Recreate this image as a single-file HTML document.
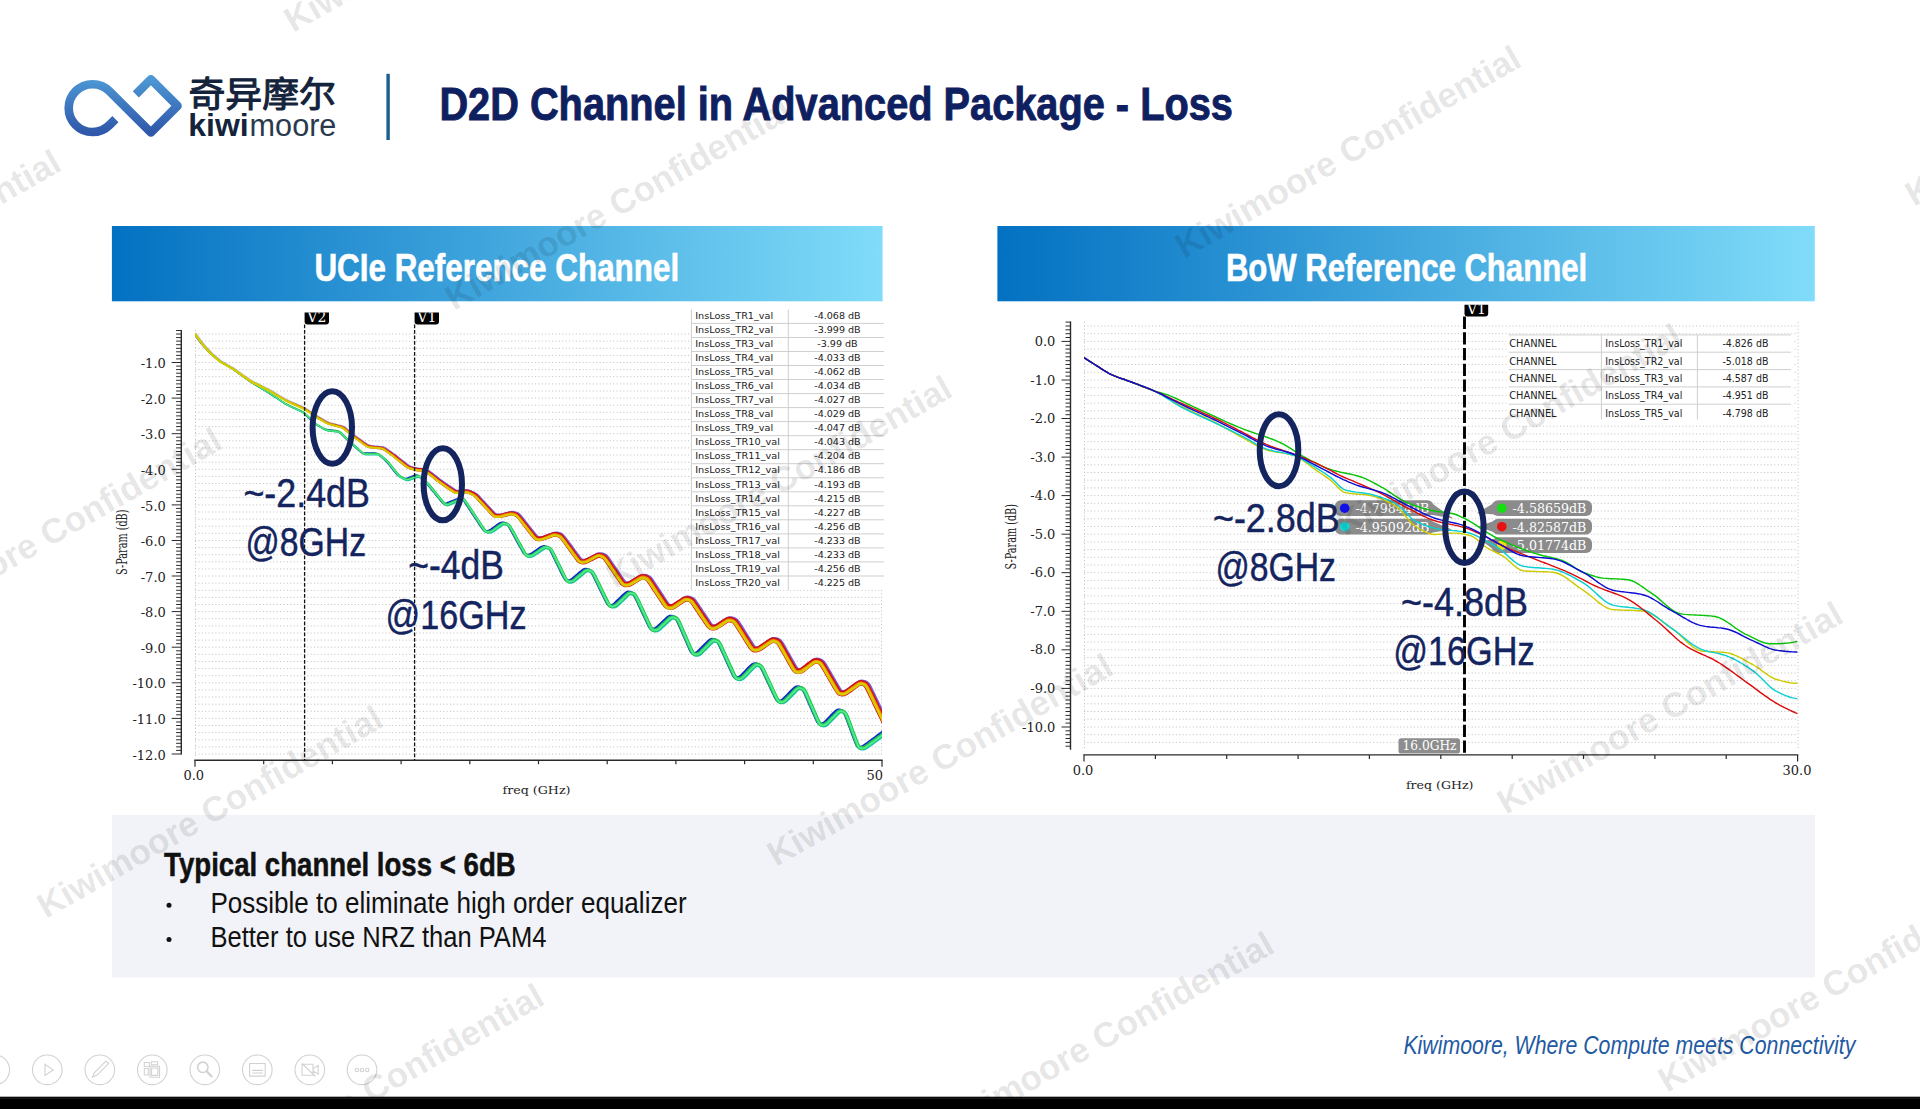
<!DOCTYPE html>
<html lang="en">
<head>
<meta charset="utf-8">
<title>D2D Channel in Advanced Package - Loss</title>
<style>
html,body{margin:0;padding:0;background:#fff;}
body{width:1920px;height:1109px;position:relative;overflow:hidden;font-family:"Liberation Sans",sans-serif;}
.abs{position:absolute;}
.cond{display:inline-block;white-space:nowrap;transform-origin:0 0;}
#slide{position:absolute;left:0;top:0;width:1920px;height:1109px;overflow:hidden;background:#fff;}
svg{position:absolute;left:0;top:0;overflow:visible;}
</style>
</head>
<body>
<div id="slide">
<svg id="art" width="1920" height="1109" viewBox="0 0 1920 1109">
<defs>
<linearGradient id="bg" x1="0" y1="0" x2="1" y2="0"><stop offset="0" stop-color="#0371c2"/><stop offset="1" stop-color="#80dcf9"/></linearGradient>
<linearGradient id="lg" x1="0" y1="0" x2="0" y2="1"><stop offset="0" stop-color="#4d97d4"/><stop offset="1" stop-color="#2f58aa"/></linearGradient>
<clipPath id="clipL"><rect x="195" y="328" width="687" height="428"/></clipPath>
<clipPath id="clipR"><rect x="1084" y="320" width="713.6" height="432"/></clipPath>
<clipPath id="clipV"><rect x="300" y="312.5" width="1300" height="20"/></clipPath>
</defs>
<rect x="111.9" y="226" width="770.7" height="75.3" fill="url(#bg)"/>
<rect x="997.4" y="226" width="817.4" height="75.3" fill="url(#bg)"/>
<rect x="112" y="814.8" width="1703" height="162.6" fill="#f2f3f8"/>
<path d="M115.4,119.1 L109.4,125.1 A23.9,23.9 0 1 1 109.5,91.2 L150.9,132.5 L177.5,105.9 L150.9,79.3 L135.8,94.4" fill="none" stroke="url(#lg)" stroke-width="8.6" stroke-linejoin="round"/>
<text x="188.5" y="107.3" font-size="35.6" fill="#14233c" font-family='"Liberation Sans", "Noto Sans CJK SC", sans-serif' textLength="147.5" lengthAdjust="spacingAndGlyphs" stroke="#14233c" stroke-width="1.05" stroke-linejoin="round">奇异摩尔</text>
<text x="188.3" y="135.5" font-size="31" fill="#14233c" font-family='"Liberation Sans", sans-serif' font-weight="bold" textLength="60.4" lengthAdjust="spacingAndGlyphs">kiwi</text>
<text x="249.6" y="135.5" font-size="31" fill="#2a3a4d" font-family='"Liberation Sans", sans-serif' textLength="86.8" lengthAdjust="spacingAndGlyphs">moore</text>
<rect x="386.4" y="73.8" width="3.4" height="66.2" fill="#1b5f8f"/>
<text x="439.4" y="119.5" font-size="46.3" fill="#0f2060" font-family='"Liberation Sans", sans-serif' font-weight="bold" textLength="793.5" lengthAdjust="spacingAndGlyphs" stroke="#0f2060" stroke-width="0.9">D2D Channel in Advanced Package - Loss</text>
<text x="314.4" y="280.5" font-size="38" fill="#fff" font-family='"Liberation Sans", sans-serif' font-weight="bold" textLength="364.8" lengthAdjust="spacingAndGlyphs" stroke="#fff" stroke-width="0.6">UCIe Reference Channel</text>
<text x="1225.9" y="280.7" font-size="38" fill="#fff" font-family='"Liberation Sans", sans-serif' font-weight="bold" textLength="361.2" lengthAdjust="spacingAndGlyphs" stroke="#fff" stroke-width="0.6">BoW Reference Channel</text>
<text x="164.1" y="876.3" font-size="33.5" fill="#111" font-family='"Liberation Sans", sans-serif' font-weight="bold" textLength="351.6" lengthAdjust="spacingAndGlyphs" stroke="#111" stroke-width="0.5">Typical channel loss &lt; 6dB</text>
<circle cx="169" cy="905.2" r="2.5" fill="#111"/>
<text x="210.4" y="912.7" font-size="29.5" fill="#111" font-family='"Liberation Sans", sans-serif' textLength="476.2" lengthAdjust="spacingAndGlyphs">Possible to eliminate high order equalizer</text>
<circle cx="169" cy="939.4" r="2.5" fill="#111"/>
<text x="210.4" y="946.7" font-size="29.5" fill="#111" font-family='"Liberation Sans", sans-serif' textLength="336" lengthAdjust="spacingAndGlyphs">Better to use NRZ than PAM4</text>
<text x="1403.4" y="1053.6" font-size="25" fill="#1f5aa3" font-family='"Liberation Sans", sans-serif' font-style="italic" textLength="451.9" lengthAdjust="spacingAndGlyphs">Kiwimoore, Where Compute meets Connectivity</text>
<g id="chartL">
<path d="M195,334H882M195,341.1H882M195,348.3H882M195,355.4H882M195,362.5H882M195,369.6H882M195,376.7H882M195,383.9H882M195,391H882M195,398.1H882M195,405.2H882M195,412.3H882M195,419.4H882M195,426.6H882M195,433.7H882M195,440.8H882M195,447.9H882M195,455H882M195,462.2H882M195,469.3H882M195,476.4H882M195,483.5H882M195,490.6H882M195,497.7H882M195,504.9H882M195,512H882M195,519.1H882M195,526.2H882M195,533.3H882M195,540.5H882M195,547.6H882M195,554.7H882M195,561.8H882M195,568.9H882M195,576H882M195,583.2H882M195,590.3H882M195,597.4H882M195,604.5H882M195,611.6H882M195,618.7H882M195,625.9H882M195,633H882M195,640.1H882M195,647.2H882M195,654.3H882M195,661.5H882M195,668.6H882M195,675.7H882M195,682.8H882M195,689.9H882M195,697H882M195,704.2H882M195,711.3H882M195,718.4H882M195,725.5H882M195,732.6H882M195,739.8H882M195,746.9H882M195,754H882" stroke="#c4c4c4" stroke-width="1" stroke-dasharray="1.1 2.3" fill="none"/>
<path d="M195.5,330V756 M881.5,590V756" stroke="#c4c4c4" stroke-width="1" stroke-dasharray="1.1 2.3" fill="none"/>
<path d="M181.3,330V754.6" stroke="#2a2a2a" stroke-width="1.4" fill="none"/>
<path d="M181.3,330.5h-5.2M181.3,334h-5.2M181.3,337.6h-5.2M181.3,341.1h-5.2M181.3,344.7h-5.2M181.3,348.3h-5.2M181.3,351.8h-5.2M181.3,355.4h-5.2M181.3,358.9h-5.2M181.3,362.5h-9.6M181.3,366.1h-5.2M181.3,369.6h-5.2M181.3,373.2h-5.2M181.3,376.7h-5.2M181.3,380.3h-5.2M181.3,383.9h-5.2M181.3,387.4h-5.2M181.3,391h-5.2M181.3,394.5h-5.2M181.3,398.1h-9.6M181.3,401.6h-5.2M181.3,405.2h-5.2M181.3,408.8h-5.2M181.3,412.3h-5.2M181.3,415.9h-5.2M181.3,419.4h-5.2M181.3,423h-5.2M181.3,426.6h-5.2M181.3,430.1h-5.2M181.3,433.7h-9.6M181.3,437.2h-5.2M181.3,440.8h-5.2M181.3,444.4h-5.2M181.3,447.9h-5.2M181.3,451.5h-5.2M181.3,455h-5.2M181.3,458.6h-5.2M181.3,462.2h-5.2M181.3,465.7h-5.2M181.3,469.3h-9.6M181.3,472.8h-5.2M181.3,476.4h-5.2M181.3,479.9h-5.2M181.3,483.5h-5.2M181.3,487.1h-5.2M181.3,490.6h-5.2M181.3,494.2h-5.2M181.3,497.7h-5.2M181.3,501.3h-5.2M181.3,504.9h-9.6M181.3,508.4h-5.2M181.3,512h-5.2M181.3,515.5h-5.2M181.3,519.1h-5.2M181.3,522.7h-5.2M181.3,526.2h-5.2M181.3,529.8h-5.2M181.3,533.3h-5.2M181.3,536.9h-5.2M181.3,540.5h-9.6M181.3,544h-5.2M181.3,547.6h-5.2M181.3,551.1h-5.2M181.3,554.7h-5.2M181.3,558.2h-5.2M181.3,561.8h-5.2M181.3,565.4h-5.2M181.3,568.9h-5.2M181.3,572.5h-5.2M181.3,576h-9.6M181.3,579.6h-5.2M181.3,583.2h-5.2M181.3,586.7h-5.2M181.3,590.3h-5.2M181.3,593.8h-5.2M181.3,597.4h-5.2M181.3,601h-5.2M181.3,604.5h-5.2M181.3,608.1h-5.2M181.3,611.6h-9.6M181.3,615.2h-5.2M181.3,618.7h-5.2M181.3,622.3h-5.2M181.3,625.9h-5.2M181.3,629.4h-5.2M181.3,633h-5.2M181.3,636.5h-5.2M181.3,640.1h-5.2M181.3,643.7h-5.2M181.3,647.2h-9.6M181.3,650.8h-5.2M181.3,654.3h-5.2M181.3,657.9h-5.2M181.3,661.5h-5.2M181.3,665h-5.2M181.3,668.6h-5.2M181.3,672.1h-5.2M181.3,675.7h-5.2M181.3,679.3h-5.2M181.3,682.8h-9.6M181.3,686.4h-5.2M181.3,689.9h-5.2M181.3,693.5h-5.2M181.3,697h-5.2M181.3,700.6h-5.2M181.3,704.2h-5.2M181.3,707.7h-5.2M181.3,711.3h-5.2M181.3,714.8h-5.2M181.3,718.4h-9.6M181.3,722h-5.2M181.3,725.5h-5.2M181.3,729.1h-5.2M181.3,732.6h-5.2M181.3,736.2h-5.2M181.3,739.8h-5.2M181.3,743.3h-5.2M181.3,746.9h-5.2M181.3,750.4h-5.2M181.3,754h-9.6" stroke="#2a2a2a" stroke-width="1" fill="none"/>
<text x="165.8" y="368.1" font-size="13" fill="#222" font-family='"DejaVu Serif", "Liberation Serif", serif' text-anchor="end">-1.0</text>
<text x="165.8" y="403.7" font-size="13" fill="#222" font-family='"DejaVu Serif", "Liberation Serif", serif' text-anchor="end">-2.0</text>
<text x="165.8" y="439.3" font-size="13" fill="#222" font-family='"DejaVu Serif", "Liberation Serif", serif' text-anchor="end">-3.0</text>
<text x="165.8" y="474.9" font-size="13" fill="#222" font-family='"DejaVu Serif", "Liberation Serif", serif' text-anchor="end">-4.0</text>
<text x="165.8" y="510.5" font-size="13" fill="#222" font-family='"DejaVu Serif", "Liberation Serif", serif' text-anchor="end">-5.0</text>
<text x="165.8" y="546.1" font-size="13" fill="#222" font-family='"DejaVu Serif", "Liberation Serif", serif' text-anchor="end">-6.0</text>
<text x="165.8" y="581.6" font-size="13" fill="#222" font-family='"DejaVu Serif", "Liberation Serif", serif' text-anchor="end">-7.0</text>
<text x="165.8" y="617.2" font-size="13" fill="#222" font-family='"DejaVu Serif", "Liberation Serif", serif' text-anchor="end">-8.0</text>
<text x="165.8" y="652.8" font-size="13" fill="#222" font-family='"DejaVu Serif", "Liberation Serif", serif' text-anchor="end">-9.0</text>
<text x="165.8" y="688.4" font-size="13" fill="#222" font-family='"DejaVu Serif", "Liberation Serif", serif' text-anchor="end">-10.0</text>
<text x="165.8" y="724" font-size="13" fill="#222" font-family='"DejaVu Serif", "Liberation Serif", serif' text-anchor="end">-11.0</text>
<text x="165.8" y="759.6" font-size="13" fill="#222" font-family='"DejaVu Serif", "Liberation Serif", serif' text-anchor="end">-12.0</text>
<text transform="translate(126.5,575) rotate(-90)" font-size="14.5" fill="#222" font-family='"DejaVu Serif", "Liberation Serif", serif' textLength="65.5" lengthAdjust="spacingAndGlyphs">S-Param (dB)</text>
<path d="M194.3,760.3H882.7" stroke="#2a2a2a" stroke-width="1.4" fill="none"/>
<path d="M195,760.3v6.5M263.7,760.3v4M332.4,760.3v4M401.1,760.3v4M469.8,760.3v4M538.5,760.3v4M607.2,760.3v4M675.9,760.3v4M744.6,760.3v4M813.3,760.3v4M882,760.3v6.5" stroke="#2a2a2a" stroke-width="1.2" fill="none"/>
<text x="193.8" y="779.9" font-size="13" fill="#222" font-family='"DejaVu Serif", "Liberation Serif", serif' text-anchor="middle">0.0</text>
<text x="883" y="779.9" font-size="13" fill="#222" font-family='"DejaVu Serif", "Liberation Serif", serif' text-anchor="end">50</text>
<text x="502.5" y="794" font-size="11.5" fill="#222" font-family='"DejaVu Serif", "Liberation Serif", serif' textLength="68" lengthAdjust="spacingAndGlyphs">freq (GHz)</text>
<linearGradient id="gRed" gradientUnits="userSpaceOnUse" x1="195" y1="0" x2="882" y2="0"><stop offset="0" stop-color="#c6c800"/><stop offset="0.09" stop-color="#c6c800"/><stop offset="0.3" stop-color="#d41010"/></linearGradient>
<linearGradient id="gOra" gradientUnits="userSpaceOnUse" x1="195" y1="0" x2="882" y2="0"><stop offset="0" stop-color="#cccc00"/><stop offset="0.09" stop-color="#cccc00"/><stop offset="0.3" stop-color="#f08a00"/></linearGradient>
<linearGradient id="gPur" gradientUnits="userSpaceOnUse" x1="195" y1="0" x2="882" y2="0"><stop offset="0" stop-color="#7a5ce0" stop-opacity="0.25"/><stop offset="0.12" stop-color="#7a5ce0" stop-opacity="0.35"/><stop offset="0.35" stop-color="#7a5ce0" stop-opacity="1"/></linearGradient>
<g clip-path="url(#clipL)" stroke="none">
<path d="M193.8,332.4 195.3,334.5 196.8,336.5 198.3,338.6 199.8,340.6 201.2,342.6 202.7,344.4 204.2,346 205.7,347.7 207.2,349.3 208.7,350.9 210.2,352.4 211.6,353.8 213.1,355.1 214.6,356.4 216.1,357.6 217.6,358.9 219.1,360.1 220.5,361.1 222,361.9 223.5,362.8 225,363.7 226.5,364.5 228,365.4 229.5,366.3 231,367.2 232.5,368.2 234,369.3 235.6,370.4 237.1,371.5 238.6,372.6 240.1,373.7 241.6,374.8 243.1,375.9 244.6,377 246.1,378 247.5,379.1 249,380.2 250.5,381.1 252,382 253.5,382.9 255,383.8 256.5,384.7 258,385.6 259.5,386.5 261,387.4 262.5,388.3 264,389.2 265.5,390.1 267,391.1 268.5,392 270,393 271.5,394 273,395 274.5,396 276,397 277.5,398 279,399 280.5,400 282,401 283.5,402 285,402.9 286.4,403.6 287.9,404.3 289.4,405 290.9,405.7 292.4,406.4 293.9,407.1 295.4,407.8 296.9,408.5 298.4,409.2 299.9,409.9 301.5,410.7 303.1,411.7 304.7,413.1 306.2,414.5 307.7,416 309.2,417.4 310.7,418.9 312.2,420.3 313.7,421.7 315.1,422.9 316.5,423.9 318,424.7 319.5,425.6 321,426.4 322.5,427.3 323.9,428 325.3,428.6 326.7,428.8 328.1,429 329.6,429.2 331.1,429.3 332.6,429.5 334.1,429.7 335.7,429.8 337.3,430.2 339.1,431 340.7,432.3 342.3,433.8 343.8,435.3 345.3,436.8 346.8,438.3 348.3,439.7 349.8,441.1 351.3,442.4 352.8,443.8 354.3,445.1 355.8,446.4 357.3,447.8 358.8,449.1 360.2,450.4 361.6,451.6 362.9,452.2 364.1,452.3 365.5,452.3 367,452.3 368.5,452.3 370,452.3 371.5,452.3 373,452.3 374.6,452.3 376.3,452.5 378.1,453.2 379.7,454.4 381.3,455.7 382.8,456.9 384.3,458.2 385.9,459.6 387.4,461.3 389,463.1 390.5,465 392,466.9 393.5,468.7 395,470.6 396.5,472.4 397.9,474.1 399.2,475.2 400.6,476 402.1,476.7 403.5,477.4 404.7,477.8 405.8,477.8 407.1,477.4 408.5,476.8 410,476.3 411.5,475.7 413,475.1 414.7,474.5 416.6,474.2 418.7,474.9 420.4,476.2 421.9,477.5 423.4,478.9 424.9,480.2 426.5,481.7 428,483.4 429.6,485.2 431.1,487 432.6,488.9 434.1,490.7 435.6,492.5 437.1,494.4 438.6,496.2 440.1,498 441.6,499.9 443,501.5 444.2,502.6 444.9,502.7 446.1,502.4 447.5,501.8 449,501.2 450.5,500.6 452,500 453.5,499.4 455,498.8 456.5,498.2 458,497.6 459.8,497.1 462.2,497.4 464.1,499.1 465.7,501.4 467.2,503.7 468.7,505.9 470.3,508.2 471.8,510.5 473.3,512.8 474.8,515 476.3,517.3 477.8,519.6 479.3,521.9 480.8,524.1 482.3,526.4 483.7,528.4 484.9,529.6 485.8,529.9 486.9,529.9 488.1,529.8 489.3,529.3 490.6,528.4 492.1,527.3 493.6,526.2 495.1,525.2 496.6,524.1 498.1,523 499.9,521.9 501.9,521.4 503.8,521.6 505.5,522.1 507.5,523 509.3,524.8 510.9,527.4 512.4,530.1 513.9,532.8 515.4,535.6 516.9,538.3 518.4,541 519.9,543.7 521.4,546.4 522.9,549.1 524.4,551.6 525.6,553.3 526.5,553.7 527.5,553.7 528.6,553.6 529.8,553.2 531.1,552.4 532.6,551.4 534,550.4 535.5,549.4 537,548.4 538.5,547.3 540.1,546.3 542,545.4 544,545.1 545.9,545.4 547.7,545.9 549.7,547.1 551.5,549.4 553.1,552.3 554.6,555.4 556.1,558.5 557.6,561.5 559.1,564.6 560.6,567.7 562.1,570.7 563.6,573.8 565.1,576.6 566.3,578.7 567.2,579.2 568,579.3 569.1,579.2 570.1,578.8 571.4,577.9 572.8,576.7 574.3,575.4 575.8,574.2 577.3,572.9 578.8,571.6 580.3,570.4 582,569.1 583.9,568 586.1,567.8 588,568.2 589.9,568.8 591.9,570.3 593.6,572.9 595.2,575.9 596.7,578.9 598.2,582 599.7,585.1 601.2,588.1 602.7,591.2 604.2,594.2 605.7,597.3 607.2,600.3 608.6,602.8 609.6,603.8 610.3,603.9 611.2,603.9 612.2,603.7 613.3,602.9 614.7,601.6 616.1,600.1 617.6,598.7 619.1,597.2 620.6,595.8 622.1,594.3 623.7,592.9 625.5,591.4 627.7,590.6 629.9,590.8 631.7,591.3 633.8,592.3 635.7,594.5 637.3,597.6 638.8,600.8 640.3,604 641.8,607.2 643.3,610.4 644.8,613.6 646.3,616.8 647.9,620 649.3,623.2 650.7,626 651.8,627.4 652.4,627.6 653.3,627.6 654.2,627.5 655.3,626.8 656.6,625.7 658.1,624.3 659.6,622.9 661.1,621.5 662.6,620.1 664.1,618.7 665.6,617.3 667.4,615.8 669.5,614.8 671.8,614.8 673.6,615.2 675.7,616.1 677.7,618.2 679.3,621.2 680.9,624.7 682.4,628.1 683.9,631.6 685.4,635 686.9,638.5 688.4,641.9 689.9,645.4 691.3,648.7 692.7,651.1 693.5,651.9 694.1,651.9 695,651.9 695.9,651.5 697.1,650.5 698.6,649.1 700,647.6 701.5,646.1 703,644.6 704.5,643.1 706.1,641.6 707.6,640 709.5,638.5 711.8,637.8 713.9,638.1 715.8,638.6 717.9,639.8 719.8,642.3 721.3,645.4 722.9,648.7 724.4,652 725.9,655.3 727.4,658.6 728.9,661.9 730.4,665.2 731.9,668.5 733.4,671.8 734.8,674.6 735.9,676.1 736.4,676.3 737.3,676.3 738.2,676.1 739.2,675.5 740.6,674.2 742,672.7 743.5,671.2 745,669.7 746.5,668.1 748,666.6 749.6,665.1 751.3,663.5 753.5,662.4 755.7,662.3 757.6,662.7 759.6,663.6 761.6,665.5 763.3,668.3 764.9,671.5 766.4,674.7 767.9,677.9 769.4,681.1 770.9,684.3 772.4,687.5 773.9,690.6 775.3,693.8 776.8,696.8 778.1,698.9 778.8,699.4 779.5,699.4 780.4,699.4 781.4,698.9 782.6,697.8 784,696.4 785.5,694.9 787,693.4 788.5,691.8 790,690.3 791.6,688.8 793.2,687.2 795.1,685.8 797.5,685.3 799.5,685.6 801.4,686.3 803.5,687.8 805.3,690.5 806.9,693.8 808.4,697.3 809.9,700.7 811.4,704.1 812.9,707.6 814.4,711 815.9,714.4 817.4,717.8 818.8,720.8 819.9,722.3 820.5,722.5 821.3,722.5 822.2,722.3 823.2,721.7 824.6,720.4 826,718.9 827.5,717.4 829,715.9 830.5,714.3 832,712.8 833.6,711.3 835.3,709.7 837.5,708.6 839.7,708.5 841.7,709 843.8,710 845.8,712.3 847.4,715.8 848.9,719.9 850.4,724 851.9,728 853.4,732.1 854.9,736.2 856.4,740.2 857.8,743.8 859,745.6 859.5,745.7 860.3,745.7 861.4,745.6 862.5,745 863.8,744.1 865.3,743 866.8,741.9 868.3,740.8 869.8,739.7 871.3,738.6 872.8,737.5 874.3,736.4 875.8,735.3 877.3,734.1 878.8,733 880.3,731.9 881.8,730.8 L883.6,733.3 882.1,734.4 880.6,735.5 879.1,736.6 877.6,737.7 876.1,738.8 874.6,739.9 873.1,741 871.6,742.1 870.1,743.2 868.6,744.3 867.1,745.4 865.6,746.5 864,747.6 862.3,748.4 860.6,748.8 858.8,748.7 856.8,747.7 855.1,745.1 853.6,741.3 852.1,737.3 850.6,733.2 849.1,729.1 847.6,725 846.1,720.9 844.6,717 843.1,713.8 841.9,712.3 840.7,711.8 839.4,711.5 838.3,711.5 837.1,712.2 835.7,713.5 834.2,715 832.7,716.5 831.2,718 829.7,719.5 828.2,721 826.7,722.6 825.1,724.1 823.4,725.1 821.6,725.5 819.8,725.5 817.8,724.6 816.1,722.3 814.6,719.1 813.1,715.6 811.6,712.2 810.1,708.8 808.6,705.4 807.1,701.9 805.6,698.5 804.1,695.1 802.6,691.9 801.3,689.8 800,689 798.8,688.6 797.5,688.4 796.4,688.6 795.2,689.5 793.7,691 792.2,692.5 790.7,694 789.2,695.5 787.7,697 786.2,698.6 784.7,700.1 783.1,701.5 781.3,702.3 779.5,702.5 777.6,702.2 775.7,700.9 774.1,698.3 772.6,695.1 771.1,691.9 769.6,688.8 768.1,685.6 766.6,682.4 765.1,679.2 763.6,676 762.1,672.8 760.6,669.8 759.2,667.3 757.9,666.1 756.7,665.6 755.4,665.3 754.3,665.3 753.1,666 751.7,667.3 750.2,668.8 748.7,670.3 747.2,671.8 745.7,673.3 744.2,674.8 742.7,676.4 741.1,677.9 739.4,678.9 737.6,679.3 735.8,679.3 733.8,678.4 732.1,676.2 730.6,673.1 729.1,669.8 727.6,666.5 726.1,663.2 724.6,659.9 723.1,656.6 721.6,653.3 720.1,650 718.6,646.7 717.1,643.8 715.8,642.1 714.6,641.4 713.3,641 712.1,640.9 711,641.2 709.7,642.3 708.2,643.7 706.7,645.2 705.2,646.8 703.7,648.3 702.2,649.8 700.7,651.3 699.2,652.8 697.5,654.1 695.7,654.8 693.9,655 692,654.6 690.2,652.9 688.6,650 687.1,646.6 685.6,643.1 684.1,639.7 682.6,636.2 681.1,632.8 679.6,629.3 678.1,625.9 676.6,622.6 675.2,619.9 673.9,618.6 672.7,618.1 671.4,617.8 670.2,617.8 669.1,618.4 667.7,619.6 666.2,620.9 664.7,622.3 663.2,623.7 661.7,625.1 660.2,626.5 658.7,627.9 657.1,629.3 655.4,630.3 653.6,630.7 651.8,630.6 649.9,629.8 648.1,627.6 646.6,624.5 645.1,621.3 643.6,618.1 642.1,614.9 640.6,611.7 639.1,608.5 637.6,605.3 636.1,602 634.6,598.9 633.2,596.2 631.9,594.6 630.7,594 629.3,593.7 628.1,593.5 627,593.9 625.6,595.1 624.2,596.5 622.7,597.9 621.2,599.3 619.7,600.8 618.2,602.2 616.6,603.7 615.1,605.1 613.4,606.3 611.6,606.8 609.9,606.8 608,606.2 606.2,604.4 604.7,601.6 603.2,598.6 601.7,595.5 600.2,592.4 598.7,589.4 597.2,586.3 595.7,583.2 594.2,580.2 592.7,577.1 591.2,574.3 589.8,572.2 588.6,571.3 587.3,570.9 585.9,570.6 584.8,570.6 583.5,571.3 582.1,572.5 580.6,573.7 579.1,575 577.6,576.2 576.1,577.5 574.6,578.8 573,580 571.4,581.1 569.7,581.8 568,581.9 566.2,581.7 564.4,580.4 562.8,577.9 561.2,574.9 559.7,571.9 558.2,568.8 556.7,565.7 555.2,562.7 553.7,559.6 552.2,556.5 550.8,553.5 549.3,550.7 547.9,549 546.7,548.3 545.3,547.9 544,547.6 542.8,547.8 541.4,548.5 540,549.4 538.5,550.5 537,551.5 535.5,552.5 534,553.5 532.4,554.5 530.8,555.5 529.2,556 527.5,556.2 525.8,556 524,555.1 522.3,553 520.8,550.3 519.3,547.6 517.8,544.9 516.3,542.2 514.8,539.5 513.3,536.7 511.8,534 510.3,531.3 508.8,528.6 507.4,526.3 506,524.9 504.7,524.3 503.4,524 502,523.8 500.8,524.1 499.4,524.9 497.9,526 496.4,527 494.9,528.1 493.4,529.2 491.9,530.3 490.3,531.3 488.7,532 487,532.2 485.4,532.1 483.6,531.5 481.9,529.8 480.4,527.6 478.9,525.4 477.4,523.1 475.9,520.8 474.4,518.5 472.9,516.3 471.4,514 469.9,511.7 468.4,509.4 466.9,507.1 465.4,504.9 463.9,502.6 462.5,500.5 461.2,499.3 460.1,499.2 458.7,499.7 457.2,500.2 455.7,500.8 454.2,501.4 452.7,502 451.2,502.6 449.7,503.2 448.2,503.8 446.7,504.4 445,504.8 443.2,504.4 441.5,503 440,501.2 438.5,499.3 437,497.5 435.5,495.7 434,493.8 432.5,492 431,490.2 429.5,488.3 428,486.5 426.5,484.7 425.1,483.1 423.6,481.7 422.1,480.3 420.6,479 419.1,477.7 417.7,476.6 416.4,476.2 415.2,476.4 413.7,476.9 412.2,477.5 410.7,478.1 409.2,478.6 407.7,479.2 406.1,479.7 404.4,479.7 402.8,479.1 401.2,478.4 399.7,477.6 398.2,476.7 396.6,475.4 395.1,473.6 393.6,471.8 392.1,469.9 390.6,468 389.1,466.1 387.6,464.2 386.1,462.5 384.6,460.9 383.1,459.6 381.6,458.3 380.1,457 378.7,455.8 377.2,454.8 375.9,454.2 374.5,454.1 373,454 371.5,454 370,454 368.5,454 367,454 365.5,454 364,454 362.3,453.8 360.7,453 359.2,451.7 357.7,450.4 356.2,449 354.7,447.7 353.2,446.3 351.7,445 350.2,443.6 348.7,442.3 347.2,440.9 345.7,439.4 344.2,437.9 342.7,436.4 341.2,434.9 339.7,433.5 338.2,432.3 336.9,431.6 335.4,431.4 333.9,431.2 332.4,431 330.9,430.9 329.4,430.7 327.9,430.5 326.4,430.3 324.9,430 323.3,429.4 321.8,428.6 320.3,427.7 318.8,426.9 317.3,426 315.8,425.1 314.2,424.1 312.7,422.8 311.2,421.4 309.7,419.9 308.2,418.5 306.7,417 305.2,415.5 303.7,414.1 302.2,412.8 300.8,411.9 299.3,411.2 297.8,410.5 296.3,409.8 294.8,409.1 293.3,408.4 291.8,407.7 290.3,407 288.8,406.3 287.3,405.6 285.8,404.8 284.3,404.1 282.8,403.1 281.3,402.1 279.8,401.1 278.3,400.1 276.8,399.1 275.3,398.1 273.8,397.2 272.3,396.2 270.8,395.2 269.3,394.2 267.8,393.2 266.3,392.2 264.8,391.3 263.3,390.4 261.8,389.5 260.3,388.6 258.8,387.7 257.3,386.8 255.8,385.9 254.3,385 252.8,384.1 251.3,383.2 249.8,382.2 248.3,381.3 246.8,380.2 245.3,379.1 243.8,378 242.3,376.9 240.8,375.9 239.3,374.8 237.8,373.7 236.3,372.6 234.8,371.5 233.3,370.4 231.8,369.3 230.3,368.4 228.8,367.4 227.3,366.6 225.8,365.7 224.3,364.8 222.8,364 221.3,363.1 219.8,362.2 218.3,361.1 216.7,359.9 215.2,358.7 213.7,357.4 212.2,356.1 210.7,354.8 209.2,353.4 207.7,351.8 206.2,350.2 204.7,348.6 203.2,346.9 201.7,345.3 200.2,343.4 198.7,341.4 197.2,339.4 195.7,337.3 194.2,335.3 192.7,333.2Z" fill="#1228cc"/>
<path d="M195.7,333.6 197.2,335.6 198.7,337.7 200.2,339.7 201.7,341.8 203.2,343.7 204.7,345.5 206.2,347.2 207.7,348.8 209.2,350.4 210.7,352.1 212.2,353.6 213.7,355 215.2,356.3 216.7,357.6 218.2,358.8 219.7,360.1 221.1,361.3 222.6,362.3 224.1,363.2 225.6,364.1 227.1,364.9 228.6,365.8 230.1,366.7 231.6,367.6 233.1,368.5 234.6,369.5 236.1,370.6 237.6,371.7 239.1,372.7 240.6,373.8 242.1,374.9 243.6,376 245.1,377.1 246.6,378.2 248.1,379.3 249.6,380.4 251.1,381.4 252.6,382.4 254.1,383.3 255.6,384.2 257.1,385.1 258.6,386 260.1,386.9 261.6,387.8 263.1,388.7 264.6,389.6 266.1,390.5 267.6,391.4 269.1,392.3 270.6,393.3 272.1,394.3 273.6,395.3 275.1,396.3 276.6,397.3 278.1,398.3 279.6,399.3 281.1,400.3 282.6,401.3 284.1,402.3 285.6,403.3 287.1,404.2 288.6,404.9 290.1,405.6 291.6,406.3 293.1,407 294.6,407.7 296.1,408.4 297.6,409.1 299.1,409.8 300.6,410.5 302.1,411.2 303.6,412 305.2,413 306.7,414.3 308.2,415.7 309.7,417.2 311.2,418.6 312.7,420.1 314.2,421.6 315.7,423 317.2,424.2 318.6,425.2 320.1,426 321.6,426.9 323.1,427.7 324.6,428.6 326.1,429.4 327.5,429.9 329,430.2 330.5,430.4 332,430.6 333.5,430.7 335,430.9 336.5,431.1 338,431.2 339.5,431.5 341.2,432.3 342.7,433.6 344.2,435.1 345.7,436.6 347.2,438 348.7,439.5 350.2,441 351.7,442.3 353.2,443.7 354.7,445 356.2,446.4 357.7,447.7 359.2,449.1 360.7,450.4 362.2,451.7 363.7,452.9 365.1,453.6 366.4,453.8 367.9,453.8 369.4,453.8 370.9,453.8 372.4,453.8 373.9,453.8 375.4,453.8 376.9,453.8 378.5,453.9 380.2,454.6 381.7,455.7 383.3,457 384.8,458.3 386.3,459.5 387.8,460.9 389.3,462.5 390.8,464.3 392.3,466.2 393.8,468.1 395.3,470 396.8,471.8 398.3,473.7 399.8,475.3 401.2,476.5 402.7,477.4 404.2,478.1 405.6,478.8 407,479.3 408.3,479.3 409.7,478.9 411.2,478.3 412.7,477.7 414.2,477.2 415.7,476.6 417.2,476 419,475.7 420.7,476.3 422.3,477.6 423.8,478.9 425.3,480.2 426.8,481.6 428.3,483 429.9,484.7 431.4,486.5 432.9,488.3 434.4,490.1 435.9,492 437.4,493.8 438.9,495.6 440.4,497.5 441.9,499.3 443.4,501.1 444.9,502.9 446.2,504.1 447.4,504.3 448.7,503.9 450.2,503.3 451.7,502.7 453.2,502.1 454.7,501.6 456.2,501 457.7,500.4 459.2,499.8 460.7,499.2 462.3,498.7 464.2,498.9 465.9,500.4 467.5,502.6 469,504.9 470.5,507.2 472,509.4 473.5,511.7 475,514 476.5,516.3 478,518.6 479.5,520.8 481,523.1 482.5,525.4 484,527.6 485.5,529.7 486.8,531.1 488,531.5 489.4,531.5 490.7,531.4 492.1,530.8 493.5,529.9 495,528.8 496.5,527.7 498,526.6 499.5,525.5 501,524.5 502.6,523.5 504.4,523.1 506,523.3 507.7,523.7 509.4,524.5 511,526.2 512.6,528.6 514.1,531.3 515.6,534.1 517.1,536.8 518.6,539.5 520.1,542.2 521.6,544.9 523.1,547.7 524.6,550.4 526.1,552.9 527.4,554.7 528.6,555.3 529.9,555.4 531.2,555.3 532.6,554.8 534,554 535.4,553 536.9,551.9 538.4,550.9 539.9,549.9 541.4,548.9 543,547.9 544.6,547 546.4,546.8 548.1,547.1 549.7,547.6 551.5,548.6 553.1,550.7 554.6,553.5 556.2,556.6 557.7,559.7 559.2,562.7 560.7,565.8 562.2,568.9 563.7,571.9 565.2,575 566.6,577.9 568,580.1 569.2,580.9 570.4,581 571.7,580.9 573,580.4 574.4,579.4 575.8,578.2 577.3,577 578.8,575.7 580.3,574.4 581.8,573.2 583.3,571.9 584.9,570.7 586.6,569.7 588.5,569.6 590.1,569.9 591.8,570.5 593.6,571.8 595.2,574.1 596.7,577.1 598.2,580.2 599.7,583.2 601.2,586.3 602.7,589.4 604.2,592.4 605.7,595.5 607.2,598.5 608.7,601.5 610.2,604.1 611.4,605.5 612.5,605.7 613.8,605.7 615,605.4 616.3,604.5 617.8,603.1 619.2,601.7 620.7,600.2 622.2,598.8 623.7,597.3 625.2,595.9 626.8,594.4 628.4,593.1 630.3,592.4 632.1,592.6 633.7,593 635.5,593.9 637.2,595.9 638.8,598.8 640.3,602 641.8,605.2 643.3,608.4 644.8,611.7 646.3,614.9 647.8,618.1 649.3,621.3 650.8,624.5 652.3,627.3 653.5,629 654.6,629.4 655.8,629.5 657,629.2 658.3,628.5 659.7,627.2 661.2,625.9 662.7,624.5 664.2,623.1 665.7,621.7 667.2,620.3 668.7,618.9 670.3,617.5 672.2,616.6 674,616.6 675.7,617 677.5,617.8 679.2,619.6 680.8,622.5 682.3,625.9 683.8,629.3 685.3,632.8 686.8,636.2 688.3,639.7 689.8,643.1 691.3,646.6 692.8,649.9 694.2,652.5 695.4,653.6 696.5,653.8 697.7,653.7 698.9,653.2 700.2,652.1 701.7,650.7 703.2,649.2 704.7,647.7 706.2,646.1 707.7,644.6 709.2,643.1 710.7,641.6 712.4,640.3 714.3,639.7 716.1,639.9 717.8,640.4 719.6,641.4 721.3,643.6 722.8,646.7 724.3,650 725.8,653.3 727.3,656.6 728.8,659.9 730.3,663.2 731.8,666.5 733.3,669.8 734.8,673 736.3,676 737.6,677.7 738.6,678.1 739.8,678.2 741,677.9 742.3,677.1 743.7,675.7 745.2,674.2 746.7,672.7 748.2,671.2 749.7,669.7 751.2,668.2 752.7,666.6 754.3,665.2 756.1,664.2 758,664.1 759.7,664.5 761.5,665.3 763.2,666.9 764.8,669.6 766.3,672.8 767.8,676 769.3,679.2 770.8,682.3 772.3,685.5 773.8,688.7 775.3,691.9 776.8,695.1 778.3,698.1 779.7,700.4 780.8,701.2 781.9,701.3 783.1,701.2 784.3,700.6 785.7,699.4 787.2,697.9 788.7,696.4 790.2,694.9 791.7,693.4 793.2,691.9 794.7,690.3 796.2,688.8 798,687.6 799.9,687.2 801.6,687.5 803.4,688 805.1,689.3 806.8,691.8 808.3,695.1 809.8,698.5 811.3,701.9 812.8,705.3 814.3,708.8 815.8,712.2 817.3,715.6 818.8,719 820.3,722.1 821.6,723.9 822.6,724.3 823.8,724.4 825,724.1 826.3,723.3 827.7,721.9 829.2,720.4 830.7,718.9 832.2,717.4 833.7,715.9 835.2,714.4 836.7,712.8 838.3,711.4 840.1,710.4 842,710.3 843.7,710.8 845.5,711.6 847.3,713.6 848.8,717 850.3,721 851.8,725.1 853.3,729.2 854.8,733.3 856.3,737.4 857.8,741.4 859.3,745 860.6,747.1 861.6,747.6 862.8,747.6 864.1,747.4 865.4,746.7 866.8,745.7 868.3,744.6 869.8,743.5 871.3,742.4 872.8,741.3 874.3,740.2 875.8,739.1 877.3,738 878.8,736.9 880.3,735.8 881.8,734.7 883.3,733.6 884.8,732.5 L886.6,734.9 885.1,736 883.6,737.1 882.1,738.2 880.6,739.4 879.1,740.5 877.6,741.6 876.1,742.7 874.6,743.8 873.1,744.9 871.6,746 870.1,747.1 868.6,748.2 866.9,749.3 865,750.2 863.1,750.6 860.9,750.5 858.4,749.3 856.6,746.4 855,742.5 853.5,738.4 852,734.3 850.5,730.3 849,726.2 847.5,722.1 846,718.2 844.6,715.2 843.6,714 842.7,713.6 841.7,713.4 840.9,713.3 840.1,713.8 838.8,715 837.4,716.5 835.9,718 834.4,719.5 832.9,721.1 831.4,722.6 829.8,724.1 828.2,725.7 826.2,726.9 824.1,727.4 821.9,727.3 819.5,726.2 817.6,723.6 816,720.3 814.5,716.9 813,713.4 811.5,710 810,706.6 808.5,703.1 807,699.7 805.5,696.3 804.1,693.3 802.9,691.3 802,690.7 800.9,690.4 799.9,690.2 799.3,690.3 798.2,691.1 796.8,692.5 795.4,694 793.9,695.5 792.4,697 790.9,698.6 789.4,700.1 787.8,701.6 786,703.1 784,704.1 781.9,704.3 779.6,704 777.3,702.3 775.6,699.6 774.1,696.4 772.5,693.2 771,690 769.5,686.8 768,683.6 766.5,680.5 765,677.3 763.5,674.1 762.1,671.1 760.8,668.7 759.8,667.8 758.8,667.4 757.7,667.2 756.9,667.1 756.1,667.6 754.8,668.8 753.4,670.3 751.9,671.8 750.4,673.3 748.9,674.9 747.4,676.4 745.8,677.9 744.2,679.5 742.2,680.7 740.1,681.2 738,681.1 735.5,680 733.6,677.5 732,674.3 730.5,671 729,667.7 727.5,664.4 726,661.1 724.5,657.8 723,654.5 721.5,651.2 720.1,648 718.6,645.2 717.5,643.6 716.6,643.2 715.5,642.9 714.6,642.7 713.9,642.9 712.8,643.9 711.3,645.3 709.9,646.8 708.4,648.3 706.9,649.8 705.4,651.3 703.8,652.8 702.3,654.4 700.5,655.8 698.4,656.7 696.3,656.8 693.9,656.3 691.7,654.3 690.1,651.2 688.5,647.8 687,644.4 685.5,640.9 684,637.5 682.5,634 681,630.6 679.5,627.1 678.1,623.8 676.7,621.3 675.7,620.3 674.8,619.9 673.6,619.7 672.9,619.6 672,620.1 670.8,621.2 669.3,622.5 667.8,623.9 666.3,625.3 664.8,626.7 663.3,628.1 661.8,629.5 660.1,630.9 658.2,632.1 656.1,632.5 654,632.4 651.6,631.4 649.7,628.9 648.1,625.8 646.5,622.6 645.1,619.4 643.6,616.1 642.1,612.9 640.6,609.7 639.1,606.5 637.6,603.3 636.1,600.2 634.7,597.5 633.6,596.2 632.7,595.8 631.5,595.5 630.7,595.3 629.9,595.6 628.7,596.6 627.3,598 625.8,599.4 624.3,600.9 622.8,602.3 621.3,603.8 619.7,605.2 618.1,606.7 616.2,608 614.2,608.6 612.1,608.6 609.8,607.8 607.8,605.8 606.2,602.9 604.7,599.8 603.2,596.7 601.7,593.7 600.2,590.6 598.7,587.5 597.2,584.5 595.7,581.4 594.2,578.4 592.8,575.5 591.5,573.6 590.5,572.9 589.4,572.6 588.3,572.3 587.5,572.3 586.4,572.9 585.1,574 583.6,575.3 582.1,576.5 580.6,577.8 579.1,579 577.6,580.3 576,581.6 574.3,582.8 572.3,583.5 570.4,583.7 568.2,583.4 566.1,581.8 564.3,579.2 562.8,576.2 561.3,573.1 559.8,570 558.3,566.9 556.8,563.9 555.3,560.8 553.8,557.7 552.3,554.7 550.9,552 549.7,550.4 548.7,549.9 547.5,549.6 546.4,549.3 545.4,549.4 544.3,550.1 542.9,551 541.4,552 539.9,553 538.4,554 536.8,555 535.3,556.1 533.6,557 531.8,557.7 529.9,557.9 527.9,557.7 525.8,556.5 524,554.3 522.5,551.6 521,548.8 519.5,546.1 518,543.4 516.5,540.7 515,537.9 513.5,535.2 512,532.5 510.5,529.8 509.1,527.6 507.9,526.4 506.9,525.9 505.6,525.6 504.5,525.4 503.5,525.6 502.3,526.4 500.8,527.4 499.3,528.5 497.8,529.6 496.3,530.7 494.8,531.8 493.1,532.8 491.3,533.6 489.5,533.8 487.6,533.7 485.5,533 483.7,531.2 482.1,528.9 480.6,526.6 479.1,524.3 477.6,522.1 476.1,519.8 474.6,517.5 473.1,515.2 471.6,512.9 470.1,510.7 468.7,508.4 467.2,506.1 465.7,503.8 464.3,501.8 463.2,500.8 462.6,500.8 461.4,501.2 459.9,501.8 458.4,502.4 456.9,502.9 455.4,503.5 453.9,504.1 452.4,504.7 450.9,505.3 449.3,505.9 447.5,506.4 445.2,505.9 443.4,504.3 441.8,502.5 440.3,500.6 438.8,498.8 437.3,496.9 435.8,495.1 434.3,493.3 432.8,491.4 431.3,489.6 429.8,487.8 428.4,486 426.9,484.4 425.5,483 424,481.7 422.5,480.4 421,479.1 419.7,478 418.8,477.7 417.7,477.9 416.4,478.4 414.9,479 413.4,479.5 411.9,480.1 410.3,480.7 408.6,481.2 406.7,481.2 404.9,480.6 403.3,479.8 401.8,479 400.2,478.1 398.5,476.7 396.9,474.9 395.4,473 393.9,471.1 392.4,469.2 390.9,467.3 389.4,465.5 388,463.7 386.5,462.2 385.1,460.9 383.6,459.6 382.1,458.4 380.7,457.1 379.3,456.1 378.1,455.6 376.8,455.5 375.4,455.5 373.9,455.5 372.4,455.5 370.9,455.5 369.4,455.5 367.9,455.5 366.3,455.4 364.5,455.2 362.8,454.3 361.2,453 359.6,451.7 358.1,450.3 356.6,448.9 355.1,447.6 353.6,446.2 352.1,444.9 350.6,443.5 349.1,442.1 347.6,440.7 346.1,439.2 344.6,437.7 343.1,436.2 341.7,434.7 340.3,433.6 339.1,433 337.7,432.8 336.3,432.6 334.8,432.4 333.3,432.3 331.8,432.1 330.3,431.9 328.7,431.7 327.1,431.4 325.5,430.7 323.9,429.9 322.4,429 320.9,428.2 319.4,427.3 317.9,426.4 316.3,425.4 314.7,424.1 313.2,422.6 311.7,421.1 310.2,419.7 308.7,418.2 307.2,416.7 305.7,415.3 304.3,414.1 302.9,413.2 301.5,412.5 300,411.8 298.5,411.1 297,410.4 295.5,409.7 294,409 292.5,408.3 291,407.6 289.5,406.8 288,406.1 286.4,405.3 284.9,404.4 283.4,403.4 281.9,402.4 280.4,401.4 278.9,400.4 277.4,399.4 275.9,398.4 274.4,397.4 272.9,396.4 271.4,395.4 269.9,394.4 268.4,393.5 266.9,392.5 265.4,391.6 263.9,390.7 262.4,389.8 260.9,388.9 259.4,388 257.9,387.1 256.4,386.2 254.9,385.3 253.4,384.4 251.9,383.5 250.4,382.5 248.9,381.5 247.3,380.4 245.8,379.3 244.3,378.2 242.8,377.1 241.3,376 239.8,374.9 238.3,373.8 236.8,372.7 235.4,371.7 233.9,370.6 232.4,369.6 230.9,368.7 229.4,367.8 227.9,367 226.4,366.1 224.9,365.2 223.4,364.4 221.9,363.4 220.3,362.4 218.8,361.1 217.3,359.9 215.8,358.6 214.3,357.3 212.8,356 211.2,354.6 209.7,353 208.2,351.4 206.7,349.7 205.2,348.1 203.7,346.4 202.2,344.6 200.6,342.6 199.1,340.5 197.6,338.5 196.1,336.4 194.6,334.4Z" fill="#18c2c4"/>
<path d="M195.4,332.8 196.9,334.9 198.4,337 199.9,339 201.4,341 202.9,343 204.4,344.8 205.9,346.4 207.4,348.1 208.9,349.7 210.4,351.4 211.8,352.9 213.3,354.2 214.8,355.5 216.3,356.8 217.8,358 219.3,359.3 220.7,360.4 222.2,361.4 223.7,362.3 225.2,363.1 226.7,364 228.2,364.9 229.7,365.8 231.2,366.7 232.7,367.6 234.2,368.6 235.7,369.8 237.2,370.8 238.7,372 240.2,373 241.7,374.1 243.2,375.2 244.7,376.3 246.2,377.4 247.7,378.4 249.2,379.6 250.7,380.6 252.2,381.6 253.7,382.5 255.2,383.4 256.7,384.3 258.2,385.1 259.7,386.1 261.2,387 262.7,387.9 264.2,388.7 265.7,389.6 267.2,390.5 268.7,391.5 270.2,392.5 271.7,393.5 273.2,394.4 274.7,395.4 276.2,396.4 277.7,397.4 279.2,398.4 280.7,399.4 282.2,400.4 283.7,401.4 285.2,402.4 286.7,403.3 288.1,404.1 289.6,404.8 291.1,405.6 292.6,406.2 294.1,406.9 295.6,407.6 297.1,408.3 298.6,408.9 300.1,409.6 301.6,410.3 303.2,411.1 304.8,412.1 306.3,413.5 307.9,415 309.4,416.4 310.9,417.9 312.4,419.4 313.9,420.8 315.4,422.2 316.8,423.4 318.2,424.4 319.7,425.2 321.2,426.1 322.7,426.9 324.2,427.7 325.6,428.5 327,429 328.4,429.3 329.8,429.5 331.3,429.6 332.8,429.8 334.3,429.9 335.8,430.1 337.4,430.3 339,430.6 340.8,431.4 342.4,432.8 343.9,434.3 345.4,435.8 346.9,437.3 348.4,438.8 349.9,440.1 351.4,441.5 352.9,442.9 354.4,444.2 355.9,445.5 357.4,446.9 358.9,448.2 360.4,449.6 361.9,450.9 363.3,452.1 364.5,452.7 365.8,452.8 367.2,452.8 368.7,452.8 370.2,452.8 371.7,452.8 373.2,452.8 374.7,452.8 376.2,452.7 378,452.9 379.7,453.5 381.4,454.7 382.9,456 384.5,457.2 386,458.5 387.5,459.9 389.1,461.5 390.6,463.4 392.1,465.3 393.6,467.2 395.1,469.1 396.6,470.9 398.1,472.7 399.5,474.3 400.9,475.4 402.3,476.3 403.8,477 405.2,477.8 406.4,478.3 407.5,478.2 408.8,477.8 410.3,477.3 411.8,476.8 413.3,476.2 414.8,475.7 416.4,475.1 418.3,474.8 420.3,475.4 422,476.8 423.5,478.1 425,479.4 426.6,480.7 428.1,482.2 429.7,483.8 431.2,485.6 432.7,487.5 434.2,489.3 435.7,491.1 437.2,492.9 438.7,494.8 440.2,496.7 441.7,498.5 443.2,500.3 444.7,502 445.8,503.1 446.7,503.2 447.8,502.9 449.2,502.4 450.7,501.7 452.2,501 453.7,500.5 455.2,499.9 456.7,499.3 458.2,498.7 459.7,498.1 461.5,497.5 463.8,497.8 465.8,499.5 467.4,501.9 468.9,504.1 470.4,506.4 471.9,508.6 473.4,510.9 474.9,513.2 476.4,515.4 477.9,517.7 479.4,520 480.9,522.2 482.4,524.5 483.9,526.8 485.3,528.8 486.5,530 487.5,530.4 488.6,530.3 489.9,530.2 491,529.8 492.4,528.9 493.8,527.8 495.3,526.7 496.8,525.6 498.3,524.5 499.9,523.4 501.6,522.4 503.6,521.9 505.5,522.2 507.2,522.6 509.1,523.5 510.9,525.3 512.5,527.9 514,530.6 515.5,533.3 517,536 518.5,538.8 520,541.4 521.6,544.1 523.1,546.9 524.6,549.6 526,552.2 527.3,553.8 528.2,554.3 529.2,554.3 530.3,554.2 531.5,553.8 532.8,553 534.3,551.9 535.8,550.9 537.3,549.9 538.8,548.9 540.3,547.8 541.9,546.8 543.7,545.9 545.7,545.6 547.6,545.8 549.3,546.4 551.3,547.5 553.1,549.8 554.7,552.7 556.2,555.8 557.7,558.9 559.2,561.9 560.7,565 562.2,568.1 563.7,571.2 565.2,574.3 566.6,577.2 567.9,579.2 568.8,579.8 569.8,579.8 570.8,579.8 571.9,579.4 573.2,578.5 574.6,577.3 576.1,576 577.6,574.6 579.1,573.5 580.6,572.3 582.1,570.9 583.8,569.6 585.7,568.7 587.8,568.4 589.6,568.8 591.5,569.3 593.5,570.8 595.2,573.2 596.8,576.2 598.3,579.2 599.8,582.2 601.3,585.3 602.8,588.4 604.3,591.4 605.8,594.5 607.3,597.5 608.8,600.6 610.2,603.2 611.2,604.4 611.9,604.5 612.9,604.4 613.9,604.2 615.1,603.3 616.5,602.2 618,600.8 619.4,599.4 620.9,597.9 622.4,596.5 623.9,595 625.5,593.5 627.3,592 629.4,591.3 631.5,591.3 633.4,591.8 635.4,592.8 637.2,595 638.9,597.9 640.4,601.1 641.9,604.4 643.4,607.6 644.9,610.8 646.4,614 647.9,617.2 649.4,620.5 650.9,623.6 652.3,626.5 653.5,628 654.1,628.3 655,628.2 656,628 657.1,627.3 658.4,626.2 659.9,624.8 661.4,623.3 662.9,621.9 664.4,620.6 665.9,619.2 667.4,617.7 669.2,616.3 671.2,615.4 673.4,615.3 675.3,615.7 677.3,616.6 679.2,618.5 680.9,621.5 682.4,624.9 683.9,628.4 685.4,631.9 686.9,635.3 688.4,638.8 689.9,642.2 691.4,645.6 692.9,648.9 694.3,651.5 695.2,652.4 695.8,652.5 696.8,652.3 697.8,652 699,651.2 700.4,649.8 701.8,648.3 703.4,646.8 704.8,645.3 706.3,643.7 707.8,642.1 709.4,640.5 711.2,639 713.5,638.1 715.7,638.4 717.5,639.1 719.5,640.3 721.3,642.6 722.9,645.8 724.4,649.2 725.9,652.5 727.4,655.8 728.9,659 730.4,662.2 731.9,665.5 733.4,668.8 734.9,672.2 736.3,675.1 737.4,676.5 738.1,676.7 739.1,676.7 740,676.6 741.1,675.9 742.4,674.8 743.8,673.3 745.3,671.7 746.8,670.1 748.3,668.5 749.8,667 751.4,665.4 753.1,663.8 755.2,662.7 757.4,662.6 759.3,663 761.3,663.9 763.2,665.8 764.9,668.8 766.4,671.9 767.9,675.2 769.4,678.3 770.9,681.5 772.4,684.8 773.9,688 775.4,691.2 776.9,694.4 778.4,697.4 779.7,699.6 780.4,700.1 781.2,700 782.2,700 783.1,699.5 784.4,698.3 785.9,696.9 787.4,695.3 788.9,694 790.3,692.4 791.8,690.8 793.4,689.3 795,687.7 796.9,686.4 799.2,685.8 801.1,686.2 802.9,686.6 805.1,688 806.9,690.7 808.4,694.1 809.9,697.5 811.4,700.8 812.9,704.3 814.4,707.7 815.9,711.1 817.4,714.6 818.9,718 820.4,721 821.5,722.7 822.2,722.9 823.1,723 824,722.8 825,722.1 826.4,720.9 827.9,719.4 829.4,717.9 830.8,716.5 832.3,714.9 833.9,713.4 835.4,711.9 837.1,710.3 839.2,709.3 841.4,709.1 843.3,709.6 845.4,710.6 847.3,712.9 849,716.3 850.5,720.3 852,724.3 853.5,728.4 855,732.4 856.5,736.5 858,740.5 859.4,744.1 860.5,745.8 861.2,746.1 862.1,746.1 863.1,746 864.2,745.5 865.6,744.5 867.1,743.4 868.6,742.3 870.1,741.1 871.6,740.1 873.1,739 874.6,737.9 876.1,736.8 877.6,735.7 879.1,734.7 880.6,733.6 882,732.5 883.5,731.3 L886,734.4 884.4,735.6 882.9,736.7 881.4,737.9 879.8,738.9 878.4,739.9 876.9,741.1 875.4,742.2 873.8,743.3 872.4,744.3 870.9,745.4 869.4,746.5 867.9,747.6 866.2,748.8 864.3,749.7 862.3,750 860.1,749.9 857.8,748.6 855.9,745.9 854.3,741.9 852.8,737.8 851.3,733.8 849.8,729.7 848.3,725.6 846.8,721.7 845.4,717.9 844,714.9 842.9,713.6 842,713.3 841,713 840.2,713 839.4,713.5 838.1,714.7 836.6,716.2 835.1,717.6 833.6,719.2 832.1,720.7 830.6,722.2 829.1,723.7 827.4,725.2 825.5,726.4 823.3,726.8 821.2,726.7 818.8,725.5 817,722.9 815.4,719.6 813.9,716.2 812.4,712.6 810.9,709.2 809.4,705.9 807.9,702.4 806.4,699.1 804.9,695.7 803.4,692.5 802.2,690.7 801.4,690.2 800.3,690 799.2,689.7 798.6,689.9 797.5,690.7 796.1,692.1 794.6,693.5 793.2,695.1 791.6,696.7 790.1,698.1 788.6,699.6 787.1,701.2 785.3,702.7 783.3,703.7 781.2,703.9 779,703.7 776.7,702.1 774.9,699.2 773.4,696.1 771.9,692.8 770.4,689.7 768.9,686.4 767.4,683.2 765.9,680 764.4,676.8 762.9,673.6 761.4,670.5 760.1,668.1 759.1,667.1 758.1,666.7 757,666.5 756.3,666.5 755.4,667 754.1,668.2 752.6,669.7 751.1,671.2 749.7,672.8 748.2,674.4 746.6,676 745.1,677.6 743.4,679 741.4,680.3 739.3,680.6 737.3,680.5 734.9,679.5 733,677.1 731.4,673.8 729.9,670.4 728.4,667.1 726.9,663.9 725.4,660.6 723.9,657.4 722.4,654.1 720.9,650.8 719.4,647.5 718,644.6 716.8,643.1 715.9,642.6 714.7,642.2 713.9,642 713.3,642.3 712.1,643.4 710.6,644.8 709.2,646.3 707.7,648 706.1,649.6 704.6,651 703.1,652.6 701.5,654.2 699.6,655.5 697.6,656.1 695.6,656.4 693.2,655.7 691.1,653.8 689.4,650.6 687.9,647.2 686.4,643.8 684.9,640.3 683.4,636.9 681.9,633.5 680.4,629.9 678.9,626.5 677.4,623.2 676.1,620.8 675,619.8 674.1,619.4 673,619.1 672.2,619.1 671.3,619.6 670,620.6 668.6,622 667.1,623.4 665.5,624.9 664.1,626.1 662.6,627.5 661.1,629.1 659.4,630.5 657.5,631.6 655.4,632.1 653.3,632.1 650.9,630.9 649,628.5 647.4,625.3 645.9,622.1 644.4,618.8 642.9,615.6 641.4,612.4 639.9,609.2 638.4,606 636.9,602.8 635.5,599.6 634.1,597.1 633,595.8 632,595.4 630.9,595.1 630,595 629.2,595.3 628,596.3 626.6,597.7 625,599.2 623.5,600.6 622,602.1 620.5,603.5 619,604.9 617.3,606.3 615.5,607.5 613.5,608.1 611.5,608.2 609.1,607.4 607.1,605.2 605.5,602.2 604,599.1 602.5,596.2 601,593 599.5,589.9 598,586.9 596.5,583.8 595,580.8 593.6,577.8 592.1,575.1 590.8,573.2 589.9,572.5 588.8,572.3 587.6,572 586.7,572 585.7,572.6 584.4,573.6 582.9,574.9 581.3,576.2 579.8,577.4 578.4,578.6 576.9,579.9 575.3,581.2 573.5,582.4 571.6,583.2 569.6,583.3 567.5,583 565.4,581.5 563.7,578.9 562.1,575.8 560.6,572.7 559.1,569.6 557.6,566.5 556.1,563.4 554.6,560.4 553.2,557.3 551.7,554.2 550.3,551.5 549.1,550 548,549.5 546.8,549.1 545.7,548.9 544.7,549 543.5,549.6 542.1,550.5 540.7,551.6 539.1,552.6 537.6,553.7 536.1,554.6 534.6,555.7 532.9,556.7 531.1,557.3 529.2,557.6 527.2,557.4 525.1,556.2 523.3,553.9 521.8,551.2 520.3,548.4 518.8,545.7 517.3,543 515.8,540.3 514.3,537.5 512.8,534.8 511.3,532.1 509.8,529.5 508.4,527.2 507.3,526 506.2,525.6 504.9,525.2 503.8,525 502.8,525.2 501.5,525.9 500.1,527 498.6,528 497.1,529.1 495.6,530.2 494.1,531.4 492.4,532.4 490.6,533.1 488.8,533.3 486.9,533.3 484.8,532.5 483,530.7 481.5,528.4 479.9,526.2 478.4,523.8 477,521.6 475.5,519.3 474,517 472.5,514.8 471,512.5 469.5,510.2 468,508 466.5,505.7 465,503.5 463.6,501.4 462.5,500.3 461.9,500.4 460.7,500.8 459.2,501.4 457.7,502 456.2,502.5 454.7,503.1 453.2,503.6 451.8,504.2 450.2,504.9 448.6,505.5 446.7,506 444.5,505.5 442.7,503.9 441.1,502.1 439.6,500.2 438.1,498.4 436.6,496.5 435.1,494.6 433.6,492.8 432.1,491 430.6,489.1 429.2,487.3 427.7,485.6 426.2,484 424.8,482.6 423.3,481.4 421.8,480 420.3,478.8 419,477.7 418.1,477.4 417.1,477.6 415.6,478.1 414.2,478.6 412.6,479.2 411.1,479.7 409.6,480.3 407.9,480.7 406,480.7 404.2,480.1 402.6,479.3 401.1,478.4 399.5,477.5 397.8,476.1 396.2,474.3 394.7,472.5 393.2,470.6 391.7,468.7 390.2,466.8 388.7,464.9 387.3,463.1 385.8,461.6 384.4,460.3 382.9,459 381.4,457.8 380,456.6 378.6,455.6 377.4,455.2 376.2,455.1 374.7,455.1 373.2,455.1 371.7,455.1 370.2,455.1 368.7,455.1 367.2,455.1 365.6,455.1 363.8,454.8 362.1,453.9 360.4,452.6 358.9,451.3 357.4,449.9 355.9,448.5 354.4,447.2 352.9,445.9 351.4,444.5 349.9,443.1 348.4,441.7 346.9,440.3 345.4,438.8 343.9,437.4 342.4,435.9 341,434.4 339.6,433.2 338.4,432.7 337,432.4 335.6,432.3 334.1,432 332.6,431.9 331.1,431.7 329.6,431.6 328,431.3 326.4,431 324.7,430.3 323.2,429.5 321.7,428.7 320.2,427.8 318.7,427 317.2,426.1 315.6,425 314,423.7 312.5,422.3 311,420.8 309.5,419.3 308,417.8 306.5,416.4 305,415 303.6,413.7 302.2,412.8 300.8,412.1 299.3,411.4 297.8,410.7 296.3,410 294.8,409.3 293.3,408.6 291.8,407.9 290.3,407.3 288.8,406.5 287.3,405.8 285.7,405 284.2,404 282.7,403 281.2,401.9 279.7,401 278.2,400 276.7,398.9 275.2,397.9 273.7,397 272.2,396 270.7,395 269.2,394 267.7,393.1 266.2,392.1 264.7,391.2 263.2,390.3 261.7,389.5 260.2,388.6 258.7,387.7 257.2,386.8 255.7,385.9 254.2,385 252.7,384.1 251.2,383.1 249.7,382.1 248.1,381.1 246.6,379.9 245.1,378.9 243.6,377.8 242.1,376.7 240.6,375.6 239.1,374.5 237.6,373.5 236.1,372.3 234.6,371.3 233.2,370.2 231.7,369.2 230.2,368.3 228.7,367.4 227.2,366.5 225.7,365.6 224.2,364.8 222.7,363.9 221.2,363 219.6,362 218.1,360.7 216.6,359.5 215.1,358.2 213.6,356.9 212.1,355.6 210.5,354.2 209,352.6 207.5,351 206,349.3 204.5,347.7 203,346 201.5,344.1 199.9,342.1 198.4,340.1 196.9,338.1 195.4,336 193.9,333.9Z" fill="#1fc84c"/>
<path d="M195.2,333.4 196.7,335.4 198.2,337.5 199.7,339.5 201.2,341.6 202.7,343.6 204.2,345.3 205.7,347 207.2,348.6 208.7,350.2 210.2,351.8 211.7,353.4 213.2,354.8 214.7,356.1 216.2,357.4 217.7,358.6 219.1,359.8 220.6,361 222.1,362 223.6,362.9 225.1,363.8 226.6,364.7 228.1,365.5 229.6,366.3 231.1,367.2 232.6,368.2 234.1,369.2 235.6,370.3 237.1,371.4 238.6,372.5 240.1,373.6 241.6,374.7 243.1,375.8 244.6,376.9 246.1,378 247.6,379.1 249.1,380.2 250.6,381.3 252.1,382.2 253.6,383.1 255.1,383.9 256.6,384.9 258.1,385.8 259.6,386.6 261.1,387.5 262.6,388.4 264.1,389.3 265.6,390.3 267.1,391.2 268.6,392.1 270.1,393 271.6,394 273.1,395 274.6,396.1 276.1,397.1 277.6,398.1 279.1,399 280.6,400.1 282.1,401.1 283.6,402 285.1,403 286.6,403.9 288.1,404.7 289.6,405.4 291.1,406.1 292.6,406.8 294.1,407.5 295.6,408.2 297.1,408.9 298.6,409.6 300.1,410.3 301.6,411.1 303.1,411.9 304.7,412.8 306.2,414.1 307.7,415.6 309.2,417.1 310.7,418.6 312.2,420 313.7,421.4 315.2,422.8 316.7,424.1 318.1,425 319.6,425.9 321.1,426.7 322.6,427.6 324.1,428.4 325.6,429.2 327,429.8 328.5,430.1 329.9,430.3 331.4,430.4 333,430.6 334.5,430.8 336,431 337.5,431.2 339,431.5 340.6,432.2 342.2,433.5 343.7,434.9 345.2,436.4 346.7,437.9 348.2,439.4 349.7,440.8 351.2,442.2 352.7,443.5 354.2,444.8 355.7,446.1 357.2,447.5 358.7,448.8 360.2,450.1 361.7,451.5 363.2,452.6 364.6,453.3 365.9,453.5 367.4,453.6 368.9,453.7 370.4,453.7 371.9,453.7 373.4,453.7 374.9,453.7 376.4,453.7 378,453.8 379.6,454.5 381.2,455.6 382.7,456.8 384.2,458.1 385.7,459.4 387.3,460.8 388.8,462.4 390.3,464.2 391.8,466.1 393.3,467.9 394.8,469.8 396.3,471.7 397.8,473.5 399.3,475.2 400.7,476.4 402.2,477.2 403.6,478 405.1,478.7 406.5,479.2 407.8,479.1 409.2,478.7 410.7,478.1 412.2,477.6 413.7,477 415.2,476.4 416.8,475.8 418.5,475.5 420.2,476.2 421.8,477.4 423.3,478.7 424.8,480.1 426.3,481.4 427.8,482.8 429.3,484.6 430.8,486.4 432.3,488.2 433.8,490.1 435.4,491.9 436.9,493.8 438.4,495.6 439.9,497.5 441.3,499.2 442.8,501 444.3,502.7 445.7,503.9 446.9,504.1 448.2,503.7 449.7,503.1 451.2,502.6 452.7,501.9 454.2,501.4 455.7,500.8 457.2,500.2 458.7,499.5 460.2,498.9 461.8,498.4 463.7,498.7 465.4,500.1 466.9,502.3 468.4,504.6 469.9,506.9 471.4,509.2 472.9,511.5 474.4,513.7 475.9,516 477.4,518.3 478.9,520.6 480.4,522.8 481.9,525.1 483.4,527.4 484.9,529.5 486.3,530.9 487.5,531.3 488.9,531.3 490.2,531.2 491.6,530.6 493,529.7 494.5,528.6 496,527.5 497.5,526.4 499,525.3 500.5,524.2 502.1,523.3 503.9,522.8 505.5,523.1 507.1,523.5 508.8,524.3 510.4,526 512,528.5 513.5,531.3 515,534 516.5,536.8 518,539.4 519.5,542.1 521,544.9 522.5,547.7 524,550.4 525.5,553 526.9,554.7 528.1,555.3 529.4,555.3 530.8,555.3 532.1,554.8 533.5,553.9 535,552.7 536.5,551.7 538,550.7 539.5,549.6 541,548.6 542.5,547.7 544.2,546.8 545.9,546.6 547.6,546.8 549.2,547.3 550.9,548.3 552.5,550.3 554.1,553.3 555.6,556.4 557.1,559.4 558.6,562.4 560.1,565.6 561.6,568.7 563.1,571.8 564.6,574.8 566,577.8 567.4,579.9 568.7,580.6 569.9,580.8 571.3,580.7 572.5,580.3 573.9,579.2 575.4,577.9 576.9,576.8 578.4,575.6 579.9,574.3 581.4,573.1 582.9,571.8 584.5,570.6 586.1,569.6 588,569.5 589.6,569.8 591.3,570.4 593,571.6 594.6,574 596.1,577 597.6,580.1 599.1,583.1 600.6,586.2 602.1,589.3 603.6,592.4 605.1,595.4 606.6,598.4 608.1,601.4 609.6,604 610.8,605.3 612,605.7 613.3,605.5 614.5,605.2 615.9,604.2 617.4,602.9 618.8,601.5 620.3,600.1 621.8,598.7 623.3,597.2 624.8,595.8 626.4,594.4 628,593 629.8,592.3 631.5,592.4 633.2,592.8 634.9,593.7 636.6,595.6 638.1,598.6 639.7,601.8 641.2,605 642.7,608.2 644.2,611.5 645.7,614.7 647.2,618 648.7,621.2 650.2,624.4 651.6,627.3 652.9,629 654.1,629.4 655.3,629.3 656.6,629.1 657.9,628.4 659.3,627.1 660.8,625.7 662.3,624.3 663.8,622.9 665.3,621.5 666.8,620.1 668.3,618.7 669.9,617.4 671.7,616.5 673.5,616.5 675.2,616.9 676.9,617.7 678.6,619.5 680.2,622.4 681.7,625.8 683.2,629.3 684.7,632.7 686.2,636.1 687.7,639.5 689.2,643 690.7,646.3 692.2,649.7 693.6,652.3 694.8,653.4 695.9,653.5 697.2,653.4 698.5,652.9 699.8,651.9 701.3,650.5 702.8,648.9 704.3,647.4 705.8,645.9 707.3,644.4 708.8,642.9 710.3,641.5 712,640.2 713.8,639.6 715.6,639.9 717.2,640.4 719,641.4 720.6,643.6 722.2,646.8 723.7,650 725.2,653.2 726.7,656.6 728.2,659.9 729.7,663.2 731.2,666.6 732.7,669.9 734.2,673.1 735.6,675.9 737,677.7 738.1,678.2 739.3,678.1 740.6,677.9 741.9,677.1 743.3,675.7 744.8,674.2 746.3,672.7 747.8,671.2 749.3,669.8 750.8,668.2 752.3,666.7 753.9,665.1 755.6,664 757.5,664 759.1,664.3 760.9,665 762.6,666.6 764.2,669.2 765.7,672.4 767.2,675.6 768.7,678.9 770.2,682.1 771.7,685.3 773.2,688.5 774.7,691.7 776.2,694.9 777.6,698 779.1,700.4 780.2,701.3 781.4,701.3 782.6,701.2 783.9,700.5 785.3,699.4 786.8,697.8 788.3,696.3 789.8,694.7 791.3,693.2 792.8,691.6 794.3,690.1 795.9,688.6 797.5,687.5 799.4,687 801.1,687.4 802.8,688 804.5,689.2 806.1,691.6 807.7,694.9 809.2,698.4 810.7,701.8 812.2,705.3 813.7,708.7 815.2,712 816.7,715.5 818.2,718.9 819.6,722.1 821,724 822.1,724.4 823.3,724.4 824.6,724.1 825.9,723.2 827.3,721.9 828.8,720.4 830.3,718.8 831.8,717.3 833.3,715.8 834.8,714.3 836.3,712.8 837.9,711.3 839.7,710.4 841.5,710.3 843.2,710.7 844.9,711.6 846.6,713.5 848.2,716.9 849.7,720.8 851.2,724.9 852.7,729 854.2,733.2 855.7,737.3 857.2,741.3 858.7,744.9 860,747 861.1,747.5 862.4,747.5 863.7,747.4 865,746.8 866.4,745.8 867.9,744.7 869.4,743.6 870.9,742.6 872.4,741.5 873.9,740.4 875.4,739.2 876.9,738.1 878.4,737 879.9,735.8 881.4,734.7 882.9,733.5 884.4,732.4 L885.5,733.8 884,735 882.5,736.1 881,737.2 879.5,738.4 878,739.6 876.5,740.7 875,741.8 873.5,743 872,744.1 870.5,745.2 869,746.2 867.5,747.3 865.9,748.4 864.2,749.1 862.4,749.4 860.7,749.3 858.7,748.3 857,745.8 855.5,742 854,738 852.5,733.8 851,729.6 849.5,725.5 848,721.5 846.5,717.6 845,714.5 843.8,713 842.6,712.5 841.3,712.2 840.2,712.2 839,712.8 837.6,714.2 836.1,715.7 834.6,717.2 833.1,718.6 831.6,720.1 830.1,721.7 828.6,723.2 827,724.7 825.3,725.8 823.5,726.2 821.7,726.2 819.7,725.3 818,723 816.5,719.7 815,716.2 813.5,712.7 812,709.5 810.5,706 809,702.5 807.5,699.1 806,695.7 804.5,692.5 803.2,690.5 801.9,689.6 800.6,689.2 799.4,688.8 798.3,689.1 797,690.1 795.6,691.4 794.1,692.9 792.6,694.5 791.1,696 789.6,697.5 788.1,699.1 786.6,700.7 784.9,702.1 783.2,702.9 781.4,703.2 779.5,703 777.6,701.6 776,698.9 774.5,695.7 773,692.5 771.5,689.2 770,686.1 768.5,682.9 767,679.7 765.5,676.4 764,673.2 762.5,670.1 761.1,667.7 759.9,666.5 758.6,666.1 757.3,665.8 756.2,665.8 755,666.5 753.6,668 752.1,669.5 750.6,671.1 749.1,672.5 747.6,674 746.1,675.5 744.6,677 743,678.6 741.3,679.6 739.5,679.9 737.7,680 735.7,679.1 734,676.9 732.5,673.9 731,670.6 729.5,667.3 728,663.9 726.5,660.7 725,657.4 723.5,654 722,650.8 720.5,647.6 719,644.5 717.7,642.7 716.5,642.1 715.2,641.7 714,641.5 712.9,641.8 711.6,642.9 710.1,644.3 708.6,645.7 707.1,647.2 705.6,648.7 704.1,650.2 702.6,651.8 701.1,653.3 699.4,654.5 697.6,655.2 695.9,655.4 693.9,655 692.1,653.4 690.5,650.5 689,647.1 687.5,643.7 686,640.2 684.5,636.9 683,633.4 681.5,630 680,626.6 678.5,623.2 677.1,620.5 675.8,619.2 674.6,618.7 673.3,618.4 672.1,618.3 671,618.9 669.6,620.1 668.1,621.5 666.6,622.8 665.1,624.2 663.6,625.6 662.1,627.1 660.6,628.5 659,629.9 657.2,630.9 655.5,631.2 653.7,631.2 651.8,630.4 650,628.2 648.5,625.2 647,622 645.5,618.7 644,615.5 642.5,612.3 641,609 639.5,605.8 638,602.5 636.5,599.4 635.1,596.6 633.8,595 632.6,594.5 631.2,594.2 630.1,594.1 628.9,594.6 627.5,595.7 626.1,597.1 624.6,598.5 623.1,600 621.6,601.4 620.1,602.8 618.5,604.2 617,605.6 615.3,606.7 613.6,607.3 611.8,607.4 609.9,606.8 608.1,605 606.6,602.2 605.1,599.2 603.6,596.1 602.1,593.2 600.6,590.1 599.1,586.9 597.6,583.8 596.1,580.9 594.6,577.8 593.1,574.8 591.7,572.7 590.5,571.9 589.2,571.5 587.8,571.1 586.7,571.2 585.4,572 584,573.1 582.5,574.4 581,575.6 579.5,576.8 578,578.1 576.5,579.2 575,580.5 573.3,581.7 571.6,582.3 569.9,582.4 568.1,582.2 566.3,581 564.6,578.6 563.1,575.5 561.6,572.6 560.1,569.4 558.6,566.3 557.1,563.1 555.6,560.1 554.1,557.1 552.6,554 551.2,551.2 549.8,549.5 548.6,548.8 547.2,548.4 545.9,548.1 544.7,548.3 543.3,549 541.9,549.9 540.4,550.9 538.9,552 537.4,553 535.9,554 534.4,555.1 532.8,556.2 531.1,556.8 529.4,556.9 527.7,556.8 525.9,555.9 524.2,553.8 522.7,551.1 521.2,548.4 519.7,545.6 518.2,542.8 516.7,540.2 515.2,537.5 513.7,534.7 512.2,532 510.7,529.3 509.3,526.9 507.9,525.5 506.6,524.9 505.2,524.6 503.9,524.3 502.7,524.6 501.3,525.4 499.9,526.5 498.4,527.5 496.9,528.7 495.4,529.8 493.8,530.9 492.3,531.9 490.6,532.5 488.9,532.7 487.3,532.7 485.5,532 483.8,530.4 482.3,528.2 480.8,525.9 479.3,523.6 477.8,521.4 476.3,519.1 474.8,516.8 473.3,514.5 471.8,512.2 470.3,510 468.8,507.7 467.3,505.3 465.8,503.1 464.3,501 463.1,499.9 462,499.8 460.6,500.2 459.2,500.8 457.7,501.4 456.2,502 454.7,502.6 453.2,503.1 451.7,503.8 450.2,504.3 448.6,505 446.9,505.4 445.1,505.1 443.4,503.6 441.9,501.8 440.4,500.1 438.9,498.3 437.4,496.4 435.9,494.6 434.4,492.7 432.9,490.9 431.4,489 429.9,487.2 428.4,485.4 426.9,483.7 425.4,482.3 423.9,481 422.5,479.7 421,478.4 419.6,477.2 418.3,476.8 417.1,477 415.6,477.5 414.1,478.1 412.6,478.7 411.1,479.3 409.6,479.8 408,480.3 406.3,480.3 404.7,479.8 403.1,479.1 401.6,478.3 400,477.4 398.4,476 396.9,474.3 395.4,472.4 393.9,470.5 392.4,468.7 390.9,466.8 389.4,464.9 387.9,463.1 386.5,461.6 385,460.3 383.5,459 382,457.7 380.5,456.5 379.1,455.5 377.8,454.9 376.4,454.8 374.9,454.8 373.4,454.8 371.9,454.8 370.4,454.8 368.9,454.8 367.4,454.7 365.8,454.6 364.2,454.4 362.6,453.6 361,452.3 359.5,451 358,449.6 356.5,448.3 355,446.9 353.5,445.6 352,444.3 350.5,443 349,441.6 347.5,440.1 346,438.7 344.5,437.2 343,435.7 341.5,434.3 340.1,433.1 338.7,432.5 337.3,432.2 335.8,432 334.3,431.8 332.8,431.6 331.3,431.4 329.8,431.3 328.3,431.1 326.7,430.7 325.2,430.1 323.6,429.3 322.1,428.4 320.6,427.6 319.1,426.7 317.6,425.9 316.1,424.8 314.6,423.5 313,422.1 311.5,420.7 310,419.2 308.5,417.7 307,416.3 305.6,414.8 304.1,413.6 302.6,412.7 301.2,411.9 299.7,411.1 298.2,410.4 296.7,409.7 295.2,409 293.7,408.3 292.2,407.6 290.7,406.9 289.2,406.2 287.7,405.5 286.2,404.7 284.6,403.8 283.1,402.8 281.6,401.8 280.1,400.8 278.6,399.8 277.1,398.8 275.6,397.8 274.1,396.8 272.6,395.8 271.1,394.8 269.6,393.8 268.1,392.8 266.6,391.9 265.1,391 263.6,390.1 262.1,389.2 260.7,388.3 259.2,387.4 257.7,386.5 256.1,385.6 254.6,384.7 253.2,383.8 251.6,382.9 250.1,382 248.6,380.9 247.1,379.8 245.6,378.8 244.1,377.6 242.6,376.6 241.1,375.4 239.6,374.3 238.1,373.2 236.6,372.1 235.1,371 233.6,369.9 232.1,368.9 230.6,368 229.2,367.1 227.7,366.3 226.2,365.4 224.7,364.6 223.1,363.7 221.6,362.8 220.1,361.7 218.6,360.5 217.1,359.3 215.6,358 214.1,356.8 212.6,355.5 211.1,354 209.5,352.4 208,350.8 206.5,349.2 205,347.6 203.5,345.9 202,344.1 200.5,342.1 199,340 197.5,338 196,336 194.5,333.9Z" fill="#52ea92"/>
<path d="M196.5,332.6 198,334.6 199.5,336.7 201,338.7 202.5,340.8 204,342.7 205.5,344.5 207,346.2 208.5,347.8 210,349.4 211.5,351 212.9,352.5 214.4,353.9 215.9,355.2 217.4,356.5 218.9,357.7 220.4,359 221.8,360.2 223.3,361.1 224.7,362 226.2,362.8 227.7,363.7 229.2,364.5 230.7,365.4 232.2,366.2 233.8,367.1 235.3,368.1 236.8,369.2 238.3,370.2 239.8,371.3 241.3,372.3 242.8,373.4 244.3,374.5 245.8,375.5 247.3,376.6 248.8,377.6 250.3,378.7 251.8,379.6 253.2,380.5 254.7,381.2 256.2,382 257.7,382.7 259.2,383.5 260.7,384.2 262.2,385 263.7,385.7 265.2,386.5 266.7,387.2 268.2,388 269.7,388.8 271.2,389.6 272.7,390.5 274.2,391.4 275.7,392.3 277.2,393.1 278.7,394 280.2,394.9 281.7,395.8 283.2,396.7 284.7,397.5 286.2,398.4 287.7,399.2 289.2,399.9 290.6,400.6 292.1,401.3 293.6,402 295.1,402.6 296.6,403.3 298.2,404 299.7,404.7 301.2,405.3 302.7,406 304.2,406.7 305.8,407.5 307.3,408.4 308.8,409.4 310.3,410.4 311.8,411.4 313.3,412.3 314.8,413.3 316.4,414.3 317.9,415.2 319.3,416.2 320.8,417.1 322.3,418 323.8,418.8 325.3,419.7 326.8,420.5 328.3,421.3 329.7,422 331.1,422.4 332.5,422.8 334,423.1 335.5,423.5 337,423.9 338.5,424.2 340,424.6 341.6,425 343.2,425.5 344.9,426.3 346.6,427.6 348.1,428.9 349.6,430.1 351.1,431.4 352.6,432.7 354.1,433.9 355.6,435.1 357,436.1 358.5,437.2 360,438.2 361.5,439.3 363,440.3 364.5,441.4 366,442.4 367.5,443.4 368.9,444.3 370.1,444.8 371.4,445 372.9,445.2 374.4,445.3 375.9,445.4 377.4,445.6 378.9,445.7 380.4,445.9 381.9,446 383.7,446.3 385.4,447.1 387.1,448.1 388.6,449.2 390.1,450.2 391.6,451.3 393.2,452.4 394.7,453.5 396.2,454.6 397.7,455.8 399.2,457 400.8,458.2 402.3,459.4 403.8,460.6 405.3,461.8 406.8,463 408.2,464.1 409.6,465.1 410.9,465.7 412.2,466.1 413.7,466.5 415.2,466.9 416.6,467.3 418,467.5 419.4,467.7 420.9,467.8 422.4,467.9 423.9,468.1 425.6,468.3 427.5,468.9 429.2,470 430.8,471.2 432.4,472.3 433.9,473.5 435.4,474.7 436.9,475.8 438.4,477 439.9,478.2 441.3,479.3 442.8,480.3 444.3,481.4 445.8,482.4 447.3,483.4 448.8,484.5 450.3,485.5 451.8,486.5 453.3,487.6 454.8,488.6 456.1,489.4 457.2,489.8 458.2,489.9 459.6,489.8 461,489.7 462.5,489.5 464,489.4 465.6,489.3 467.3,489.2 469.2,489.5 471,490.1 472.6,490.9 474.2,491.6 475.8,492.5 477.5,493.6 479.2,495.1 480.8,496.8 482.3,498.4 483.8,500 485.3,501.6 486.8,503.3 488.3,504.9 489.8,506.5 491.3,508.1 492.8,509.7 494.3,511.3 495.7,512.7 496.7,513.4 497.5,513.6 498.7,513.6 500,513.6 501.3,513.4 502.6,513 504.1,512.6 505.6,512.2 507.1,511.8 508.6,511.4 510.3,511 512.3,510.8 514.2,511.1 515.9,511.5 517.7,512.1 519.7,513.3 521.5,515.1 523.1,517.1 524.6,519 526.1,520.9 527.6,522.8 529.1,524.7 530.6,526.5 532.1,528.4 533.6,530.3 535.1,532.2 536.6,534.1 537.9,535.5 538.7,536.1 539.4,536.2 540.6,536.2 541.8,536.1 543,535.7 544.3,535.2 545.8,534.7 547.3,534.1 548.8,533.5 550.3,532.9 551.8,532.4 553.6,531.8 555.6,531.4 557.6,531.6 559.4,532 561.3,532.6 563.4,533.9 565.2,535.9 566.8,538 568.3,540 569.8,542 571.4,544.1 572.9,546.1 574.4,548.2 575.9,550.2 577.4,552.3 578.9,554.3 580.4,556.3 581.7,557.9 582.5,558.6 583.1,558.7 584.1,558.7 585.1,558.6 586.2,558.2 587.5,557.6 588.9,556.8 590.4,556.1 591.9,555.3 593.4,554.5 594.9,553.7 596.6,552.8 598.8,552.2 601.1,552.2 602.9,552.6 604.9,553.2 607.1,554.5 609,556.6 610.6,558.8 612.1,561 613.6,563.2 615.1,565.4 616.6,567.6 618.1,569.8 619.6,572 621.1,574.2 622.7,576.4 624.1,578.6 625.5,580.4 626.3,581.2 626.7,581.3 627.6,581.3 628.5,581.2 629.5,580.8 630.7,580.1 632.1,579.2 633.6,578.3 635.1,577.4 636.6,576.5 638.2,575.6 639.9,574.7 642.1,573.8 644.5,573.7 646.5,574.1 648.4,574.7 650.7,576 652.7,578.1 654.3,580.5 655.8,582.8 657.3,585.1 658.8,587.3 660.3,589.6 661.8,591.9 663.3,594.1 664.8,596.4 666.3,598.7 667.8,600.9 669.2,602.9 670,603.9 670.4,603.9 671.1,603.9 672,603.9 672.8,603.5 674,602.8 675.5,601.9 676.9,600.9 678.4,599.9 679.9,598.9 681.5,597.8 683.1,596.8 685.3,595.8 687.8,595.5 689.9,595.8 691.9,596.4 694.1,597.6 696.1,599.6 697.8,601.9 699.3,604.1 700.8,606.4 702.3,608.6 703.8,610.9 705.3,613.1 706.8,615.3 708.3,617.6 709.8,619.8 711.3,621.9 712.5,623.7 713.2,624.3 713.6,624.3 714.5,624.3 715.3,624.2 716.2,623.8 717.5,623 719,622.1 720.5,621.1 722,620.1 723.5,619.1 725,618.1 726.8,617.1 729.2,616.2 731.6,616.3 733.6,616.7 735.6,617.4 737.9,619 739.8,621.3 741.4,623.7 742.9,626.1 744.4,628.5 745.9,630.9 747.4,633.3 748.9,635.7 750.4,638 751.9,640.4 753.4,642.8 754.7,644.9 755.7,646.1 756.1,646.2 756.7,646.2 757.6,646.2 758.4,645.9 759.5,645.2 760.9,644.3 762.4,643.3 763.9,642.2 765.4,641.2 766.9,640.2 768.5,639.2 770.2,638 772.4,637.1 774.9,636.9 777,637.3 779,638 781.4,639.5 783.3,641.9 784.9,644.6 786.4,647.3 787.9,649.9 789.4,652.6 790.9,655.2 792.4,657.9 793.9,660.5 795.4,663.2 796.9,665.7 798.1,667.6 798.7,668.2 799,668.1 799.8,668.1 800.5,668 801.5,667.4 802.8,666.4 804.3,665.3 805.8,664.1 807.3,663 808.8,661.8 810.3,660.7 811.9,659.5 813.9,658.2 816.5,657.6 818.8,657.8 820.8,658.3 823,659.4 825.2,661.5 826.9,664.1 828.4,666.7 829.9,669.3 831.4,671.8 832.9,674.4 834.4,677 835.9,679.6 837.4,682.2 838.9,684.7 840.4,687.2 841.7,689.3 842.4,690.1 842.7,690 843.5,690 844.3,689.9 845.2,689.5 846.4,688.6 847.9,687.6 849.4,686.6 850.9,685.5 852.4,684.5 853.9,683.4 855.4,682.3 857,681.2 859,680.1 861.5,679.5 863.8,679.7 865.8,680.2 868.1,681.4 870.3,683.7 872,686.8 873.5,689.9 875,693.1 876.5,696.2 878,699.3 879.5,702.5 881,705.6 882.5,708.7 884,711.8 885.5,715 887,718.1 888.5,721.2 L885.2,722.8 883.7,719.7 882.2,716.5 880.7,713.4 879.2,710.3 877.7,707.2 876.2,704 874.7,700.9 873.2,697.8 871.7,694.7 870.2,691.5 868.8,688.5 867.3,685.8 865.9,684.3 864.5,683.7 863.1,683.3 861.7,683.1 860.4,683.5 859,684.3 857.5,685.3 856,686.4 854.5,687.4 853,688.5 851.5,689.5 850,690.6 848.5,691.6 846.9,692.7 845.3,693.4 843.7,693.7 842.1,693.6 840.4,693.1 838.8,691.5 837.3,689.1 835.8,686.6 834.3,684 832.8,681.4 831.3,678.8 829.8,676.3 828.3,673.7 826.8,671.1 825.3,668.5 823.8,666 822.3,663.7 820.9,662.4 819.5,661.8 818.1,661.4 816.7,661.2 815.4,661.6 814,662.5 812.5,663.6 811,664.7 809.5,665.9 808,667 806.5,668.2 805,669.3 803.5,670.5 801.9,671.3 800.3,671.7 798.7,671.8 797,671.4 795.3,670 793.8,667.6 792.3,665 790.8,662.3 789.3,659.7 787.8,657 786.3,654.4 784.8,651.7 783.3,649.1 781.8,646.4 780.3,643.9 778.9,642.1 777.5,641.3 776.1,640.8 774.7,640.5 773.3,640.6 771.9,641.2 770.5,642.2 769,643.2 767.5,644.2 766,645.3 764.5,646.3 763,647.3 761.5,648.3 759.9,649.2 758.3,649.8 756.7,649.9 755.1,649.7 753.4,648.9 751.8,647.1 750.3,644.7 748.8,642.4 747.3,640 745.8,637.6 744.3,635.2 742.8,632.8 741.3,630.5 739.8,628.1 738.3,625.7 736.8,623.4 735.4,621.6 734,620.7 732.6,620.2 731.1,619.9 729.8,619.8 728.4,620.3 727,621.2 725.5,622.2 724,623.2 722.5,624.1 721,625.1 719.5,626.1 717.9,627 716.3,627.7 714.7,628 713.1,628 711.5,627.5 709.8,626.1 708.3,624.1 706.8,621.8 705.3,619.6 703.8,617.4 702.3,615.1 700.8,612.9 699.3,610.7 697.8,608.4 696.3,606.2 694.8,604 693.3,601.9 691.9,600.5 690.5,599.8 689.1,599.4 687.7,599.1 686.3,599.3 684.9,599.9 683.5,600.9 682,601.9 680.5,602.9 679,603.9 677.5,604.9 676,605.9 674.4,606.8 672.8,607.4 671.2,607.6 669.6,607.5 667.9,606.8 666.3,605.2 664.8,603 663.3,600.7 661.8,598.4 660.3,596.2 658.8,593.9 657.3,591.6 655.8,589.3 654.3,587.1 652.8,584.8 651.3,582.5 649.8,580.4 648.4,578.8 647,578.1 645.6,577.6 644.2,577.3 642.8,577.4 641.4,577.9 639.9,578.7 638.4,579.6 636.9,580.5 635.4,581.4 633.9,582.3 632.4,583.2 630.9,584 629.3,584.6 627.7,584.8 626.1,584.7 624.4,584.2 622.8,582.7 621.3,580.6 619.8,578.4 618.3,576.2 616.8,574 615.3,571.8 613.8,569.6 612.3,567.4 610.8,565.1 609.3,562.9 607.8,560.7 606.3,558.6 604.9,557.1 603.5,556.3 602.1,555.8 600.6,555.5 599.3,555.5 597.9,555.9 596.4,556.6 594.9,557.4 593.4,558.2 591.9,558.9 590.4,559.7 588.9,560.5 587.4,561.2 585.8,561.7 584.2,561.9 582.6,561.9 581,561.4 579.4,560.1 577.9,558.2 576.3,556.2 574.8,554.1 573.3,552.1 571.8,550 570.4,548 568.9,545.9 567.4,543.9 565.9,541.8 564.4,539.8 562.9,537.8 561.4,536.3 560,535.4 558.6,534.9 557.1,534.6 555.7,534.4 554.3,534.7 552.8,535.2 551.3,535.7 549.8,536.3 548.3,536.9 546.8,537.4 545.3,538 543.8,538.5 542.3,538.9 540.7,539.1 539.2,539.1 537.5,538.7 535.9,537.6 534.4,535.9 532.9,534 531.4,532.1 529.9,530.2 528.4,528.3 526.9,526.4 525.4,524.5 523.9,522.6 522.4,520.7 520.9,518.8 519.4,517 518,515.5 516.5,514.6 515.1,514.1 513.6,513.8 512.2,513.6 510.8,513.7 509.3,514 507.8,514.4 506.3,514.8 504.8,515.2 503.3,515.6 501.8,516 500.2,516.2 498.7,516.3 497.1,516.2 495.5,515.8 494,514.7 492.4,513.1 490.9,511.5 489.4,509.9 487.9,508.2 486.4,506.6 484.9,505 483.4,503.4 481.9,501.7 480.4,500.1 478.9,498.5 477.5,496.9 476,495.6 474.5,494.6 473,493.8 471.5,493.1 470.1,492.4 468.6,491.8 467.2,491.6 465.7,491.7 464.2,491.8 462.7,491.9 461.2,492 459.7,492.2 458.2,492.3 456.6,492.1 455,491.5 453.5,490.5 452,489.5 450.5,488.4 449,487.4 447.5,486.4 446,485.3 444.5,484.3 443,483.2 441.5,482.2 440,481.1 438.5,479.9 437,478.8 435.5,477.6 434,476.4 432.5,475.2 431,474.1 429.5,472.9 428,471.8 426.6,470.9 425.1,470.4 423.7,470.2 422.2,470.1 420.7,469.9 419.2,469.8 417.7,469.6 416.1,469.3 414.6,468.9 413.1,468.5 411.6,468.1 410.1,467.6 408.5,466.8 407,465.7 405.5,464.5 404,463.3 402.5,462.1 401,460.9 399.5,459.7 398,458.5 396.5,457.3 395,456.2 393.5,455 392,453.9 390.5,452.9 389,451.8 387.5,450.7 386,449.7 384.6,448.7 383.1,448.1 381.7,447.9 380.2,447.7 378.7,447.5 377.2,447.4 375.7,447.2 374.2,447.1 372.7,446.9 371.2,446.8 369.6,446.5 368.1,445.9 366.6,444.9 365,443.8 363.6,442.8 362.1,441.7 360.6,440.7 359.1,439.6 357.6,438.6 356.1,437.5 354.5,436.4 353,435.2 351.5,433.9 350,432.7 348.5,431.4 347,430.1 345.5,428.8 344.1,427.7 342.6,427 341.1,426.5 339.6,426.1 338.1,425.8 336.6,425.4 335.1,425 333.6,424.6 332.1,424.3 330.6,423.9 329.1,423.4 327.6,422.7 326.1,421.8 324.6,421 323.1,420.1 321.6,419.2 320.1,418.3 318.6,417.4 317.1,416.4 315.6,415.5 314.1,414.5 312.6,413.5 311.1,412.5 309.6,411.5 308.1,410.6 306.6,409.6 305.1,408.7 303.6,407.9 302.1,407.2 300.6,406.5 299.1,405.8 297.6,405.2 296.1,404.5 294.6,403.8 293.1,403.1 291.6,402.4 290.1,401.7 288.6,401.1 287.1,400.3 285.6,399.5 284.1,398.6 282.6,397.7 281.1,396.9 279.6,396 278.1,395.1 276.6,394.2 275.1,393.3 273.6,392.5 272.1,391.6 270.6,390.7 269.1,389.9 267.6,389.1 266.1,388.3 264.6,387.6 263.1,386.8 261.6,386.1 260.1,385.3 258.6,384.6 257.1,383.8 255.6,383.1 254.1,382.3 252.6,381.6 251.1,380.7 249.6,379.7 248.1,378.6 246.6,377.6 245.1,376.5 243.6,375.5 242.1,374.4 240.6,373.4 239.1,372.3 237.6,371.2 236.1,370.2 234.6,369.2 233.1,368.2 231.6,367.3 230.1,366.5 228.6,365.6 227.1,364.8 225.6,363.9 224.1,363.1 222.6,362.2 221.1,361.2 219.6,360 218.1,358.7 216.6,357.4 215.1,356.2 213.6,354.9 212.1,353.4 210.6,351.9 209.1,350.3 207.6,348.6 206.1,347 204.5,345.3 203,343.5 201.5,341.5 200,339.5 198.5,337.4 197,335.4 195.5,333.3Z" fill="url(#gPur)"/>
<path d="M195.6,332.7 197.1,334.8 198.6,336.8 200.1,338.9 201.6,341 203,343 204.5,344.8 206,346.4 207.5,348 209,349.7 210.5,351.3 211.9,352.9 213.4,354.3 214.9,355.5 216.4,356.8 217.9,358 219.4,359.3 220.8,360.5 222.3,361.4 223.7,362.2 225.2,363.1 226.7,363.9 228.2,364.7 229.7,365.6 231.2,366.5 232.7,367.3 234.3,368.3 235.8,369.4 237.3,370.4 238.8,371.5 240.3,372.6 241.8,373.6 243.3,374.7 244.8,375.7 246.3,376.8 247.8,377.8 249.3,378.8 250.7,379.8 252.2,380.6 253.7,381.4 255.2,382.1 256.7,382.8 258.2,383.6 259.7,384.4 261.2,385.1 262.7,385.9 264.2,386.6 265.7,387.4 267.2,388.1 268.7,388.9 270.2,389.8 271.7,390.7 273.2,391.5 274.8,392.5 276.3,393.4 277.7,394.3 279.2,395.2 280.7,396.1 282.2,397 283.7,397.9 285.2,398.7 286.7,399.5 288.1,400.2 289.6,400.9 291.1,401.5 292.6,402.2 294.1,402.8 295.6,403.5 297.1,404.1 298.7,404.8 300.2,405.4 301.7,406.1 303.2,406.8 304.8,407.6 306.3,408.5 307.8,409.5 309.3,410.5 310.8,411.5 312.3,412.5 313.8,413.4 315.4,414.4 316.8,415.4 318.3,416.3 319.8,417.3 321.3,418.1 322.8,419 324.3,419.9 325.8,420.7 327.3,421.5 328.7,422.2 330.1,422.6 331.5,423 333,423.4 334.5,423.8 336,424.1 337.5,424.5 339,424.9 340.6,425.2 342.2,425.8 343.9,426.6 345.5,427.8 347.1,429.1 348.6,430.3 350.1,431.5 351.6,432.8 353,434 354.5,435.1 356,436.2 357.5,437.2 359,438.3 360.5,439.3 362,440.4 363.5,441.5 365,442.6 366.5,443.6 367.9,444.5 369.1,445.1 370.4,445.3 371.9,445.5 373.4,445.7 374.9,445.9 376.4,446 377.9,446.2 379.4,446.3 380.9,446.5 382.6,446.8 384.4,447.4 386,448.4 387.6,449.4 389.1,450.5 390.6,451.6 392.1,452.6 393.6,453.7 395.2,454.8 396.7,456.1 398.2,457.3 399.7,458.6 401.2,459.8 402.7,460.9 404.2,462.1 405.7,463.3 407.2,464.5 408.5,465.4 409.8,466.1 411.2,466.5 412.6,466.9 414.1,467.2 415.5,467.6 416.9,467.8 418.4,468 419.8,468.1 421.4,468.2 422.9,468.3 424.6,468.6 426.5,469.2 428.2,470.3 429.8,471.5 431.3,472.7 432.8,473.8 434.3,475 435.8,476.3 437.3,477.4 438.8,478.6 440.3,479.7 441.7,480.7 443.2,481.8 444.7,482.8 446.2,483.9 447.7,484.9 449.2,485.9 450.7,486.9 452.2,488 453.7,489 455,489.8 456.1,490.3 457.2,490.3 458.6,490.2 460,490 461.5,489.9 463,489.7 464.5,489.6 466.3,489.5 468.1,489.7 469.9,490.3 471.6,491.1 473.1,491.8 474.7,492.6 476.4,493.7 478.1,495.3 479.7,497 481.2,498.7 482.7,500.3 484.2,502 485.7,503.5 487.2,505.2 488.7,506.7 490.2,508.3 491.7,509.9 493.2,511.5 494.5,512.9 495.6,513.7 496.5,513.8 497.7,514 499,513.9 500.4,513.8 501.8,513.4 503.2,513.2 504.6,512.8 506.1,512.3 507.7,511.9 509.3,511.6 511.2,511.3 513.1,511.5 514.8,511.9 516.6,512.5 518.5,513.6 520.3,515.4 521.9,517.4 523.4,519.2 524.9,521.1 526.4,523 527.9,524.9 529.5,526.9 530.9,528.8 532.4,530.7 533.9,532.6 535.4,534.3 536.7,535.9 537.6,536.5 538.4,536.6 539.5,536.6 540.7,536.4 542.1,536.1 543.5,535.7 544.9,535.1 546.4,534.5 547.9,534 549.4,533.4 550.9,532.9 552.6,532.3 554.6,532 556.5,532.1 558.3,532.4 560.2,533.1 562.2,534.3 564,536.3 565.6,538.2 567.1,540.2 568.6,542.3 570.2,544.4 571.7,546.5 573.2,548.6 574.7,550.6 576.2,552.7 577.7,554.7 579.2,556.7 580.5,558.5 581.4,559.2 582.1,559.3 583.1,559.4 584.1,559.3 585.2,558.8 586.6,558.2 588.1,557.4 589.6,556.7 591,555.9 592.6,555.1 594,554.4 595.7,553.4 597.9,552.8 600,552.9 601.8,553.2 603.7,553.7 605.9,555 607.7,557 609.3,559.3 610.9,561.5 612.4,563.7 613.9,565.9 615.4,568.1 616.9,570.3 618.4,572.5 619.9,574.6 621.4,576.8 622.9,579 624.2,580.9 625.1,581.8 625.7,581.9 626.6,581.9 627.6,581.7 628.6,581.4 629.8,580.7 631.3,579.8 632.7,579 634.2,577.9 635.8,576.9 637.3,576 639,575.1 641.1,574.2 643.5,574.1 645.5,574.6 647.3,575.1 649.5,576.4 651.4,578.6 653,580.9 654.6,583.3 656.1,585.6 657.5,587.9 659,590.1 660.5,592.3 662,594.6 663.5,596.8 665,599 666.5,601.1 667.8,603 668.7,604 669.3,604.1 670.3,604.2 671.2,604.2 672.1,603.9 673.2,603.3 674.6,602.3 676.2,601.3 677.7,600.3 679.2,599.4 680.7,598.4 682.3,597.3 684.3,596.4 686.7,596 688.8,596.3 690.8,596.9 692.9,598.1 694.8,600 696.5,602.3 698,604.6 699.5,606.8 701,609 702.5,611.4 704,613.6 705.5,615.8 707,618 708.5,620.2 710,622.4 711.3,624.1 712,624.8 712.5,624.9 713.4,624.8 714.4,624.7 715.4,624.2 716.7,623.4 718.2,622.4 719.7,621.5 721.1,620.4 722.7,619.4 724.3,618.5 726.1,617.4 728.3,616.8 730.6,616.8 732.5,617.3 734.5,618 736.7,619.5 738.5,621.8 740,624.2 741.6,626.5 743.1,628.9 744.6,631.3 746.1,633.7 747.6,636.1 749.1,638.5 750.6,641 752.1,643.3 753.5,645.5 754.5,646.8 754.9,646.9 755.6,646.9 756.5,646.8 757.5,646.4 758.7,645.7 760.1,644.7 761.6,643.7 763.1,642.7 764.6,641.7 766.1,640.6 767.7,639.5 769.4,638.5 771.5,637.6 773.8,637.4 775.7,637.7 777.9,638.2 780.1,639.8 782,642.1 783.6,644.9 785.1,647.6 786.6,650.2 788.1,652.8 789.6,655.5 791.1,658.2 792.6,660.9 794.1,663.5 795.6,666 796.8,667.9 797.5,668.5 798,668.5 798.8,668.5 799.6,668.3 800.6,667.7 802,666.7 803.5,665.5 805,664.4 806.5,663.1 808.1,662 809.6,660.9 811.1,659.8 813.1,658.6 815.5,658 817.7,658.3 819.7,658.8 821.9,660 823.9,662 825.6,664.5 827.1,667 828.6,669.5 830.1,672.1 831.6,674.8 833.1,677.4 834.6,680 836.1,682.4 837.6,685 839.1,687.5 840.5,689.8 841.3,690.8 841.7,690.8 842.4,690.8 843.4,690.6 844.5,690.1 845.7,689.4 847.1,688.4 848.6,687.4 850,686.3 851.5,685.1 853,684 854.6,682.8 856.2,681.8 858.1,680.7 860.5,680.1 862.7,680.2 864.8,680.8 867,682 869,684.3 870.7,687.4 872.2,690.4 873.7,693.5 875.2,696.6 876.7,699.7 878.2,703 879.7,706.2 881.2,709.1 882.7,712.3 884.2,715.4 885.7,718.7 887.2,721.9 L882.1,724.3 880.6,721 879.1,717.8 877.6,714.7 876.1,711.6 874.6,708.6 873.1,705.4 871.6,702.1 870.1,699.1 868.6,696 867.1,692.9 865.7,690 864.3,687.5 863.4,686.4 862.6,686.1 861.7,685.8 860.9,685.7 860.4,685.8 859.2,686.6 857.8,687.5 856.4,688.5 854.9,689.6 853.4,690.8 851.9,692 850.3,693 848.8,694.1 847,695.2 845,696 843,696.4 840.7,696.3 838.1,695.4 835.9,693.1 834.3,690.4 832.7,687.9 831.2,685.2 829.8,682.8 828.2,680.2 826.7,677.6 825.2,674.9 823.8,672.4 822.3,669.9 820.8,667.5 819.5,665.5 818.5,664.5 817.7,664.1 816.7,663.8 815.9,663.7 815.3,663.8 814.3,664.5 812.9,665.5 811.4,666.6 809.9,667.6 808.5,668.8 806.9,670 805.4,671.2 803.8,672.4 801.8,673.5 799.6,674.1 797.4,674.1 794.9,673.5 792.5,671.6 790.8,669 789.2,666.3 787.7,663.7 786.2,661 784.7,658.3 783.2,655.6 781.7,653 780.2,650.4 778.7,647.7 777.3,645.3 776.2,643.9 775.5,643.4 774.7,643.2 773.6,643 772.9,643.1 772,643.5 770.8,644.2 769.4,645.2 767.8,646.3 766.3,647.3 764.8,648.4 763.3,649.4 761.8,650.4 759.9,651.5 757.9,652.3 755.8,652.6 753.5,652.4 750.9,651.1 748.9,648.8 747.3,646.3 745.8,643.9 744.3,641.4 742.8,639.1 741.3,636.7 739.8,634.3 738.3,631.9 736.8,629.6 735.3,627.3 733.9,625.1 732.7,623.6 731.9,623.1 730.9,622.7 729.8,622.4 729.1,622.4 728.3,622.6 727.2,623.3 725.7,624.2 724.3,625.1 722.8,626.2 721.2,627.2 719.7,628.1 718,629.2 716.1,630 714,630.5 711.9,630.5 709.4,629.8 707.1,628 705.4,625.6 703.8,623.4 702.3,621.1 700.8,619 699.3,616.7 697.8,614.5 696.3,612.1 694.8,609.9 693.3,607.7 691.9,605.5 690.5,603.6 689.5,602.6 688.6,602.1 687.6,601.8 686.7,601.6 686.1,601.7 685.1,602.2 683.8,603.1 682.3,604.1 680.7,605.1 679.2,606 677.8,607 676.2,608.1 674.3,609.2 672.2,609.8 670.1,609.9 668,609.6 665.6,608.7 663.5,606.7 661.9,604.4 660.3,602.2 658.8,599.9 657.3,597.7 655.8,595.4 654.4,593.3 652.8,591 651.3,588.7 649.8,586.3 648.3,584.1 646.9,582 645.8,580.7 645.1,580.3 643.9,580 642.9,579.6 642.3,579.6 641.5,580 640.1,580.8 638.6,581.7 637.2,582.5 635.7,583.6 634.1,584.5 632.6,585.4 630.8,586.4 628.8,587.1 626.8,587.3 624.7,587.2 622.3,586.3 620.1,584.4 618.5,582.1 617,579.8 615.5,577.7 614,575.6 612.5,573.3 611,571 609.5,568.9 608,566.7 606.5,564.4 605,562.3 603.6,560.3 602.5,559 601.7,558.5 600.6,558.2 599.4,558 598.5,557.9 597.7,558.2 596.4,558.9 594.9,559.7 593.4,560.4 591.9,561.2 590.3,562 588.8,562.7 587.2,563.5 585.3,564.2 583.3,564.4 581.3,564.3 579,563.6 576.9,561.9 575.2,559.7 573.7,557.6 572.2,555.6 570.7,553.5 569.2,551.4 567.7,549.3 566.2,547.2 564.7,545.2 563.2,543.1 561.8,541.2 560.3,539.3 559.1,538 558.2,537.4 557.1,537 555.9,536.8 554.8,536.7 553.8,536.9 552.5,537.3 551,537.9 549.5,538.4 548,538.9 546.5,539.4 545,540 543.3,540.5 541.7,540.9 539.9,541.2 537.9,541.2 535.8,540.7 533.6,539.2 531.9,537.3 530.4,535.4 528.9,533.5 527.4,531.6 525.9,529.7 524.4,527.7 522.9,525.8 521.4,523.8 520,522 518.5,520.1 517,518.3 515.8,517.1 514.8,516.5 513.6,516.1 512.3,515.8 511.2,515.6 510.1,515.8 508.7,516.1 507.3,516.5 505.8,516.9 504.2,517.3 502.6,517.6 501,517.9 499.4,518 497.7,518.1 495.9,517.9 493.8,517.4 491.8,516 490.2,514.4 488.7,512.7 487.2,511.1 485.7,509.5 484.2,508 482.7,506.3 481.2,504.7 479.7,503 478.2,501.4 476.7,499.7 475.3,498.1 474,496.8 472.7,496.1 471.3,495.3 469.8,494.6 468.4,493.9 467.3,493.5 466.1,493.3 464.9,493.4 463.4,493.5 461.9,493.7 460.4,493.8 458.8,494 457.2,494.1 455.3,493.9 453.3,493.1 451.7,492.1 450.1,491 448.6,490 447.1,489 445.6,487.9 444.1,486.9 442.6,485.8 441.1,484.7 439.6,483.7 438.1,482.6 436.6,481.4 435.1,480.3 433.6,479 432.1,477.8 430.6,476.6 429.1,475.5 427.6,474.3 426.2,473.2 424.9,472.3 423.8,471.9 422.5,471.8 421,471.6 419.6,471.5 418,471.4 416.5,471.2 414.8,470.9 413.3,470.5 411.8,470.1 410.2,469.7 408.6,469.1 406.8,468.3 405.2,467.1 403.7,465.9 402.2,464.7 400.7,463.5 399.2,462.3 397.7,461.1 396.2,459.8 394.7,458.5 393.2,457.3 391.8,456.2 390.3,455.2 388.8,454.1 387.3,453 385.8,452 384.4,451 383,450.2 381.8,449.7 380.5,449.5 379,449.3 377.5,449.2 376,449 374.5,448.8 373,448.6 371.5,448.4 369.9,448.2 368.2,447.9 366.5,447.1 364.9,446 363.3,444.9 361.8,443.8 360.4,442.7 358.9,441.7 357.4,440.6 355.9,439.5 354.4,438.5 352.9,437.4 351.3,436.2 349.8,434.9 348.3,433.6 346.8,432.4 345.3,431.2 343.8,429.9 342.5,428.9 341.2,428.2 339.8,427.8 338.4,427.4 336.9,427 335.4,426.7 333.9,426.3 332.4,425.9 330.9,425.5 329.3,425.1 327.7,424.5 326.1,423.8 324.6,422.9 323.1,422.1 321.6,421.2 320.1,420.3 318.5,419.4 317,418.4 315.5,417.4 314,416.4 312.5,415.4 311,414.5 309.5,413.4 308,412.4 306.6,411.5 305.1,410.5 303.6,409.6 302.2,408.8 300.7,408.2 299.2,407.5 297.7,406.8 296.2,406.1 294.8,405.5 293.2,404.8 291.7,404.2 290.3,403.5 288.8,402.9 287.2,402.2 285.7,401.4 284.2,400.6 282.6,399.7 281.1,398.8 279.6,397.9 278.1,397.1 276.6,396.2 275.1,395.3 273.6,394.3 272.1,393.4 270.6,392.5 269.1,391.7 267.7,390.8 266.2,390.1 264.7,389.3 263.2,388.6 261.7,387.8 260.2,387.1 258.7,386.4 257.2,385.6 255.7,384.8 254.2,384.1 252.7,383.3 251.2,382.5 249.6,381.6 248.1,380.6 246.6,379.6 245.1,378.5 243.6,377.5 242.1,376.5 240.6,375.4 239.1,374.3 237.6,373.3 236.1,372.2 234.6,371.1 233.1,370.1 231.6,369.2 230.1,368.3 228.7,367.5 227.2,366.6 225.7,365.8 224.2,365 222.7,364.1 221.1,363.2 219.5,362.2 218,361 216.5,359.7 215,358.4 213.5,357.2 212,355.9 210.4,354.4 208.9,352.8 207.4,351.2 205.9,349.5 204.4,347.9 202.9,346.2 201.3,344.3 199.8,342.3 198.3,340.2 196.8,338.1 195.3,336.1 193.8,334Z" fill="url(#gRed)"/>
<path d="M195.2,333.3 196.7,335.3 198.2,337.4 199.7,339.5 201.2,341.5 202.7,343.5 204.2,345.3 205.7,347 207.2,348.6 208.7,350.2 210.1,351.8 211.6,353.3 213.1,354.7 214.6,356 216.1,357.2 217.6,358.5 219.1,359.7 220.6,360.9 222,361.9 223.5,362.8 225,363.6 226.5,364.5 228,365.3 229.5,366.1 231,367 232.5,367.9 234,368.8 235.6,369.9 237.1,370.9 238.6,372 240.1,373 241.6,374.1 243.1,375.2 244.6,376.3 246.1,377.3 247.6,378.4 249,379.4 250.5,380.4 252,381.2 253.5,382 255,382.8 256.5,383.5 258,384.3 259.5,385.1 261,385.8 262.5,386.5 264,387.3 265.5,388 267,388.8 268.5,389.5 270,390.3 271.5,391.2 273,392.1 274.5,393 276,393.9 277.5,394.8 279,395.6 280.5,396.5 282,397.4 283.5,398.3 285,399.1 286.5,399.9 288,400.6 289.5,401.3 291,402 292.5,402.6 294,403.4 295.5,404.1 297,404.7 298.5,405.4 300,406.1 301.5,406.8 303,407.5 304.5,408.3 306.1,409.3 307.6,410.2 309.1,411.2 310.6,412.2 312.1,413.2 313.6,414.1 315.1,415.1 316.6,416.1 318.1,417 319.6,417.9 321,418.8 322.5,419.6 324.1,420.5 325.5,421.4 327,422.2 328.5,422.9 329.9,423.3 331.4,423.7 332.9,424.1 334.4,424.5 335.9,424.9 337.4,425.2 338.9,425.6 340.4,426 342,426.4 343.6,427.3 345.2,428.4 346.7,429.6 348.2,430.9 349.7,432.2 351.2,433.5 352.7,434.7 354.2,435.9 355.7,437.1 357.1,438.1 358.7,439.2 360.2,440.3 361.7,441.4 363.1,442.4 364.6,443.4 366.1,444.5 367.6,445.4 368.9,445.9 370.3,446.2 371.8,446.3 373.3,446.5 374.8,446.6 376.3,446.7 377.8,446.9 379.3,447 380.8,447.2 382.4,447.4 384.1,448.1 385.7,449.2 387.2,450.3 388.7,451.3 390.2,452.4 391.7,453.5 393.2,454.6 394.7,455.8 396.2,457 397.7,458.2 399.2,459.3 400.7,460.4 402.2,461.6 403.7,462.8 405.2,463.9 406.7,465.1 408.2,466.2 409.5,466.8 411,467.3 412.5,467.7 413.9,468.2 415.4,468.5 416.9,468.8 418.3,469.1 419.8,469.2 421.3,469.4 422.8,469.5 424.4,469.7 426.1,470.3 427.7,471.2 429.3,472.4 430.7,473.6 432.2,474.6 433.8,475.8 435.3,476.9 436.8,478.2 438.3,479.4 439.8,480.5 441.2,481.5 442.7,482.5 444.3,483.6 445.7,484.7 447.2,485.7 448.7,486.7 450.2,487.7 451.8,488.7 453.3,489.7 454.7,490.7 455.9,491.2 457.2,491.3 458.6,491.3 460.1,491.2 461.6,491 463.1,490.9 464.6,490.7 466.2,490.7 467.9,490.9 469.6,491.5 471.1,492.3 472.7,493 474.2,493.8 475.8,494.9 477.4,496.3 478.9,497.9 480.4,499.5 482,501.1 483.5,502.8 485,504.3 486.5,506 488,507.6 489.5,509.2 491,510.8 492.5,512.5 493.9,513.9 495.1,514.8 496.4,515 497.7,515.1 499.1,515 500.5,514.8 501.9,514.4 503.4,514 504.9,513.6 506.5,513.2 508,512.9 509.5,512.5 511.2,512.4 512.9,512.6 514.5,513 516.2,513.6 517.9,514.7 519.5,516.4 521.1,518.3 522.6,520.2 524.1,522.1 525.6,524 527.1,525.9 528.6,527.8 530.1,529.7 531.6,531.6 533.1,533.5 534.6,535.4 536,537 537.2,537.8 538.3,538 539.6,538 541,537.9 542.4,537.5 543.8,537 545.3,536.4 546.8,535.9 548.3,535.3 549.8,534.7 551.3,534.1 552.9,533.6 554.7,533.3 556.4,533.5 558,533.9 559.7,534.4 561.5,535.5 563.1,537.3 564.7,539.1 566.2,541.1 567.7,543.2 569.2,545.2 570.7,547.3 572.2,549.3 573.7,551.4 575.2,553.4 576.7,555.4 578.2,557.5 579.6,559.3 580.8,560.3 581.8,560.5 583.1,560.5 584.4,560.2 585.8,559.9 587.1,559.2 588.6,558.4 590.1,557.6 591.6,556.8 593.1,556 594.7,555.3 596.3,554.5 598,554.1 599.8,554 601.6,554.4 603.3,555.1 605,556.2 606.7,558 608.3,560.1 609.8,562.3 611.3,564.5 612.8,566.8 614.3,568.9 615.8,571.1 617.3,573.3 618.8,575.5 620.3,577.7 621.8,579.9 623.2,581.8 624.4,583 625.4,583.2 626.7,583.3 627.9,583.2 629.1,582.7 630.5,581.9 632,581 633.5,580.1 635,579.2 636.5,578.3 638,577.3 639.6,576.4 641.4,575.7 643.3,575.6 645.1,576 646.7,576.5 648.6,577.5 650.3,579.5 651.9,581.8 653.4,584.1 654.9,586.3 656.4,588.6 657.9,590.9 659.4,593.2 660.9,595.6 662.4,597.8 663.9,600.1 665.4,602.3 666.8,604.3 668,605.7 669,606.1 670.2,606.1 671.3,606 672.6,605.5 673.9,604.6 675.4,603.6 676.9,602.6 678.4,601.6 679.9,600.7 681.4,599.6 683,598.6 684.9,597.7 686.8,597.7 688.5,598 690.2,598.5 692,599.4 693.8,601.1 695.3,603.3 696.9,605.5 698.4,607.7 699.9,610 701.4,612.2 702.9,614.4 704.4,616.7 705.9,618.8 707.4,621.1 708.9,623.3 710.3,625.2 711.4,626.3 712.3,626.4 713.6,626.4 714.8,626.2 716.1,625.7 717.5,624.9 718.9,623.9 720.4,623 721.9,621.9 723.4,620.9 725,620 726.6,619.1 728.5,618.4 730.4,618.4 732.1,618.8 733.8,619.4 735.7,620.7 737.3,622.7 738.9,625 740.4,627.3 741.9,629.7 743.4,632.1 744.9,634.6 746.4,636.9 747.9,639.3 749.4,641.6 750.9,644 752.3,646.1 753.6,647.7 754.6,648.2 755.6,648.3 756.9,648.1 758.1,647.7 759.5,646.8 761,646 762.4,645.1 763.9,644.1 765.4,643.1 766.9,642 768.4,641 770,640 771.9,639.2 773.8,639.1 775.5,639.4 777.3,640 779.2,641.2 780.9,643.3 782.4,646 783.9,648.6 785.4,651.3 786.9,654 788.4,656.7 789.9,659.3 791.4,661.8 792.9,664.4 794.4,667 795.8,668.9 796.9,669.9 797.9,670.2 799,670.1 800.2,669.8 801.5,669.1 802.9,668.1 804.4,667.1 805.9,666 807.4,664.9 808.9,663.8 810.3,662.7 811.9,661.4 813.7,660.4 815.6,660 817.4,660.1 819.1,660.5 821,661.3 822.8,663 824.4,665.4 825.9,667.9 827.4,670.6 828.9,673.2 830.4,675.7 831.9,678.2 833.4,680.8 834.9,683.5 836.4,686.1 837.9,688.6 839.3,690.9 840.4,691.9 841.4,692.1 842.6,692.1 843.8,692 845,691.4 846.4,690.5 847.9,689.4 849.4,688.3 850.9,687.2 852.4,686.2 853.9,685.2 855.4,684.1 856.9,683.1 858.6,682 860.6,681.5 862.5,681.7 864.2,682.2 866,683.1 867.8,685 869.4,687.8 871,691 872.5,694 874,697.1 875.5,700.2 877,703.3 878.5,706.4 880,709.6 881.5,712.9 883,716 884.5,719.2 886,722.4 L882.8,723.9 881.3,720.7 879.8,717.5 878.3,714.4 876.8,711.1 875.3,708 873.8,704.9 872.3,701.7 870.8,698.7 869.3,695.5 867.8,692.5 866.3,689.4 865,687 863.9,685.9 863,685.5 861.8,685.1 860.8,685 860,685.2 858.8,686 857.4,687 855.9,688.1 854.4,689.1 852.9,690.1 851.4,691.1 850,692.2 848.4,693.4 846.7,694.5 844.8,695.4 842.8,695.6 840.9,695.5 838.7,694.9 836.6,693.1 834.9,690.5 833.4,687.8 831.9,685.2 830.4,682.6 828.9,680 827.4,677.5 825.9,675 824.4,672.3 822.9,669.7 821.4,667.3 820.1,665.2 819,664.2 818.1,663.8 816.9,663.6 815.8,663.5 815,663.7 813.9,664.3 812.5,665.4 811,666.6 809.5,667.7 808,668.8 806.4,670 804.9,671 803.3,672.1 801.5,673 799.5,673.6 797.5,673.6 795.2,673 793.1,671.2 791.4,668.9 789.9,666.2 788.4,663.6 786.9,661 785.4,658.4 783.9,655.7 782.4,653 780.9,650.4 779.4,647.8 777.9,645.2 776.8,643.7 775.8,643.1 774.7,642.8 773.5,642.6 772.7,642.6 771.7,643.1 770.4,643.9 768.9,644.9 767.4,646 765.9,647 764.3,648 762.8,649 761.3,649.8 759.6,650.9 757.7,651.5 755.8,651.8 753.6,651.6 751.3,650.4 749.5,648.2 747.9,645.9 746.4,643.5 744.9,641.2 743.4,638.8 741.9,636.4 740.4,633.9 738.9,631.5 737.4,629.3 735.9,627 734.5,624.8 733.2,623.2 732.2,622.5 731.1,622.1 730,621.9 729.1,621.8 728.1,622.2 726.7,623 725.3,623.8 723.9,624.8 722.4,625.9 720.8,626.9 719.3,627.9 717.6,628.8 715.8,629.6 713.9,629.9 712,629.9 709.7,629.4 707.6,627.5 706,625.3 704.5,623 703,620.8 701.5,618.6 700,616.4 698.5,614.1 697,611.9 695.5,609.7 694,607.5 692.5,605.3 691.1,603.4 690,602.2 688.9,601.8 687.7,601.4 686.5,601.1 685.7,601.1 684.7,601.6 683.4,602.5 681.9,603.5 680.4,604.6 678.8,605.6 677.4,606.5 675.9,607.6 674.1,608.6 672.2,609.4 670.3,609.6 668.2,609.5 665.9,608.5 664.1,606.5 662.5,604.3 661,602 659.5,599.8 657.9,597.5 656.4,595.1 654.9,592.9 653.4,590.6 651.9,588.3 650.4,586 649,583.7 647.5,581.6 646.3,580.2 645.4,579.7 644.2,579.3 643,579.1 642.1,579.1 641.1,579.5 639.8,580.3 638.3,581.2 636.8,582.1 635.3,583.1 633.7,583.9 632.2,584.9 630.6,585.8 628.7,586.5 626.7,586.7 624.8,586.5 622.7,585.8 620.7,584.1 619.1,581.8 617.5,579.5 616.1,577.4 614.6,575.1 613.1,573 611.6,570.8 610.1,568.6 608.6,566.4 607.1,564.2 605.6,562 604.2,560 602.9,558.6 601.9,558 600.6,557.5 599.5,557.2 598.5,557.3 597.3,557.6 596,558.2 594.6,558.9 593.1,559.6 591.6,560.4 590.1,561.2 588.6,562 586.9,562.9 585.1,563.3 583.4,563.6 581.5,563.6 579.3,563.1 577.3,561.5 575.7,559.4 574.2,557.2 572.7,555.2 571.2,553.2 569.7,551.2 568.2,549.1 566.7,547 565.2,545 563.7,542.9 562.3,541 560.8,539.2 559.5,537.8 558.5,537.1 557.2,536.8 555.9,536.4 554.7,536.3 553.6,536.5 552.3,536.9 550.8,537.5 549.4,538 547.8,538.7 546.3,539.2 544.8,539.8 543.2,540.3 541.5,540.7 539.8,540.9 538,540.9 536,540.5 534,539.1 532.4,537.2 530.8,535.3 529.4,533.4 527.9,531.5 526.4,529.6 524.9,527.7 523.4,525.8 521.9,523.8 520.4,521.9 518.9,520 517.4,518.2 516.1,516.8 515,516.1 513.7,515.7 512.4,515.3 511.2,515.1 510,515.2 508.5,515.5 507.1,515.8 505.6,516.2 504.1,516.6 502.6,517.1 501,517.4 499.4,517.7 497.7,517.8 496,517.7 494,517.2 492.2,515.9 490.6,514.3 489,512.6 487.6,511 486,509.4 484.5,507.7 483.1,506.1 481.6,504.5 480.1,502.9 478.6,501.3 477.1,499.7 475.6,498.2 474.3,496.9 472.9,496 471.5,495.3 470,494.5 468.6,493.8 467.3,493.3 466.1,493.2 464.8,493.2 463.3,493.4 461.8,493.5 460.3,493.6 458.8,493.7 457.2,493.8 455.3,493.6 453.5,492.8 451.9,491.7 450.4,490.7 448.9,489.7 447.4,488.7 445.9,487.7 444.4,486.6 442.9,485.5 441.4,484.5 439.9,483.5 438.4,482.4 436.8,481.2 435.3,480 433.8,478.8 432.3,477.6 430.9,476.5 429.4,475.4 427.9,474.3 426.4,473.1 425.1,472.3 423.9,472 422.5,471.8 421.1,471.6 419.6,471.5 418,471.3 416.5,471 414.9,470.7 413.3,470.3 411.8,469.8 410.3,469.4 408.7,468.9 407,468 405.4,466.8 403.9,465.7 402.4,464.5 400.9,463.3 399.4,462.1 397.9,461 396.4,459.8 394.9,458.6 393.4,457.4 391.9,456.3 390.5,455.1 389,454.1 387.5,453 386,452 384.5,450.9 383.1,449.9 381.9,449.4 380.5,449.2 379.1,449 377.6,449 376.1,448.7 374.6,448.6 373.1,448.5 371.6,448.3 370,448.2 368.4,447.8 366.7,447.1 365,446.2 363.5,445 362,444 360.5,442.9 359,441.9 357.5,440.7 356,439.7 354.5,438.6 353,437.4 351.5,436.2 350,434.9 348.5,433.6 347,432.3 345.5,431 344,429.9 342.6,428.8 341.3,428.1 339.9,427.7 338.4,427.4 337,427 335.4,426.6 333.9,426.3 332.4,425.9 330.9,425.4 329.4,425 327.8,424.5 326.2,423.8 324.7,422.9 323.2,422 321.7,421.1 320.2,420.3 318.7,419.4 317.2,418.4 315.6,417.5 314.1,416.5 312.7,415.5 311.2,414.6 309.7,413.6 308.2,412.6 306.7,411.6 305.2,410.7 303.7,409.7 302.3,409 300.8,408.3 299.3,407.6 297.8,406.9 296.3,406.2 294.8,405.5 293.3,404.8 291.8,404.1 290.3,403.4 288.8,402.7 287.3,402 285.8,401.3 284.3,400.4 282.7,399.6 281.2,398.7 279.7,397.8 278.2,397 276.7,396.1 275.2,395.2 273.7,394.3 272.2,393.4 270.7,392.6 269.2,391.7 267.8,390.9 266.3,390.1 264.8,389.4 263.3,388.6 261.8,387.9 260.3,387.2 258.8,386.4 257.3,385.7 255.8,384.9 254.3,384.2 252.8,383.4 251.3,382.6 249.7,381.7 248.2,380.7 246.7,379.7 245.2,378.6 243.7,377.5 242.2,376.5 240.7,375.4 239.2,374.3 237.7,373.3 236.2,372.2 234.7,371.2 233.2,370.1 231.7,369.2 230.2,368.4 228.7,367.5 227.3,366.7 225.7,365.8 224.2,365 222.7,364.1 221.2,363.2 219.6,362.1 218.1,360.9 216.6,359.7 215.1,358.4 213.6,357.2 212.1,355.8 210.5,354.4 209,352.9 207.5,351.3 206,349.7 204.5,348.1 203,346.3 201.5,344.5 200,342.5 198.4,340.4 196.9,338.3 195.4,336.2 193.9,334.2Z" fill="url(#gOra)"/>
<path d="M195.2,333.5 196.7,335.6 198.2,337.6 199.7,339.7 201.2,341.7 202.6,343.7 204.1,345.5 205.6,347.2 207.1,348.8 208.6,350.4 210.1,352.1 211.6,353.6 213.1,355 214.6,356.3 216.1,357.6 217.6,358.8 219.1,360.1 220.5,361.3 222,362.2 223.5,363.1 225,363.9 226.5,364.8 228,365.6 229.5,366.5 231,367.3 232.5,368.2 234,369.2 235.5,370.3 237,371.3 238.5,372.4 240,373.5 241.5,374.5 243,375.6 244.5,376.6 246,377.7 247.5,378.7 249,379.8 250.5,380.8 252,381.7 253.5,382.4 254.9,383.1 256.4,383.8 258,384.6 259.4,385.3 260.9,386 262.4,386.7 264,387.5 265.5,388.2 267,389 268.5,389.8 270,390.7 271.5,391.6 273,392.5 274.5,393.4 276,394.2 277.5,395.1 279,396 280.5,396.9 282,397.8 283.5,398.6 285,399.5 286.5,400.3 288,401.1 289.4,401.8 290.9,402.5 292.4,403.2 293.9,403.8 295.4,404.5 296.9,405.2 298.4,405.9 299.9,406.6 301.4,407.2 303,407.9 304.5,408.7 306,409.6 307.5,410.5 309,411.5 310.5,412.4 312,413.4 313.5,414.4 315,415.4 316.5,416.4 318,417.4 319.5,418.3 321,419.2 322.5,420.1 324,420.9 325.5,421.8 327,422.5 328.4,423.2 329.9,423.6 331.4,424.1 332.8,424.4 334.3,424.8 335.9,425.2 337.3,425.6 338.8,426 340.4,426.4 341.9,426.9 343.5,427.7 345.1,428.9 346.6,430.1 348.1,431.4 349.6,432.7 351.1,433.9 352.6,435.2 354.1,436.4 355.5,437.4 357,438.5 358.5,439.5 360.1,440.6 361.6,441.7 363.1,442.8 364.5,443.8 366,444.9 367.5,445.8 368.9,446.4 370.3,446.6 371.8,446.8 373.3,446.9 374.7,447.1 376.2,447.1 377.8,447.3 379.3,447.4 380.8,447.6 382.4,447.9 384,448.6 385.5,449.6 387.1,450.7 388.6,451.8 390.1,452.9 391.6,454 393.1,455.1 394.6,456.3 396.1,457.4 397.6,458.6 399.1,459.8 400.6,461 402.1,462.2 403.6,463.4 405.1,464.6 406.6,465.8 408,466.8 409.4,467.4 410.9,467.8 412.4,468.2 413.9,468.6 415.3,469 416.8,469.3 418.3,469.4 419.8,469.6 421.3,469.8 422.8,469.9 424.3,470.2 426,470.7 427.6,471.6 429.1,472.8 430.6,474 432.1,475.1 433.6,476.4 435.1,477.5 436.6,478.7 438.1,480 439.6,481.1 441.1,482.2 442.6,483.2 444.1,484.3 445.6,485.3 447.1,486.4 448.6,487.4 450.1,488.5 451.6,489.5 453.1,490.5 454.5,491.5 455.8,492 457.2,492 458.6,491.9 460.1,491.7 461.6,491.6 463.1,491.5 464.7,491.3 466.2,491.3 467.9,491.5 469.5,492.2 471,493 472.5,493.7 474,494.5 475.6,495.6 477.2,497 478.7,498.5 480.2,500.1 481.7,501.7 483.2,503.3 484.7,504.9 486.2,506.6 487.7,508.2 489.2,509.7 490.7,511.4 492.2,513 493.6,514.5 495,515.6 496.3,515.8 497.7,515.9 499.1,515.9 500.6,515.7 502,515.4 503.5,515 505,514.6 506.5,514.1 508.1,513.8 509.6,513.5 511.2,513.3 512.8,513.5 514.4,513.9 516,514.4 517.6,515.3 519.2,517 520.7,518.9 522.2,520.7 523.7,522.6 525.2,524.5 526.7,526.4 528.2,528.3 529.7,530.2 531.2,532.2 532.7,534 534.2,535.9 535.7,537.6 537,538.4 538.3,538.7 539.7,538.7 541.1,538.6 542.5,538.2 544,537.7 545.4,537.2 546.9,536.5 548.5,535.9 550,535.4 551.5,534.8 553,534.3 554.7,534 556.3,534.2 557.9,534.5 559.5,535.1 561.2,536.1 562.7,537.8 564.3,539.8 565.8,541.9 567.3,543.9 568.8,545.8 570.3,547.9 571.8,549.8 573.3,551.9 574.8,553.9 576.3,556.1 577.8,558.1 579.2,559.9 580.6,561 581.8,561.5 583.2,561.5 584.5,561.4 585.9,560.9 587.4,560.2 588.9,559.3 590.4,558.5 591.9,557.7 593.4,556.9 594.8,556.1 596.4,555.2 598.1,554.6 599.8,554.7 601.4,555.2 603,555.7 604.7,556.7 606.3,558.6 607.8,560.8 609.3,563 610.8,565.4 612.3,567.7 613.8,569.9 615.3,572.1 616.8,574.3 618.3,576.4 619.8,578.5 621.3,580.6 622.8,582.6 624.1,583.8 625.3,584.1 626.7,584.1 628,584 629.4,583.5 630.9,582.8 632.3,581.9 633.8,581.1 635.3,580.3 636.8,579.4 638.3,578.6 639.9,577.6 641.6,577 643.3,577 644.9,577.3 646.5,577.8 648.2,578.8 649.8,580.6 651.3,582.6 652.8,584.9 654.3,587.3 655.8,589.5 657.3,591.7 658.8,594 660.3,596.3 661.8,598.5 663.3,600.7 664.8,603.1 666.3,605.2 667.6,606.6 668.9,607.1 670.2,607.1 671.5,607 672.9,606.5 674.3,605.7 675.8,604.7 677.3,603.7 678.8,602.6 680.3,601.5 681.8,600.4 683.3,599.5 685,598.6 686.7,598.3 688.4,598.6 690,599.1 691.7,600 693.3,601.6 694.8,603.8 696.3,606 697.8,608.3 699.3,610.6 700.8,612.8 702.3,615.1 703.8,617.4 705.3,619.6 706.8,621.8 708.3,624.1 709.8,626.1 711,627.2 712.3,627.5 713.6,627.5 715,627.2 716.3,626.6 717.8,625.7 719.3,624.8 720.8,623.8 722.3,622.8 723.8,621.8 725.3,620.7 726.9,619.8 728.6,619.3 730.3,619.4 731.9,619.7 733.6,620.3 735.2,621.5 736.8,623.5 738.3,625.9 739.8,628.3 741.3,630.7 742.8,633.1 744.3,635.4 745.8,637.7 747.3,640.1 748.8,642.4 750.3,644.7 751.8,646.9 753.2,648.6 754.4,649.1 755.7,649.2 757.1,649.1 758.4,648.7 759.8,647.9 761.3,646.8 762.8,645.9 764.3,645 765.8,644 767.3,643 768.8,642 770.3,641 772,640.2 773.7,640.1 775.4,640.4 777,640.9 778.7,641.9 780.3,643.9 781.8,646.5 783.4,649.1 784.9,651.8 786.4,654.4 787.9,657.1 789.4,659.8 790.9,662.4 792.4,665 793.8,667.7 795.3,669.9 796.6,671 797.8,671.2 799.1,671.2 800.4,671 801.8,670.2 803.3,669.1 804.7,668 806.2,666.9 807.7,665.7 809.2,664.5 810.7,663.3 812.3,662.2 813.9,661 815.7,660.6 817.4,660.8 819,661.3 820.6,662.1 822.3,663.7 823.8,666 825.3,668.5 826.9,671.2 828.4,673.9 829.8,676.4 831.3,679 832.8,681.5 834.3,684.1 835.8,686.7 837.3,689.2 838.8,691.6 840.1,692.8 841.3,693.1 842.6,693.1 844,692.9 845.3,692.2 846.8,691.3 848.3,690.2 849.8,689.3 851.3,688.2 852.8,687.2 854.3,686.2 855.8,685.2 857.3,684.1 858.9,683.1 860.6,682.6 862.3,682.8 863.9,683.2 865.7,684 867.3,685.8 868.9,688.6 870.4,691.7 871.9,694.8 873.4,698.1 874.9,701.3 876.4,704.4 877.9,707.5 879.4,710.6 880.9,713.7 882.4,716.9 883.9,720 885.4,723.1 L883.2,724.1 881.7,721.1 880.2,717.9 878.7,714.8 877.2,711.7 875.7,708.6 874.2,705.5 872.7,702.3 871.2,699.1 869.7,695.9 868.2,692.8 866.7,689.8 865.3,687.2 864.2,685.9 863.1,685.5 861.9,685.2 860.8,685.1 859.9,685.4 858.6,686.2 857.2,687.2 855.6,688.2 854.2,689.2 852.7,690.2 851.1,691.3 849.7,692.2 848.2,693.3 846.5,694.4 844.7,695.2 842.8,695.6 841,695.5 838.8,694.9 836.9,693.1 835.2,690.5 833.7,688 832.2,685.3 830.7,682.8 829.2,680.2 827.7,677.7 826.2,675.1 824.7,672.4 823.2,669.8 821.8,667.3 820.4,665.3 819.2,664.1 818.1,663.6 816.8,663.2 815.8,663 814.9,663.2 813.7,664.1 812.3,665.3 810.7,666.5 809.2,667.6 807.8,668.8 806.2,670 804.7,671.1 803.1,672.2 801.3,673.2 799.4,673.7 797.5,673.7 795.4,673.2 793.4,671.5 791.7,668.9 790.2,666.2 788.7,663.6 787.2,661 785.7,658.3 784.2,655.6 782.7,653 781.2,650.3 779.7,647.8 778.3,645.3 777.1,643.7 776,643.2 774.8,642.8 773.6,642.5 772.7,642.6 771.5,643.2 770.1,644.1 768.6,645 767.2,646 765.6,647.1 764.1,648 762.6,648.9 761.1,649.9 759.4,651 757.5,651.5 755.7,651.6 753.8,651.5 751.6,650.5 749.8,648.4 748.3,646.1 746.8,643.7 745.3,641.4 743.8,639 742.3,636.7 740.8,634.4 739.3,632 737.8,629.6 736.3,627.2 734.8,624.9 733.5,623.3 732.4,622.5 731.3,622.1 730,621.8 728.9,621.7 727.9,622 726.6,622.8 725.2,623.8 723.7,624.8 722.2,625.9 720.6,626.9 719.1,627.8 717.5,628.8 715.7,629.6 713.8,629.9 712,629.9 709.9,629.3 707.9,627.8 706.3,625.5 704.8,623.2 703.3,621 701.8,618.7 700.3,616.4 698.8,614.2 697.3,612 695.8,609.6 694.3,607.4 692.8,605.2 691.4,603.2 690.2,602 689,601.4 687.8,601 686.7,600.8 685.8,600.9 684.6,601.6 683.1,602.5 681.7,603.5 680.2,604.6 678.7,605.6 677.2,606.7 675.6,607.8 673.9,608.7 672.1,609.4 670.2,609.6 668.3,609.5 666.2,608.6 664.4,606.7 662.8,604.5 661.3,602.1 659.8,599.8 658.3,597.7 656.8,595.4 655.3,593.1 653.8,590.9 652.3,588.6 650.8,586.3 649.3,584 647.9,582.1 646.6,580.7 645.5,580.1 644.3,579.7 643,579.4 642,579.4 641,579.8 639.6,580.6 638,581.5 636.5,582.4 635,583.2 633.5,584 632,584.9 630.4,585.7 628.6,586.3 626.7,586.5 624.9,586.4 622.9,585.8 621,584.1 619.4,582 617.9,579.9 616.4,577.7 614.9,575.6 613.4,573.4 611.9,571.2 610.3,569 608.8,566.6 607.4,564.3 605.9,562.1 604.4,560 603.1,558.4 602,557.8 600.7,557.4 599.4,557 598.4,556.9 597.4,557.3 596,558.1 594.5,558.9 593,559.8 591.4,560.6 590,561.3 588.4,562.2 586.8,563 585,563.6 583.2,563.8 581.4,563.7 579.4,563 577.6,561.5 576,559.5 574.4,557.4 572.9,555.3 571.5,553.2 570,551.2 568.5,549.2 567,547.2 565.5,545.2 564,543.2 562.5,541.1 561,539.2 559.7,537.8 558.6,537.1 557.3,536.7 556,536.3 554.8,536.2 553.6,536.4 552.2,536.9 550.7,537.5 549.2,538 547.8,538.5 546.3,539.2 544.7,539.8 543.1,540.3 541.4,540.7 539.8,540.9 538,540.8 536.1,540.4 534.2,539.2 532.6,537.3 531.1,535.4 529.6,533.5 528.1,531.5 526.6,529.6 525.1,527.7 523.6,525.8 522.1,523.9 520.6,522 519.1,520.2 517.6,518.4 516.3,517 515.1,516.3 513.8,515.9 512.4,515.5 511.2,515.4 509.9,515.5 508.5,515.8 507,516.1 505.6,516.6 504.1,517 502.5,517.4 500.9,517.7 499.3,517.9 497.7,518 496,517.9 494.1,517.4 492.3,516 490.7,514.4 489.2,512.8 487.7,511.1 486.2,509.6 484.7,507.9 483.2,506.3 481.7,504.7 480.2,503 478.7,501.5 477.2,499.9 475.8,498.4 474.4,497.1 473,496.2 471.6,495.5 470.1,494.7 468.7,494 467.4,493.4 466.1,493.2 464.8,493.3 463.3,493.4 461.8,493.5 460.3,493.7 458.8,493.8 457.2,494 455.4,493.9 453.6,493.2 452,492.2 450.5,491.1 449,490 447.5,489 446,487.9 444.5,486.9 443,485.8 441.5,484.8 440,483.7 438.5,482.6 436.9,481.4 435.4,480.2 433.9,479 432.4,477.8 430.9,476.6 429.4,475.5 427.9,474.2 426.5,473.1 425.2,472.4 423.9,472 422.5,471.8 421.1,471.6 419.6,471.4 418.1,471.3 416.5,471.1 415,470.8 413.4,470.4 411.9,470 410.4,469.6 408.8,469.1 407.1,468.3 405.5,467.2 404,466 402.5,464.8 401,463.6 399.5,462.4 398,461.2 396.5,460 395,458.8 393.5,457.7 392,456.5 390.5,455.4 389,454.3 387.5,453.2 386,452.1 384.6,451 383.2,450.1 381.9,449.5 380.5,449.3 379.1,449.1 377.6,449 376.1,448.8 374.6,448.8 373.1,448.6 371.6,448.5 370,448.3 368.4,448 366.7,447.3 365.1,446.3 363.6,445.2 362.1,444.1 360.6,443 359.1,442 357.6,440.9 356.1,439.8 354.6,438.8 353.1,437.7 351.5,436.5 350,435.2 348.5,433.9 347,432.6 345.5,431.4 344.1,430.2 342.6,429.1 341.3,428.4 339.9,427.9 338.5,427.6 336.9,427.2 335.4,426.8 333.9,426.4 332.4,426 330.9,425.6 329.4,425.2 327.8,424.7 326.3,424 324.7,423.2 323.2,422.3 321.7,421.4 320.2,420.6 318.7,419.6 317.2,418.7 315.7,417.7 314.2,416.7 312.7,415.7 311.2,414.7 309.7,413.7 308.2,412.8 306.7,411.8 305.2,410.9 303.7,410 302.3,409.3 300.8,408.6 299.3,408 297.8,407.3 296.3,406.6 294.8,405.9 293.3,405.2 291.8,404.5 290.3,403.8 288.8,403.2 287.3,402.4 285.8,401.7 284.2,400.8 282.7,399.9 281.2,399.1 279.7,398.2 278.2,397.3 276.7,396.4 275.2,395.5 273.7,394.6 272.2,393.8 270.7,392.9 269.2,392 267.7,391.1 266.3,390.3 264.8,389.6 263.3,388.8 261.8,388.1 260.3,387.4 258.8,386.6 257.3,385.9 255.8,385.2 254.3,384.5 252.8,383.7 251.3,383 249.7,382.1 248.2,381 246.7,379.9 245.2,378.9 243.7,377.9 242.2,376.8 240.7,375.8 239.2,374.7 237.7,373.6 236.2,372.6 234.7,371.5 233.2,370.5 231.7,369.5 230.2,368.6 228.7,367.8 227.2,366.9 225.7,366.1 224.3,365.2 222.7,364.4 221.2,363.5 219.7,362.5 218.1,361.3 216.6,360 215.1,358.7 213.6,357.4 212.1,356.1 210.6,354.6 209,353.1 207.5,351.4 206,349.8 204.5,348.2 203,346.5 201.5,344.6 200,342.6 198.5,340.6 197,338.5 195.5,336.4 194,334.4Z" fill="#d6cc00"/>
</g>
<path d="M304.6,324.5V760" stroke="#111" stroke-width="1.3" stroke-dasharray="3.8 1.7" fill="none"/>
<path d="M304.6,312.5h24.4v9a3,3 0 0 1 -3,3h-18.4a3,3 0 0 1 -3,-3z" fill="#000"/>
<g clip-path="url(#clipV)"><text x="316.8" y="322.2" font-size="14" fill="#fff" font-family='"DejaVu Serif", "Liberation Serif", serif' text-anchor="middle" textLength="19" lengthAdjust="spacingAndGlyphs">V2</text></g>
<path d="M414.6,324.5V760" stroke="#111" stroke-width="1.3" stroke-dasharray="3.8 1.7" fill="none"/>
<path d="M414.6,312.5h24.4v9a3,3 0 0 1 -3,3h-18.4a3,3 0 0 1 -3,-3z" fill="#000"/>
<g clip-path="url(#clipV)"><text x="426.8" y="322.2" font-size="14" fill="#fff" font-family='"DejaVu Serif", "Liberation Serif", serif' text-anchor="middle" textLength="19" lengthAdjust="spacingAndGlyphs">V1</text></g>
<rect x="691.4" y="306.4" width="194.6" height="283.6" fill="#fff"/>
<path d="M691.4,323.4H884M691.4,337.5H884M691.4,351.5H884M691.4,365.5H884M691.4,379.5H884M691.4,393.6H884M691.4,407.6H884M691.4,421.6H884M691.4,435.7H884M691.4,449.7H884M691.4,463.7H884M691.4,477.8H884M691.4,491.8H884M691.4,505.8H884M691.4,519.8H884M691.4,533.9H884M691.4,547.9H884M691.4,561.9H884M691.4,576H884M691.4,309.4V590M788.3,309.4V590" stroke="#cfcfcf" stroke-width="1" fill="none"/>
<text x="695.2" y="319.1" font-size="8.1" fill="#222" font-family='"DejaVu Sans", "Liberation Sans", sans-serif' textLength="78" lengthAdjust="spacingAndGlyphs">InsLoss_TR1_val</text>
<text x="814.2" y="319.1" font-size="8.1" fill="#222" font-family='"DejaVu Sans", "Liberation Sans", sans-serif' textLength="46.5" lengthAdjust="spacingAndGlyphs">-4.068 dB</text>
<text x="695.2" y="333.1" font-size="8.1" fill="#222" font-family='"DejaVu Sans", "Liberation Sans", sans-serif' textLength="78" lengthAdjust="spacingAndGlyphs">InsLoss_TR2_val</text>
<text x="814.2" y="333.1" font-size="8.1" fill="#222" font-family='"DejaVu Sans", "Liberation Sans", sans-serif' textLength="46.5" lengthAdjust="spacingAndGlyphs">-3.999 dB</text>
<text x="695.2" y="347.2" font-size="8.1" fill="#222" font-family='"DejaVu Sans", "Liberation Sans", sans-serif' textLength="78" lengthAdjust="spacingAndGlyphs">InsLoss_TR3_val</text>
<text x="817.2" y="347.2" font-size="8.1" fill="#222" font-family='"DejaVu Sans", "Liberation Sans", sans-serif' textLength="40.5" lengthAdjust="spacingAndGlyphs">-3.99 dB</text>
<text x="695.2" y="361.2" font-size="8.1" fill="#222" font-family='"DejaVu Sans", "Liberation Sans", sans-serif' textLength="78" lengthAdjust="spacingAndGlyphs">InsLoss_TR4_val</text>
<text x="814.2" y="361.2" font-size="8.1" fill="#222" font-family='"DejaVu Sans", "Liberation Sans", sans-serif' textLength="46.5" lengthAdjust="spacingAndGlyphs">-4.033 dB</text>
<text x="695.2" y="375.2" font-size="8.1" fill="#222" font-family='"DejaVu Sans", "Liberation Sans", sans-serif' textLength="78" lengthAdjust="spacingAndGlyphs">InsLoss_TR5_val</text>
<text x="814.2" y="375.2" font-size="8.1" fill="#222" font-family='"DejaVu Sans", "Liberation Sans", sans-serif' textLength="46.5" lengthAdjust="spacingAndGlyphs">-4.062 dB</text>
<text x="695.2" y="389.2" font-size="8.1" fill="#222" font-family='"DejaVu Sans", "Liberation Sans", sans-serif' textLength="78" lengthAdjust="spacingAndGlyphs">InsLoss_TR6_val</text>
<text x="814.2" y="389.2" font-size="8.1" fill="#222" font-family='"DejaVu Sans", "Liberation Sans", sans-serif' textLength="46.5" lengthAdjust="spacingAndGlyphs">-4.034 dB</text>
<text x="695.2" y="403.3" font-size="8.1" fill="#222" font-family='"DejaVu Sans", "Liberation Sans", sans-serif' textLength="78" lengthAdjust="spacingAndGlyphs">InsLoss_TR7_val</text>
<text x="814.2" y="403.3" font-size="8.1" fill="#222" font-family='"DejaVu Sans", "Liberation Sans", sans-serif' textLength="46.5" lengthAdjust="spacingAndGlyphs">-4.027 dB</text>
<text x="695.2" y="417.3" font-size="8.1" fill="#222" font-family='"DejaVu Sans", "Liberation Sans", sans-serif' textLength="78" lengthAdjust="spacingAndGlyphs">InsLoss_TR8_val</text>
<text x="814.2" y="417.3" font-size="8.1" fill="#222" font-family='"DejaVu Sans", "Liberation Sans", sans-serif' textLength="46.5" lengthAdjust="spacingAndGlyphs">-4.029 dB</text>
<text x="695.2" y="431.3" font-size="8.1" fill="#222" font-family='"DejaVu Sans", "Liberation Sans", sans-serif' textLength="78" lengthAdjust="spacingAndGlyphs">InsLoss_TR9_val</text>
<text x="814.2" y="431.3" font-size="8.1" fill="#222" font-family='"DejaVu Sans", "Liberation Sans", sans-serif' textLength="46.5" lengthAdjust="spacingAndGlyphs">-4.047 dB</text>
<text x="695.2" y="445.4" font-size="8.1" fill="#222" font-family='"DejaVu Sans", "Liberation Sans", sans-serif' textLength="84.8" lengthAdjust="spacingAndGlyphs">InsLoss_TR10_val</text>
<text x="814.2" y="445.4" font-size="8.1" fill="#222" font-family='"DejaVu Sans", "Liberation Sans", sans-serif' textLength="46.5" lengthAdjust="spacingAndGlyphs">-4.043 dB</text>
<text x="695.2" y="459.4" font-size="8.1" fill="#222" font-family='"DejaVu Sans", "Liberation Sans", sans-serif' textLength="84.8" lengthAdjust="spacingAndGlyphs">InsLoss_TR11_val</text>
<text x="814.2" y="459.4" font-size="8.1" fill="#222" font-family='"DejaVu Sans", "Liberation Sans", sans-serif' textLength="46.5" lengthAdjust="spacingAndGlyphs">-4.204 dB</text>
<text x="695.2" y="473.4" font-size="8.1" fill="#222" font-family='"DejaVu Sans", "Liberation Sans", sans-serif' textLength="84.8" lengthAdjust="spacingAndGlyphs">InsLoss_TR12_val</text>
<text x="814.2" y="473.4" font-size="8.1" fill="#222" font-family='"DejaVu Sans", "Liberation Sans", sans-serif' textLength="46.5" lengthAdjust="spacingAndGlyphs">-4.186 dB</text>
<text x="695.2" y="487.5" font-size="8.1" fill="#222" font-family='"DejaVu Sans", "Liberation Sans", sans-serif' textLength="84.8" lengthAdjust="spacingAndGlyphs">InsLoss_TR13_val</text>
<text x="814.2" y="487.5" font-size="8.1" fill="#222" font-family='"DejaVu Sans", "Liberation Sans", sans-serif' textLength="46.5" lengthAdjust="spacingAndGlyphs">-4.193 dB</text>
<text x="695.2" y="501.5" font-size="8.1" fill="#222" font-family='"DejaVu Sans", "Liberation Sans", sans-serif' textLength="84.8" lengthAdjust="spacingAndGlyphs">InsLoss_TR14_val</text>
<text x="814.2" y="501.5" font-size="8.1" fill="#222" font-family='"DejaVu Sans", "Liberation Sans", sans-serif' textLength="46.5" lengthAdjust="spacingAndGlyphs">-4.215 dB</text>
<text x="695.2" y="515.5" font-size="8.1" fill="#222" font-family='"DejaVu Sans", "Liberation Sans", sans-serif' textLength="84.8" lengthAdjust="spacingAndGlyphs">InsLoss_TR15_val</text>
<text x="814.2" y="515.5" font-size="8.1" fill="#222" font-family='"DejaVu Sans", "Liberation Sans", sans-serif' textLength="46.5" lengthAdjust="spacingAndGlyphs">-4.227 dB</text>
<text x="695.2" y="529.5" font-size="8.1" fill="#222" font-family='"DejaVu Sans", "Liberation Sans", sans-serif' textLength="84.8" lengthAdjust="spacingAndGlyphs">InsLoss_TR16_val</text>
<text x="814.2" y="529.5" font-size="8.1" fill="#222" font-family='"DejaVu Sans", "Liberation Sans", sans-serif' textLength="46.5" lengthAdjust="spacingAndGlyphs">-4.256 dB</text>
<text x="695.2" y="543.6" font-size="8.1" fill="#222" font-family='"DejaVu Sans", "Liberation Sans", sans-serif' textLength="84.8" lengthAdjust="spacingAndGlyphs">InsLoss_TR17_val</text>
<text x="814.2" y="543.6" font-size="8.1" fill="#222" font-family='"DejaVu Sans", "Liberation Sans", sans-serif' textLength="46.5" lengthAdjust="spacingAndGlyphs">-4.233 dB</text>
<text x="695.2" y="557.6" font-size="8.1" fill="#222" font-family='"DejaVu Sans", "Liberation Sans", sans-serif' textLength="84.8" lengthAdjust="spacingAndGlyphs">InsLoss_TR18_val</text>
<text x="814.2" y="557.6" font-size="8.1" fill="#222" font-family='"DejaVu Sans", "Liberation Sans", sans-serif' textLength="46.5" lengthAdjust="spacingAndGlyphs">-4.233 dB</text>
<text x="695.2" y="571.6" font-size="8.1" fill="#222" font-family='"DejaVu Sans", "Liberation Sans", sans-serif' textLength="84.8" lengthAdjust="spacingAndGlyphs">InsLoss_TR19_val</text>
<text x="814.2" y="571.6" font-size="8.1" fill="#222" font-family='"DejaVu Sans", "Liberation Sans", sans-serif' textLength="46.5" lengthAdjust="spacingAndGlyphs">-4.256 dB</text>
<text x="695.2" y="585.7" font-size="8.1" fill="#222" font-family='"DejaVu Sans", "Liberation Sans", sans-serif' textLength="84.8" lengthAdjust="spacingAndGlyphs">InsLoss_TR20_val</text>
<text x="814.2" y="585.7" font-size="8.1" fill="#222" font-family='"DejaVu Sans", "Liberation Sans", sans-serif' textLength="46.5" lengthAdjust="spacingAndGlyphs">-4.225 dB</text>
<ellipse cx="332.3" cy="427.5" rx="19.7" ry="36.2" fill="none" stroke="#14245f" stroke-width="6"/>
<ellipse cx="442.8" cy="484.3" rx="19.2" ry="36" fill="none" stroke="#14245f" stroke-width="6"/>
<text x="243.4" y="506.6" font-size="40.5" fill="#14245f" font-family='"Liberation Sans", sans-serif' textLength="126.5" lengthAdjust="spacingAndGlyphs" stroke="#14245f" stroke-width="0.45">~-2.4dB</text>
<text x="245.6" y="555.9" font-size="40.5" fill="#14245f" font-family='"Liberation Sans", sans-serif' textLength="120.5" lengthAdjust="spacingAndGlyphs" stroke="#14245f" stroke-width="0.45">@8GHz</text>
<text x="408.3" y="579.3" font-size="40.5" fill="#14245f" font-family='"Liberation Sans", sans-serif' textLength="95.5" lengthAdjust="spacingAndGlyphs" stroke="#14245f" stroke-width="0.45">~-4dB</text>
<text x="385.5" y="629.1" font-size="40.5" fill="#14245f" font-family='"Liberation Sans", sans-serif' textLength="141" lengthAdjust="spacingAndGlyphs" stroke="#14245f" stroke-width="0.45">@16GHz</text>
</g>
<g id="chartR">
<path d="M1084,326H1797.6M1084,333.7H1797.6M1084,341.4H1797.6M1084,349.1H1797.6M1084,356.8H1797.6M1084,364.5H1797.6M1084,372.2H1797.6M1084,380H1797.6M1084,387.7H1797.6M1084,395.4H1797.6M1084,403.1H1797.6M1084,410.8H1797.6M1084,418.5H1797.6M1084,426.2H1797.6M1084,433.9H1797.6M1084,441.6H1797.6M1084,449.4H1797.6M1084,457.1H1797.6M1084,464.8H1797.6M1084,472.5H1797.6M1084,480.2H1797.6M1084,487.9H1797.6M1084,495.6H1797.6M1084,503.3H1797.6M1084,511H1797.6M1084,518.8H1797.6M1084,526.5H1797.6M1084,534.2H1797.6M1084,541.9H1797.6M1084,549.6H1797.6M1084,557.3H1797.6M1084,565H1797.6M1084,572.7H1797.6M1084,580.4H1797.6M1084,588.2H1797.6M1084,595.9H1797.6M1084,603.6H1797.6M1084,611.3H1797.6M1084,619H1797.6M1084,626.7H1797.6M1084,634.4H1797.6M1084,642.1H1797.6M1084,649.8H1797.6M1084,657.6H1797.6M1084,665.3H1797.6M1084,673H1797.6M1084,680.7H1797.6M1084,688.4H1797.6M1084,696.1H1797.6M1084,703.8H1797.6M1084,711.5H1797.6M1084,719.2H1797.6M1084,727H1797.6M1084,734.7H1797.6M1084,742.4H1797.6" stroke="#c4c4c4" stroke-width="1" stroke-dasharray="1.1 2.3" fill="none"/>
<path d="M1084.5,322V750 M1798.1,322V750" stroke="#c4c4c4" stroke-width="1" stroke-dasharray="1.1 2.3" fill="none"/>
<path d="M1070.5,321.4V749.8" stroke="#2a2a2a" stroke-width="1.4" fill="none"/>
<path d="M1070.5,322.1h-5M1070.5,326h-5M1070.5,329.8h-5M1070.5,333.7h-5M1070.5,337.5h-5M1070.5,341.4h-9M1070.5,345.3h-5M1070.5,349.1h-5M1070.5,353h-5M1070.5,356.8h-5M1070.5,360.7h-5M1070.5,364.5h-5M1070.5,368.4h-5M1070.5,372.2h-5M1070.5,376.1h-5M1070.5,380h-9M1070.5,383.8h-5M1070.5,387.7h-5M1070.5,391.5h-5M1070.5,395.4h-5M1070.5,399.2h-5M1070.5,403.1h-5M1070.5,406.9h-5M1070.5,410.8h-5M1070.5,414.7h-5M1070.5,418.5h-9M1070.5,422.4h-5M1070.5,426.2h-5M1070.5,430.1h-5M1070.5,433.9h-5M1070.5,437.8h-5M1070.5,441.6h-5M1070.5,445.5h-5M1070.5,449.4h-5M1070.5,453.2h-5M1070.5,457.1h-9M1070.5,460.9h-5M1070.5,464.8h-5M1070.5,468.6h-5M1070.5,472.5h-5M1070.5,476.3h-5M1070.5,480.2h-5M1070.5,484.1h-5M1070.5,487.9h-5M1070.5,491.8h-5M1070.5,495.6h-9M1070.5,499.5h-5M1070.5,503.3h-5M1070.5,507.2h-5M1070.5,511h-5M1070.5,514.9h-5M1070.5,518.8h-5M1070.5,522.6h-5M1070.5,526.5h-5M1070.5,530.3h-5M1070.5,534.2h-9M1070.5,538h-5M1070.5,541.9h-5M1070.5,545.7h-5M1070.5,549.6h-5M1070.5,553.5h-5M1070.5,557.3h-5M1070.5,561.2h-5M1070.5,565h-5M1070.5,568.9h-5M1070.5,572.7h-9M1070.5,576.6h-5M1070.5,580.4h-5M1070.5,584.3h-5M1070.5,588.2h-5M1070.5,592h-5M1070.5,595.9h-5M1070.5,599.7h-5M1070.5,603.6h-5M1070.5,607.4h-5M1070.5,611.3h-9M1070.5,615.1h-5M1070.5,619h-5M1070.5,622.9h-5M1070.5,626.7h-5M1070.5,630.6h-5M1070.5,634.4h-5M1070.5,638.3h-5M1070.5,642.1h-5M1070.5,646h-5M1070.5,649.8h-9M1070.5,653.7h-5M1070.5,657.6h-5M1070.5,661.4h-5M1070.5,665.3h-5M1070.5,669.1h-5M1070.5,673h-5M1070.5,676.8h-5M1070.5,680.7h-5M1070.5,684.5h-5M1070.5,688.4h-9M1070.5,692.3h-5M1070.5,696.1h-5M1070.5,700h-5M1070.5,703.8h-5M1070.5,707.7h-5M1070.5,711.5h-5M1070.5,715.4h-5M1070.5,719.2h-5M1070.5,723.1h-5M1070.5,727h-9M1070.5,730.8h-5M1070.5,734.7h-5M1070.5,738.5h-5M1070.5,742.4h-5M1070.5,746.2h-5" stroke="#2a2a2a" stroke-width="1" fill="none"/>
<text x="1055.4" y="346" font-size="13" fill="#222" font-family='"DejaVu Serif", "Liberation Serif", serif' text-anchor="end">0.0</text>
<text x="1055.4" y="384.6" font-size="13" fill="#222" font-family='"DejaVu Serif", "Liberation Serif", serif' text-anchor="end">-1.0</text>
<text x="1055.4" y="423.1" font-size="13" fill="#222" font-family='"DejaVu Serif", "Liberation Serif", serif' text-anchor="end">-2.0</text>
<text x="1055.4" y="461.7" font-size="13" fill="#222" font-family='"DejaVu Serif", "Liberation Serif", serif' text-anchor="end">-3.0</text>
<text x="1055.4" y="500.2" font-size="13" fill="#222" font-family='"DejaVu Serif", "Liberation Serif", serif' text-anchor="end">-4.0</text>
<text x="1055.4" y="538.8" font-size="13" fill="#222" font-family='"DejaVu Serif", "Liberation Serif", serif' text-anchor="end">-5.0</text>
<text x="1055.4" y="577.3" font-size="13" fill="#222" font-family='"DejaVu Serif", "Liberation Serif", serif' text-anchor="end">-6.0</text>
<text x="1055.4" y="615.9" font-size="13" fill="#222" font-family='"DejaVu Serif", "Liberation Serif", serif' text-anchor="end">-7.0</text>
<text x="1055.4" y="654.4" font-size="13" fill="#222" font-family='"DejaVu Serif", "Liberation Serif", serif' text-anchor="end">-8.0</text>
<text x="1055.4" y="693" font-size="13" fill="#222" font-family='"DejaVu Serif", "Liberation Serif", serif' text-anchor="end">-9.0</text>
<text x="1055.4" y="731.6" font-size="13" fill="#222" font-family='"DejaVu Serif", "Liberation Serif", serif' text-anchor="end">-10.0</text>
<text transform="translate(1015.5,569.5) rotate(-90)" font-size="14.5" fill="#222" font-family='"DejaVu Serif", "Liberation Serif", serif' textLength="65.5" lengthAdjust="spacingAndGlyphs">S-Param (dB)</text>
<path d="M1083.3,754.9H1798.3" stroke="#2a2a2a" stroke-width="1.4" fill="none"/>
<path d="M1084,754.9v6.5M1155.4,754.9v4M1226.7,754.9v4M1298.1,754.9v4M1369.4,754.9v4M1440.8,754.9v4M1512.2,754.9v4M1583.5,754.9v4M1654.9,754.9v4M1726.2,754.9v4M1797.6,754.9v6.5" stroke="#2a2a2a" stroke-width="1.2" fill="none"/>
<text x="1083" y="774.6" font-size="13" fill="#222" font-family='"DejaVu Serif", "Liberation Serif", serif' text-anchor="middle">0.0</text>
<text x="1797" y="774.6" font-size="13" fill="#222" font-family='"DejaVu Serif", "Liberation Serif", serif' text-anchor="middle">30.0</text>
<text x="1405.9" y="788.8" font-size="11.5" fill="#222" font-family='"DejaVu Serif", "Liberation Serif", serif' textLength="67.6" lengthAdjust="spacingAndGlyphs">freq (GHz)</text>
<rect x="1334.9" y="500.3" width="98.7" height="15.8" rx="6" fill="#8b8b8b"/>
<path d="M1429.6,501.8L1453.3,518.4L1429.6,514.6z" fill="#8b8b8b"/>
<circle cx="1344.7" cy="508.2" r="4.8" fill="#1010e8"/>
<text x="1355.5" y="513.3" font-size="13" fill="#fff" font-family='"DejaVu Serif", "Liberation Serif", serif' textLength="73.8" lengthAdjust="spacingAndGlyphs">-4.79844dB</text>
<rect x="1334.9" y="518.8" width="98.7" height="15.8" rx="6" fill="#8b8b8b"/>
<path d="M1429.6,520.3L1451.9,529.4L1429.6,533.1z" fill="#8b8b8b"/>
<circle cx="1344.7" cy="526.7" r="4.8" fill="#10d8d8"/>
<text x="1355.5" y="531.8" font-size="13" fill="#fff" font-family='"DejaVu Serif", "Liberation Serif", serif' textLength="73.8" lengthAdjust="spacingAndGlyphs">-4.95092dB</text>
<rect x="1492" y="500.3" width="100" height="15.8" rx="6" fill="#8b8b8b"/>
<path d="M1496,501.8L1476.7,513.3L1496,514.6z" fill="#8b8b8b"/>
<circle cx="1501.8" cy="508.2" r="4.8" fill="#10e010"/>
<text x="1512.6" y="513.3" font-size="13" fill="#fff" font-family='"DejaVu Serif", "Liberation Serif", serif' textLength="73.8" lengthAdjust="spacingAndGlyphs">-4.58659dB</text>
<rect x="1492" y="518.8" width="100" height="15.8" rx="6" fill="#8b8b8b"/>
<path d="M1496,520.3L1478,526.5L1496,533.1z" fill="#8b8b8b"/>
<circle cx="1501.8" cy="526.7" r="4.8" fill="#e81010"/>
<text x="1512.6" y="531.8" font-size="13" fill="#fff" font-family='"DejaVu Serif", "Liberation Serif", serif' textLength="73.8" lengthAdjust="spacingAndGlyphs">-4.82587dB</text>
<rect x="1492" y="537.2" width="100" height="15.8" rx="6" fill="#8b8b8b"/>
<path d="M1496,538.7L1482,541L1496,551.5z" fill="#8b8b8b"/>
<circle cx="1501.8" cy="545.1" r="4.8" fill="#e8e010"/>
<text x="1512.6" y="550.2" font-size="13" fill="#fff" font-family='"DejaVu Serif", "Liberation Serif", serif' textLength="73.8" lengthAdjust="spacingAndGlyphs">-5.01774dB</text>
<g clip-path="url(#clipR)" fill="none" stroke-linejoin="round" stroke-width="1.45">
<path d="M1083.9,357.5 1086.4,359.2 1088.9,360.8 1091.4,362.4 1093.9,364 1096.4,365.6 1098.9,367.2 1101.4,368.8 1103.9,370.4 1106.4,371.9 1108.9,373.3 1111.4,374.6 1113.8,375.7 1116.3,376.7 1118.8,377.6 1121.3,378.5 1123.8,379.3 1126.3,380.2 1128.8,381.1 1131.3,382 1133.8,382.9 1136.3,383.9 1138.8,384.8 1141.3,385.7 1143.8,386.6 1146.3,387.6 1148.8,388.6 1151.3,389.6 1153.8,390.8 1156.3,391.9 1158.8,393.2 1161.3,394.6 1163.8,396 1166.2,397.5 1168.7,399 1171.2,400.5 1173.7,402 1176.2,403.4 1178.7,404.8 1181.2,406.2 1183.7,407.5 1186.2,408.7 1188.7,410 1191.2,411.1 1193.7,412.3 1196.2,413.5 1198.7,414.6 1201.2,415.8 1203.7,416.9 1206.2,418.1 1208.7,419.3 1211.2,420.5 1213.7,421.7 1216.2,423 1218.7,424.3 1221.2,425.6 1223.6,427 1226.1,428.4 1228.6,429.9 1231.1,431.3 1233.6,432.7 1236.1,434.2 1238.6,435.6 1241.1,436.9 1243.6,438.2 1246.1,439.6 1248.6,441 1251.1,442.5 1253.6,443.9 1256.1,445.3 1258.6,446.6 1261.1,447.7 1263.6,448.8 1266.1,449.7 1268.6,450.5 1271.1,451.1 1273.6,451.6 1276,452 1278.5,452.4 1281,452.8 1283.5,453.1 1286,453.6 1288.5,454.1 1291,454.7 1293.5,455.4 1296,456.4 1298.5,457.7 1301,459.1 1303.5,460.8 1306,462.6 1308.5,464.5 1311,466.4 1313.5,468.3 1316,470.1 1318.5,471.8 1321,473.5 1323.5,475.1 1326,476.8 1328.5,478.6 1331,480.5 1333.4,482.8 1335.9,485.3 1338.4,487.9 1340.9,490.2 1343.4,491.9 1345.9,492.8 1348.4,493.2 1350.9,493.5 1353.4,493.8 1355.9,494 1358.4,494.2 1360.9,494.4 1363.4,494.6 1365.9,494.8 1368.4,495.2 1370.9,495.6 1373.4,496.2 1375.9,496.9 1378.4,497.7 1380.9,498.7 1383.4,499.7 1385.8,500.8 1388.3,502 1390.8,503.3 1393.3,504.7 1395.8,506.2 1398.3,508.1 1400.8,510.6 1403.3,513.5 1405.8,516.5 1408.3,519.5 1410.8,522.3 1413.3,524.7 1415.8,526.5 1418.3,528 1420.8,529.5 1423.3,530.9 1425.8,532.2 1428.3,533.2 1430.8,534 1433.3,534.4 1435.8,534.4 1438.3,534.3 1440.8,534.1 1443.2,533.9 1445.7,533.6 1448.2,533.4 1450.7,533.2 1453.2,533.1 1455.7,533.1 1458.2,533.2 1460.7,533.5 1463.2,533.9 1465.7,534.5 1468.2,535.1 1470.7,535.7 1473.2,536.8 1475.7,538.5 1478.2,540.6 1480.7,542.9 1483.2,545.1 1485.7,547 1488.2,548.5 1490.7,549.8 1493.2,551.1 1495.7,552.3 1498.1,553.5 1500.6,554.8 1503.1,556.2 1505.6,558 1508.1,560.2 1510.6,562.4 1513.1,564.7 1515.6,566.8 1518.1,568.7 1520.6,570 1523.1,570.8 1525.6,571 1528.1,571.2 1530.6,571.3 1533.1,571.4 1535.6,571.5 1538.1,571.6 1540.6,571.6 1543.1,571.7 1545.6,571.8 1548.1,571.9 1550.5,572.1 1553,572.3 1555.5,572.7 1558,573.5 1560.5,574.5 1563,575.9 1565.5,577.4 1568,579.2 1570.5,581 1573,582.9 1575.5,584.8 1578,586.7 1580.5,588.5 1583,590.1 1585.5,591.8 1588,593.6 1590.5,595.7 1593,597.7 1595.5,599.8 1598,601.9 1600.5,603.8 1603,605.5 1605.4,607 1607.9,608.3 1610.4,609.1 1612.9,609.5 1615.4,609.7 1617.9,609.9 1620.4,610 1622.9,610.1 1625.4,610.2 1627.9,610.3 1630.4,610.3 1632.9,610.4 1635.4,610.5 1637.9,610.7 1640.4,610.8 1642.9,611 1645.4,611.5 1647.9,612.3 1650.4,613.4 1652.9,614.8 1655.4,616.4 1657.9,618.1 1660.3,619.9 1662.8,621.8 1665.3,623.7 1667.8,625.6 1670.3,627.4 1672.8,629.2 1675.3,631 1677.8,633.2 1680.3,635.5 1682.8,637.8 1685.3,640.3 1687.8,642.6 1690.3,644.8 1692.8,646.8 1695.3,648.5 1697.8,649.9 1700.3,650.8 1702.8,651.2 1705.3,651.4 1707.8,651.6 1710.3,651.7 1712.8,651.8 1715.2,651.9 1717.7,652 1720.2,652.1 1722.7,652.3 1725.2,652.5 1727.7,652.9 1730.2,653.5 1732.7,654.3 1735.2,655.3 1737.7,656.4 1740.2,657.7 1742.7,659 1745.2,660.4 1747.7,661.8 1750.2,663.2 1752.7,664.5 1755.2,666 1757.7,667.6 1760.2,669.4 1762.7,671.3 1765.2,673.1 1767.7,674.9 1770.1,676.5 1772.6,677.9 1775.1,679 1777.6,679.7 1780.1,680.4 1782.6,681.1 1785.1,681.7 1787.6,682.2 1790.1,682.7 1792.6,683 1795.1,683.2 1797.6,683.3" stroke="#cccb00"/>
<path d="M1083.9,357.5 1086.4,359.2 1088.9,360.8 1091.4,362.4 1093.9,364 1096.4,365.6 1098.9,367.2 1101.4,368.8 1103.9,370.4 1106.4,371.9 1108.9,373.3 1111.4,374.6 1113.8,375.7 1116.3,376.7 1118.8,377.6 1121.3,378.5 1123.8,379.3 1126.3,380.2 1128.8,381.1 1131.3,382 1133.8,382.9 1136.3,383.9 1138.8,384.8 1141.3,385.7 1143.8,386.6 1146.3,387.6 1148.8,388.6 1151.3,389.6 1153.8,390.7 1156.3,392 1158.8,393.3 1161.3,394.7 1163.8,396.2 1166.2,397.8 1168.7,399.4 1171.2,401 1173.7,402.6 1176.2,404.1 1178.7,405.6 1181.2,407 1183.7,408.3 1186.2,409.6 1188.7,410.8 1191.2,412 1193.7,413.2 1196.2,414.3 1198.7,415.5 1201.2,416.6 1203.7,417.8 1206.2,418.9 1208.7,420 1211.2,421.2 1213.7,422.3 1216.2,423.5 1218.7,424.7 1221.2,425.9 1223.6,427.1 1226.1,428.3 1228.6,429.5 1231.1,430.7 1233.6,431.9 1236.1,433.2 1238.6,434.4 1241.1,435.7 1243.6,436.9 1246.1,438.3 1248.6,439.7 1251.1,441.2 1253.6,442.6 1256.1,444.1 1258.6,445.4 1261.1,446.7 1263.6,447.9 1266.1,448.9 1268.6,449.7 1271.1,450.4 1273.6,451 1276,451.5 1278.5,452 1281,452.4 1283.5,452.9 1286,453.4 1288.5,454 1291,454.6 1293.5,455.4 1296,456.4 1298.5,457.5 1301,458.7 1303.5,460.1 1306,461.5 1308.5,463.1 1311,464.6 1313.5,466.2 1316,467.8 1318.5,469.3 1321,470.9 1323.5,472.5 1326,474.2 1328.5,476 1331,477.8 1333.4,480.1 1335.9,482.6 1338.4,485.1 1340.9,487.4 1343.4,489.1 1345.9,490.2 1348.4,490.8 1350.9,491.3 1353.4,491.7 1355.9,492.1 1358.4,492.4 1360.9,492.7 1363.4,493 1365.9,493.4 1368.4,493.8 1370.9,494.4 1373.4,495 1375.9,495.7 1378.4,496.4 1380.9,497.2 1383.4,498.1 1385.8,499 1388.3,500 1390.8,501.1 1393.3,502.2 1395.8,503.5 1398.3,505.3 1400.8,507.5 1403.3,510 1405.8,512.6 1408.3,515.3 1410.8,517.7 1413.3,519.8 1415.8,521.3 1418.3,522.5 1420.8,523.6 1423.3,524.7 1425.8,525.6 1428.3,526.5 1430.8,527.2 1433.3,527.9 1435.8,528.5 1438.3,529 1440.8,529.4 1443.2,529.7 1445.7,530 1448.2,530.2 1450.7,530.4 1453.2,530.6 1455.7,530.8 1458.2,531.1 1460.7,531.4 1463.2,531.7 1465.7,532.1 1468.2,532.8 1470.7,533.5 1473.2,534.4 1475.7,535.5 1478.2,536.7 1480.7,537.9 1483.2,539.2 1485.7,540.6 1488.2,542 1490.7,543.5 1493.2,544.9 1495.7,546.4 1498.1,547.9 1500.6,549.7 1503.1,551.7 1505.6,553.9 1508.1,556.2 1510.6,558.4 1513.1,560.6 1515.6,562.5 1518.1,564.1 1520.6,565.4 1523.1,566.2 1525.6,566.6 1528.1,567 1530.6,567.3 1533.1,567.5 1535.6,567.7 1538.1,567.8 1540.6,568 1543.1,568.2 1545.6,568.4 1548.1,568.6 1550.5,568.9 1553,569.3 1555.5,569.8 1558,570.4 1560.5,571.3 1563,572.2 1565.5,573.3 1568,574.5 1570.5,575.7 1573,577.1 1575.5,578.5 1578,579.9 1580.5,581.3 1583,582.7 1585.5,584.3 1588,586.1 1590.5,588.2 1593,590.5 1595.5,592.8 1598,595.1 1600.5,597.4 1603,599.5 1605.4,601.4 1607.9,603 1610.4,604.2 1612.9,605.1 1615.4,605.6 1617.9,606.1 1620.4,606.5 1622.9,606.8 1625.4,607 1627.9,607.3 1630.4,607.6 1632.9,607.8 1635.4,608.2 1637.9,608.6 1640.4,609 1642.9,609.6 1645.4,610.4 1647.9,611.5 1650.4,612.8 1652.9,614.4 1655.4,616.1 1657.9,617.9 1660.3,619.8 1662.8,621.7 1665.3,623.7 1667.8,625.6 1670.3,627.4 1672.8,629.2 1675.3,630.9 1677.8,632.8 1680.3,634.8 1682.8,636.8 1685.3,638.9 1687.8,640.9 1690.3,642.8 1692.8,644.6 1695.3,646.2 1697.8,647.7 1700.3,648.9 1702.8,649.9 1705.3,650.7 1707.8,651.3 1710.3,651.9 1712.8,652.4 1715.2,652.9 1717.7,653.4 1720.2,654 1722.7,654.7 1725.2,655.4 1727.7,656.3 1730.2,657.3 1732.7,658.5 1735.2,659.7 1737.7,661.1 1740.2,662.5 1742.7,664 1745.2,665.6 1747.7,667.2 1750.2,668.9 1752.7,670.6 1755.2,672.5 1757.7,674.7 1760.2,677.1 1762.7,679.6 1765.2,682.1 1767.7,684.6 1770.1,686.9 1772.6,688.9 1775.1,690.6 1777.6,691.9 1780.1,693.1 1782.6,694.3 1785.1,695.3 1787.6,696.3 1790.1,697.2 1792.6,697.9 1795.1,698.4 1797.6,698.8" stroke="#0ccfd2"/>
<path d="M1083.9,357.5 1086.4,359.2 1088.9,360.8 1091.4,362.4 1093.9,364 1096.4,365.6 1098.9,367.2 1101.4,368.8 1103.9,370.4 1106.4,371.9 1108.9,373.3 1111.4,374.6 1113.8,375.7 1116.3,376.7 1118.8,377.6 1121.3,378.5 1123.8,379.3 1126.3,380.2 1128.8,381.1 1131.3,382 1133.8,383 1136.3,384 1138.8,385 1141.3,386 1143.8,387 1146.3,388 1148.8,389 1151.3,389.9 1153.8,390.8 1156.3,391.6 1158.8,392.3 1161.3,393 1163.8,393.7 1166.2,394.4 1168.7,395.3 1171.2,396.3 1173.7,397.4 1176.2,398.5 1178.7,399.7 1181.2,400.9 1183.7,402.1 1186.2,403.3 1188.7,404.5 1191.2,405.7 1193.7,406.8 1196.2,408 1198.7,409.1 1201.2,410.3 1203.7,411.4 1206.2,412.6 1208.7,413.7 1211.2,414.9 1213.7,416 1216.2,417.2 1218.7,418.4 1221.2,419.5 1223.6,420.6 1226.1,421.8 1228.6,422.9 1231.1,424 1233.6,425 1236.1,426.1 1238.6,427.2 1241.1,428.2 1243.6,429.2 1246.1,430.1 1248.6,431 1251.1,431.9 1253.6,432.8 1256.1,433.6 1258.6,434.4 1261.1,435.3 1263.6,436.1 1266.1,437 1268.6,437.8 1271.1,438.8 1273.6,439.7 1276,440.7 1278.5,441.8 1281,443 1283.5,444.2 1286,445.6 1288.5,447.1 1291,448.7 1293.5,450.3 1296,452 1298.5,453.6 1301,455.1 1303.5,456.6 1306,458 1308.5,459.3 1311,460.6 1313.5,461.9 1316,463.2 1318.5,464.5 1321,465.7 1323.5,466.8 1326,467.8 1328.5,468.8 1331,469.6 1333.4,470.4 1335.9,471 1338.4,471.6 1340.9,472.2 1343.4,472.7 1345.9,473.2 1348.4,473.7 1350.9,474.3 1353.4,474.9 1355.9,475.5 1358.4,476.2 1360.9,477 1363.4,477.9 1365.9,478.9 1368.4,480.1 1370.9,481.3 1373.4,482.7 1375.9,484 1378.4,485.4 1380.9,486.8 1383.4,488.2 1385.8,489.7 1388.3,491.3 1390.8,492.9 1393.3,494.6 1395.8,496.3 1398.3,497.9 1400.8,499.4 1403.3,500.8 1405.8,502.1 1408.3,503.2 1410.8,504.2 1413.3,505.1 1415.8,506 1418.3,506.8 1420.8,507.6 1423.3,508.3 1425.8,509 1428.3,509.6 1430.8,510.2 1433.3,510.7 1435.8,511.2 1438.3,511.5 1440.8,511.8 1443.2,512.1 1445.7,512.4 1448.2,512.8 1450.7,513.2 1453.2,513.7 1455.7,514.5 1458.2,515.5 1460.7,516.6 1463.2,517.8 1465.7,519 1468.2,520.4 1470.7,521.8 1473.2,523.3 1475.7,524.9 1478.2,526.6 1480.7,528.3 1483.2,529.9 1485.7,531.6 1488.2,533.2 1490.7,534.7 1493.2,536.2 1495.7,537.5 1498.1,538.7 1500.6,539.9 1503.1,541 1505.6,542.1 1508.1,543.2 1510.6,544.3 1513.1,545.4 1515.6,546.4 1518.1,547.4 1520.6,548.3 1523.1,549.3 1525.6,550.2 1528.1,551.1 1530.6,551.9 1533.1,552.8 1535.6,553.6 1538.1,554.3 1540.6,555 1543.1,555.7 1545.6,556.2 1548.1,556.8 1550.5,557.3 1553,557.9 1555.5,558.5 1558,559.1 1560.5,559.9 1563,560.8 1565.5,561.9 1568,563.3 1570.5,564.9 1573,566.6 1575.5,568.2 1578,569.8 1580.5,571.2 1583,572.3 1585.5,573.2 1588,574.1 1590.5,575 1593,575.8 1595.5,576.6 1598,577.2 1600.5,577.7 1603,578.1 1605.4,578.4 1607.9,578.5 1610.4,578.7 1612.9,578.8 1615.4,578.9 1617.9,579 1620.4,579.1 1622.9,579.3 1625.4,579.5 1627.9,579.7 1630.4,580.3 1632.9,581.2 1635.4,582.4 1637.9,583.9 1640.4,585.5 1642.9,587.2 1645.4,589 1647.9,590.8 1650.4,592.4 1652.9,594.1 1655.4,595.9 1657.9,597.9 1660.3,600.1 1662.8,602.3 1665.3,604.5 1667.8,606.6 1670.3,608.6 1672.8,610.4 1675.3,611.9 1677.8,613 1680.3,613.7 1682.8,614.1 1685.3,614.4 1687.8,614.6 1690.3,614.8 1692.8,614.9 1695.3,615 1697.8,615.1 1700.3,615.2 1702.8,615.4 1705.3,615.5 1707.8,615.7 1710.3,615.9 1712.8,616.2 1715.2,616.5 1717.7,617.2 1720.2,618.2 1722.7,619.4 1725.2,620.9 1727.7,622.5 1730.2,624.2 1732.7,626 1735.2,627.8 1737.7,629.5 1740.2,631.2 1742.7,632.7 1745.2,634.1 1747.7,635.2 1750.2,636.4 1752.7,637.7 1755.2,638.9 1757.7,640.1 1760.2,641.3 1762.7,642.2 1765.2,643 1767.7,643.5 1770.1,643.7 1772.6,643.7 1775.1,643.7 1777.6,643.7 1780.1,643.6 1782.6,643.5 1785.1,643.3 1787.6,643.1 1790.1,642.8 1792.6,642.4 1795.1,641.9 1797.6,641.3" stroke="#08c408"/>
<path d="M1083.9,357.5 1086.4,359.2 1088.9,360.8 1091.4,362.4 1093.9,364 1096.4,365.6 1098.9,367.2 1101.4,368.8 1103.9,370.4 1106.4,371.9 1108.9,373.3 1111.4,374.6 1113.8,375.7 1116.3,376.7 1118.8,377.6 1121.3,378.5 1123.8,379.3 1126.3,380.2 1128.8,381.1 1131.3,382 1133.8,383 1136.3,383.9 1138.8,384.8 1141.3,385.8 1143.8,386.8 1146.3,387.7 1148.8,388.7 1151.3,389.7 1153.8,390.8 1156.3,391.8 1158.8,392.9 1161.3,394 1163.8,395.1 1166.2,396.3 1168.7,397.5 1171.2,398.6 1173.7,399.8 1176.2,400.9 1178.7,402.1 1181.2,403.2 1183.7,404.4 1186.2,405.5 1188.7,406.6 1191.2,407.7 1193.7,408.8 1196.2,409.9 1198.7,411 1201.2,412.1 1203.7,413.3 1206.2,414.4 1208.7,415.5 1211.2,416.7 1213.7,417.8 1216.2,419 1218.7,420.2 1221.2,421.4 1223.6,422.7 1226.1,423.9 1228.6,425.2 1231.1,426.4 1233.6,427.7 1236.1,429 1238.6,430.3 1241.1,431.5 1243.6,432.8 1246.1,434.1 1248.6,435.5 1251.1,436.8 1253.6,438.1 1256.1,439.5 1258.6,440.8 1261.1,442 1263.6,443.2 1266.1,444.4 1268.6,445.4 1271.1,446.4 1273.6,447.3 1276,448.1 1278.5,449 1281,449.8 1283.5,450.6 1286,451.4 1288.5,452.2 1291,453.1 1293.5,454 1296,455 1298.5,456 1301,456.9 1303.5,457.9 1306,459 1308.5,460 1311,461.1 1313.5,462.1 1316,463.2 1318.5,464.4 1321,465.6 1323.5,466.8 1326,468.1 1328.5,469.4 1331,470.7 1333.4,472 1335.9,473.3 1338.4,474.6 1340.9,475.8 1343.4,477 1345.9,478.1 1348.4,479.2 1350.9,480.2 1353.4,481.2 1355.9,482.3 1358.4,483.3 1360.9,484.4 1363.4,485.5 1365.9,486.6 1368.4,487.7 1370.9,488.8 1373.4,489.9 1375.9,491 1378.4,492.2 1380.9,493.4 1383.4,494.6 1385.8,495.9 1388.3,497.3 1390.8,498.7 1393.3,500.1 1395.8,501.5 1398.3,503 1400.8,504.4 1403.3,505.8 1405.8,507.1 1408.3,508.4 1410.8,509.7 1413.3,511 1415.8,512.3 1418.3,513.6 1420.8,514.8 1423.3,516.1 1425.8,517.2 1428.3,518.3 1430.8,519.3 1433.3,520.2 1435.8,521 1438.3,521.7 1440.8,522.3 1443.2,522.8 1445.7,523.4 1448.2,523.9 1450.7,524.4 1453.2,524.9 1455.7,525.4 1458.2,525.9 1460.7,526.6 1463.2,527.2 1465.7,528 1468.2,528.9 1470.7,529.8 1473.2,530.9 1475.7,532 1478.2,533.2 1480.7,534.4 1483.2,535.6 1485.7,536.9 1488.2,538.2 1490.7,539.6 1493.2,540.9 1495.7,542.2 1498.1,543.5 1500.6,544.8 1503.1,546 1505.6,547.2 1508.1,548.3 1510.6,549.4 1513.1,550.4 1515.6,551.4 1518.1,552.4 1520.6,553.4 1523.1,554.4 1525.6,555.4 1528.1,556.4 1530.6,557.4 1533.1,558.3 1535.6,559.3 1538.1,560.3 1540.6,561.3 1543.1,562.3 1545.6,563.2 1548.1,564.2 1550.5,565.2 1553,566.1 1555.5,567.1 1558,568.1 1560.5,569.1 1563,570.1 1565.5,571.2 1568,572.3 1570.5,573.4 1573,574.6 1575.5,575.8 1578,577.1 1580.5,578.4 1583,579.7 1585.5,581 1588,582.3 1590.5,583.6 1593,584.8 1595.5,586 1598,587.1 1600.5,588.2 1603,589.2 1605.4,590.1 1607.9,591 1610.4,591.9 1612.9,592.8 1615.4,593.7 1617.9,594.7 1620.4,595.7 1622.9,596.7 1625.4,597.9 1627.9,599.2 1630.4,600.6 1632.9,602.1 1635.4,603.8 1637.9,605.6 1640.4,607.5 1642.9,609.5 1645.4,611.5 1647.9,613.6 1650.4,615.6 1652.9,617.7 1655.4,619.8 1657.9,621.8 1660.3,623.8 1662.8,626 1665.3,628.3 1667.8,630.6 1670.3,632.9 1672.8,635.2 1675.3,637.5 1677.8,639.7 1680.3,641.8 1682.8,643.7 1685.3,645.5 1687.8,647.1 1690.3,648.6 1692.8,649.9 1695.3,651.2 1697.8,652.4 1700.3,653.5 1702.8,654.6 1705.3,655.7 1707.8,656.8 1710.3,658 1712.8,659.2 1715.2,660.6 1717.7,662 1720.2,663.5 1722.7,665.1 1725.2,666.8 1727.7,668.6 1730.2,670.4 1732.7,672.2 1735.2,674 1737.7,675.9 1740.2,677.7 1742.7,679.5 1745.2,681.3 1747.7,683.1 1750.2,684.9 1752.7,686.7 1755.2,688.6 1757.7,690.4 1760.2,692.3 1762.7,694.1 1765.2,695.9 1767.7,697.6 1770.1,699.3 1772.6,700.9 1775.1,702.5 1777.6,703.9 1780.1,705.3 1782.6,706.6 1785.1,707.9 1787.6,709.1 1790.1,710.3 1792.6,711.5 1795.1,712.6 1797.6,713.6" stroke="#dc0c0c"/>
<path d="M1083.9,357.5 1086.4,359.2 1088.9,360.8 1091.4,362.4 1093.9,364 1096.4,365.6 1098.9,367.2 1101.4,368.8 1103.9,370.4 1106.4,371.9 1108.9,373.3 1111.4,374.6 1113.8,375.7 1116.3,376.7 1118.8,377.6 1121.3,378.5 1123.8,379.3 1126.3,380.2 1128.8,381.1 1131.3,382 1133.8,383 1136.3,383.9 1138.8,384.8 1141.3,385.8 1143.8,386.7 1146.3,387.7 1148.8,388.7 1151.3,389.7 1153.8,390.8 1156.3,391.9 1158.8,393 1161.3,394.2 1163.8,395.5 1166.2,396.8 1168.7,398.1 1171.2,399.3 1173.7,400.6 1176.2,401.9 1178.7,403.2 1181.2,404.4 1183.7,405.6 1186.2,406.8 1188.7,408 1191.2,409.1 1193.7,410.3 1196.2,411.4 1198.7,412.6 1201.2,413.7 1203.7,414.9 1206.2,416 1208.7,417.2 1211.2,418.3 1213.7,419.5 1216.2,420.7 1218.7,421.9 1221.2,423.1 1223.6,424.4 1226.1,425.6 1228.6,426.9 1231.1,428.1 1233.6,429.4 1236.1,430.6 1238.6,431.9 1241.1,433.2 1243.6,434.4 1246.1,435.7 1248.6,437 1251.1,438.4 1253.6,439.7 1256.1,441.1 1258.6,442.4 1261.1,443.6 1263.6,444.7 1266.1,445.8 1268.6,446.8 1271.1,447.6 1273.6,448.4 1276,449.1 1278.5,449.8 1281,450.4 1283.5,451.1 1286,451.8 1288.5,452.5 1291,453.3 1293.5,454.2 1296,455.3 1298.5,456.4 1301,457.6 1303.5,458.8 1306,460.1 1308.5,461.5 1311,462.8 1313.5,464.2 1316,465.5 1318.5,466.8 1321,468.1 1323.5,469.4 1326,470.7 1328.5,472 1331,473.4 1333.4,474.7 1335.9,476 1338.4,477.2 1340.9,478.4 1343.4,479.6 1345.9,480.7 1348.4,481.9 1350.9,482.9 1353.4,483.9 1355.9,484.9 1358.4,485.7 1360.9,486.5 1363.4,487.2 1365.9,487.9 1368.4,488.6 1370.9,489.2 1373.4,489.9 1375.9,490.6 1378.4,491.4 1380.9,492.2 1383.4,493.2 1385.8,494.2 1388.3,495.4 1390.8,496.6 1393.3,497.9 1395.8,499.2 1398.3,500.6 1400.8,501.9 1403.3,503.3 1405.8,504.6 1408.3,505.8 1410.8,507 1413.3,508.3 1415.8,509.6 1418.3,510.9 1420.8,512.2 1423.3,513.4 1425.8,514.6 1428.3,515.7 1430.8,516.7 1433.3,517.7 1435.8,518.5 1438.3,519.2 1440.8,519.9 1443.2,520.5 1445.7,521.1 1448.2,521.6 1450.7,522.2 1453.2,522.7 1455.7,523.3 1458.2,523.9 1460.7,524.6 1463.2,525.4 1465.7,526.3 1468.2,527.3 1470.7,528.4 1473.2,529.6 1475.7,530.8 1478.2,532.2 1480.7,533.6 1483.2,535 1485.7,536.4 1488.2,537.8 1490.7,539.3 1493.2,540.6 1495.7,542 1498.1,543.3 1500.6,544.7 1503.1,546.1 1505.6,547.7 1508.1,549.2 1510.6,550.6 1513.1,552 1515.6,553.3 1518.1,554.3 1520.6,555.2 1523.1,555.8 1525.6,556.2 1528.1,556.6 1530.6,556.8 1533.1,557 1535.6,557.2 1538.1,557.4 1540.6,557.6 1543.1,557.8 1545.6,558 1548.1,558.2 1550.5,558.5 1553,558.9 1555.5,559.4 1558,560.1 1560.5,560.9 1563,561.9 1565.5,563 1568,564.3 1570.5,565.5 1573,566.9 1575.5,568.3 1578,569.6 1580.5,571 1583,572.3 1585.5,573.7 1588,575.2 1590.5,576.9 1593,578.7 1595.5,580.5 1598,582.3 1600.5,584 1603,585.7 1605.4,587.1 1607.9,588.4 1610.4,589.4 1612.9,590.2 1615.4,590.7 1617.9,591.1 1620.4,591.5 1622.9,591.8 1625.4,592.1 1627.9,592.4 1630.4,592.7 1632.9,593 1635.4,593.3 1637.9,593.7 1640.4,594.1 1642.9,594.7 1645.4,595.5 1647.9,596.4 1650.4,597.6 1652.9,599 1655.4,600.5 1657.9,602 1660.3,603.6 1662.8,605.3 1665.3,606.9 1667.8,608.5 1670.3,609.9 1672.8,611.3 1675.3,612.6 1677.8,614.1 1680.3,615.6 1682.8,617.1 1685.3,618.5 1687.8,620 1690.3,621.3 1692.8,622.6 1695.3,623.7 1697.8,624.6 1700.3,625.4 1702.8,625.9 1705.3,626.4 1707.8,626.7 1710.3,627 1712.8,627.2 1715.2,627.4 1717.7,627.7 1720.2,627.9 1722.7,628.3 1725.2,628.7 1727.7,629.2 1730.2,630 1732.7,631 1735.2,632 1737.7,633.2 1740.2,634.5 1742.7,635.8 1745.2,637.1 1747.7,638.4 1750.2,639.6 1752.7,640.7 1755.2,641.8 1757.7,643 1760.2,644.2 1762.7,645.4 1765.2,646.6 1767.7,647.7 1770.1,648.6 1772.6,649.4 1775.1,650 1777.6,650.4 1780.1,650.7 1782.6,651 1785.1,651.3 1787.6,651.5 1790.1,651.7 1792.6,651.9 1795.1,652 1797.6,652" stroke="#0c0cd4"/>
</g>
<path d="M1464.5,316.6V754.5" stroke="#000" stroke-width="2.9" stroke-dasharray="12.3 3.4" fill="none"/>
<path d="M1464.5,304.8h23.7v8.6a3,3 0 0 1 -3,3h-17.7a3,3 0 0 1 -3,-3z" fill="#000"/>
<clipPath id="clipV1"><rect x="1460" y="304.5" width="40" height="20"/></clipPath><g clip-path="url(#clipV1)"><text x="1476.5" y="314.2" font-size="14" fill="#fff" font-family='"DejaVu Serif", "Liberation Serif", serif' text-anchor="middle" textLength="19" lengthAdjust="spacingAndGlyphs">V1</text></g>
<rect x="1398.5" y="738.2" width="61.5" height="15.4" rx="2.5" fill="#8d8d8d"/>
<text x="1402.5" y="750.2" font-size="12" fill="#fff" font-family='"DejaVu Serif", "Liberation Serif", serif' textLength="54" lengthAdjust="spacingAndGlyphs">16.0GHz</text>
<rect x="1506.6" y="333.9" width="286.4" height="87.6" fill="#fff"/>
<path d="M1508.6,334.9H1791M1508.6,352.2H1791M1508.6,369.6H1791M1508.6,386.9H1791M1508.6,404.2H1791M1601.4,334.9V419.5M1697.4,334.9V419.5" stroke="#cfcfcf" stroke-width="1" fill="none"/>
<text x="1509.2" y="347.2" font-size="9.7" fill="#222" font-family='"DejaVu Sans", "Liberation Sans", sans-serif' textLength="47.4" lengthAdjust="spacingAndGlyphs">CHANNEL</text>
<text x="1605.3" y="347.2" font-size="9.7" fill="#222" font-family='"DejaVu Sans", "Liberation Sans", sans-serif' textLength="77" lengthAdjust="spacingAndGlyphs">InsLoss_TR1_val</text>
<text x="1722.4" y="347.2" font-size="9.7" fill="#222" font-family='"DejaVu Sans", "Liberation Sans", sans-serif' textLength="46" lengthAdjust="spacingAndGlyphs">-4.826 dB</text>
<text x="1509.2" y="364.5" font-size="9.7" fill="#222" font-family='"DejaVu Sans", "Liberation Sans", sans-serif' textLength="47.4" lengthAdjust="spacingAndGlyphs">CHANNEL</text>
<text x="1605.3" y="364.5" font-size="9.7" fill="#222" font-family='"DejaVu Sans", "Liberation Sans", sans-serif' textLength="77" lengthAdjust="spacingAndGlyphs">InsLoss_TR2_val</text>
<text x="1722.4" y="364.5" font-size="9.7" fill="#222" font-family='"DejaVu Sans", "Liberation Sans", sans-serif' textLength="46" lengthAdjust="spacingAndGlyphs">-5.018 dB</text>
<text x="1509.2" y="381.9" font-size="9.7" fill="#222" font-family='"DejaVu Sans", "Liberation Sans", sans-serif' textLength="47.4" lengthAdjust="spacingAndGlyphs">CHANNEL</text>
<text x="1605.3" y="381.9" font-size="9.7" fill="#222" font-family='"DejaVu Sans", "Liberation Sans", sans-serif' textLength="77" lengthAdjust="spacingAndGlyphs">InsLoss_TR3_val</text>
<text x="1722.4" y="381.9" font-size="9.7" fill="#222" font-family='"DejaVu Sans", "Liberation Sans", sans-serif' textLength="46" lengthAdjust="spacingAndGlyphs">-4.587 dB</text>
<text x="1509.2" y="399.2" font-size="9.7" fill="#222" font-family='"DejaVu Sans", "Liberation Sans", sans-serif' textLength="47.4" lengthAdjust="spacingAndGlyphs">CHANNEL</text>
<text x="1605.3" y="399.2" font-size="9.7" fill="#222" font-family='"DejaVu Sans", "Liberation Sans", sans-serif' textLength="77" lengthAdjust="spacingAndGlyphs">InsLoss_TR4_val</text>
<text x="1722.4" y="399.2" font-size="9.7" fill="#222" font-family='"DejaVu Sans", "Liberation Sans", sans-serif' textLength="46" lengthAdjust="spacingAndGlyphs">-4.951 dB</text>
<text x="1509.2" y="416.5" font-size="9.7" fill="#222" font-family='"DejaVu Sans", "Liberation Sans", sans-serif' textLength="47.4" lengthAdjust="spacingAndGlyphs">CHANNEL</text>
<text x="1605.3" y="416.5" font-size="9.7" fill="#222" font-family='"DejaVu Sans", "Liberation Sans", sans-serif' textLength="77" lengthAdjust="spacingAndGlyphs">InsLoss_TR5_val</text>
<text x="1722.4" y="416.5" font-size="9.7" fill="#222" font-family='"DejaVu Sans", "Liberation Sans", sans-serif' textLength="46" lengthAdjust="spacingAndGlyphs">-4.798 dB</text>
<ellipse cx="1279" cy="450.2" rx="19.3" ry="36" fill="none" stroke="#14245f" stroke-width="6"/>
<ellipse cx="1464.4" cy="527.3" rx="19.2" ry="35.7" fill="none" stroke="#14245f" stroke-width="6"/>
<text x="1212.9" y="532.4" font-size="40.5" fill="#14245f" font-family='"Liberation Sans", sans-serif' textLength="126.9" lengthAdjust="spacingAndGlyphs" stroke="#14245f" stroke-width="0.45">~-2.8dB</text>
<text x="1215.4" y="581.2" font-size="40.5" fill="#14245f" font-family='"Liberation Sans", sans-serif' textLength="120.6" lengthAdjust="spacingAndGlyphs" stroke="#14245f" stroke-width="0.45">@8GHz</text>
<text x="1400.9" y="615.6" font-size="40.5" fill="#14245f" font-family='"Liberation Sans", sans-serif' textLength="127" lengthAdjust="spacingAndGlyphs" stroke="#14245f" stroke-width="0.45">~-4.8dB</text>
<text x="1393.3" y="664.7" font-size="40.5" fill="#14245f" font-family='"Liberation Sans", sans-serif' textLength="141.3" lengthAdjust="spacingAndGlyphs" stroke="#14245f" stroke-width="0.45">@16GHz</text>
</g>
<g id="toolbar" fill="none" stroke="#d2d2d2" stroke-width="1.1">
<circle cx="-5.2" cy="1069.8" r="14.8"/>
<circle cx="47.3" cy="1069.8" r="14.8"/>
<circle cx="99.8" cy="1069.8" r="14.8"/>
<circle cx="152.3" cy="1069.8" r="14.8"/>
<circle cx="204.8" cy="1069.8" r="14.8"/>
<circle cx="257.3" cy="1069.8" r="14.8"/>
<circle cx="309.8" cy="1069.8" r="14.8"/>
<circle cx="362" cy="1069.8" r="14.8"/>
<path d="M45,1064.4v11l8.2,-5.5z"/>
<path d="M92.5,1077l2,-4.5l11.5,-11.5l2.6,2.6l-11.5,11.5z M93.5,1076l-1.6,1.6"/>
<path d="M144.3,1062.5h5v4h-5z M151.3,1061.8h6.3v3h-6.3z M144.3,1068.5h4v6.5h-4z M150,1066.3h9.5v11h-9.5z M151.6,1068h6.2v7.4h-6.2z"/>
<circle cx="202.8" cy="1067.3" r="5.2" stroke-width="1.6"/><path d="M206.6,1071.3l5.6,5.8" stroke-width="2.2"/>
<path d="M249.6,1063.5h15.6v12.6h-15.6z M252,1070.4h10.8 M252,1073h10.8"/>
<path d="M302,1064.3h11v11h-11z M313,1068.6l5.2,-3.2v8.8l-5.2,-3.2 M302,1063.5l13.5,13"/>
<circle cx="356.8" cy="1070" r="1.7"/><circle cx="362" cy="1070" r="1.7"/><circle cx="367.2" cy="1070" r="1.7"/>
</g>
<g id="wm" font-family='"Liberation Sans", sans-serif' font-weight="bold" font-size="35" fill="#000" fill-opacity="0.108">
<text transform="translate(293,33) rotate(-29.7)">Kiwimoore Confidential</text>
<text transform="translate(-276,363) rotate(-29.7)">Kiwimoore Confidential</text>
<text transform="translate(454,311) rotate(-29.7)">Kiwimoore Confidential</text>
<text transform="translate(1184,259) rotate(-29.7)">Kiwimoore Confidential</text>
<text transform="translate(1914,207) rotate(-29.7)">Kiwimoore Confidential</text>
<text transform="translate(-115,641) rotate(-29.7)">Kiwimoore Confidential</text>
<text transform="translate(615,589) rotate(-29.7)">Kiwimoore Confidential</text>
<text transform="translate(1345,537) rotate(-29.7)">Kiwimoore Confidential</text>
<text transform="translate(46,919) rotate(-29.7)">Kiwimoore Confidential</text>
<text transform="translate(776,867) rotate(-29.7)">Kiwimoore Confidential</text>
<text transform="translate(1506,815) rotate(-29.7)">Kiwimoore Confidential</text>
<text transform="translate(207,1197) rotate(-29.7)">Kiwimoore Confidential</text>
<text transform="translate(937,1145) rotate(-29.7)">Kiwimoore Confidential</text>
<text transform="translate(1667,1093) rotate(-29.7)">Kiwimoore Confidential</text>
</g>
<rect x="0" y="1096.7" width="1920" height="12.3" fill="#000"/><rect x="0" y="1097.8" width="1920" height="0.8" fill="#2a2a2a"/>
</svg>
</div>
</body>
</html>
